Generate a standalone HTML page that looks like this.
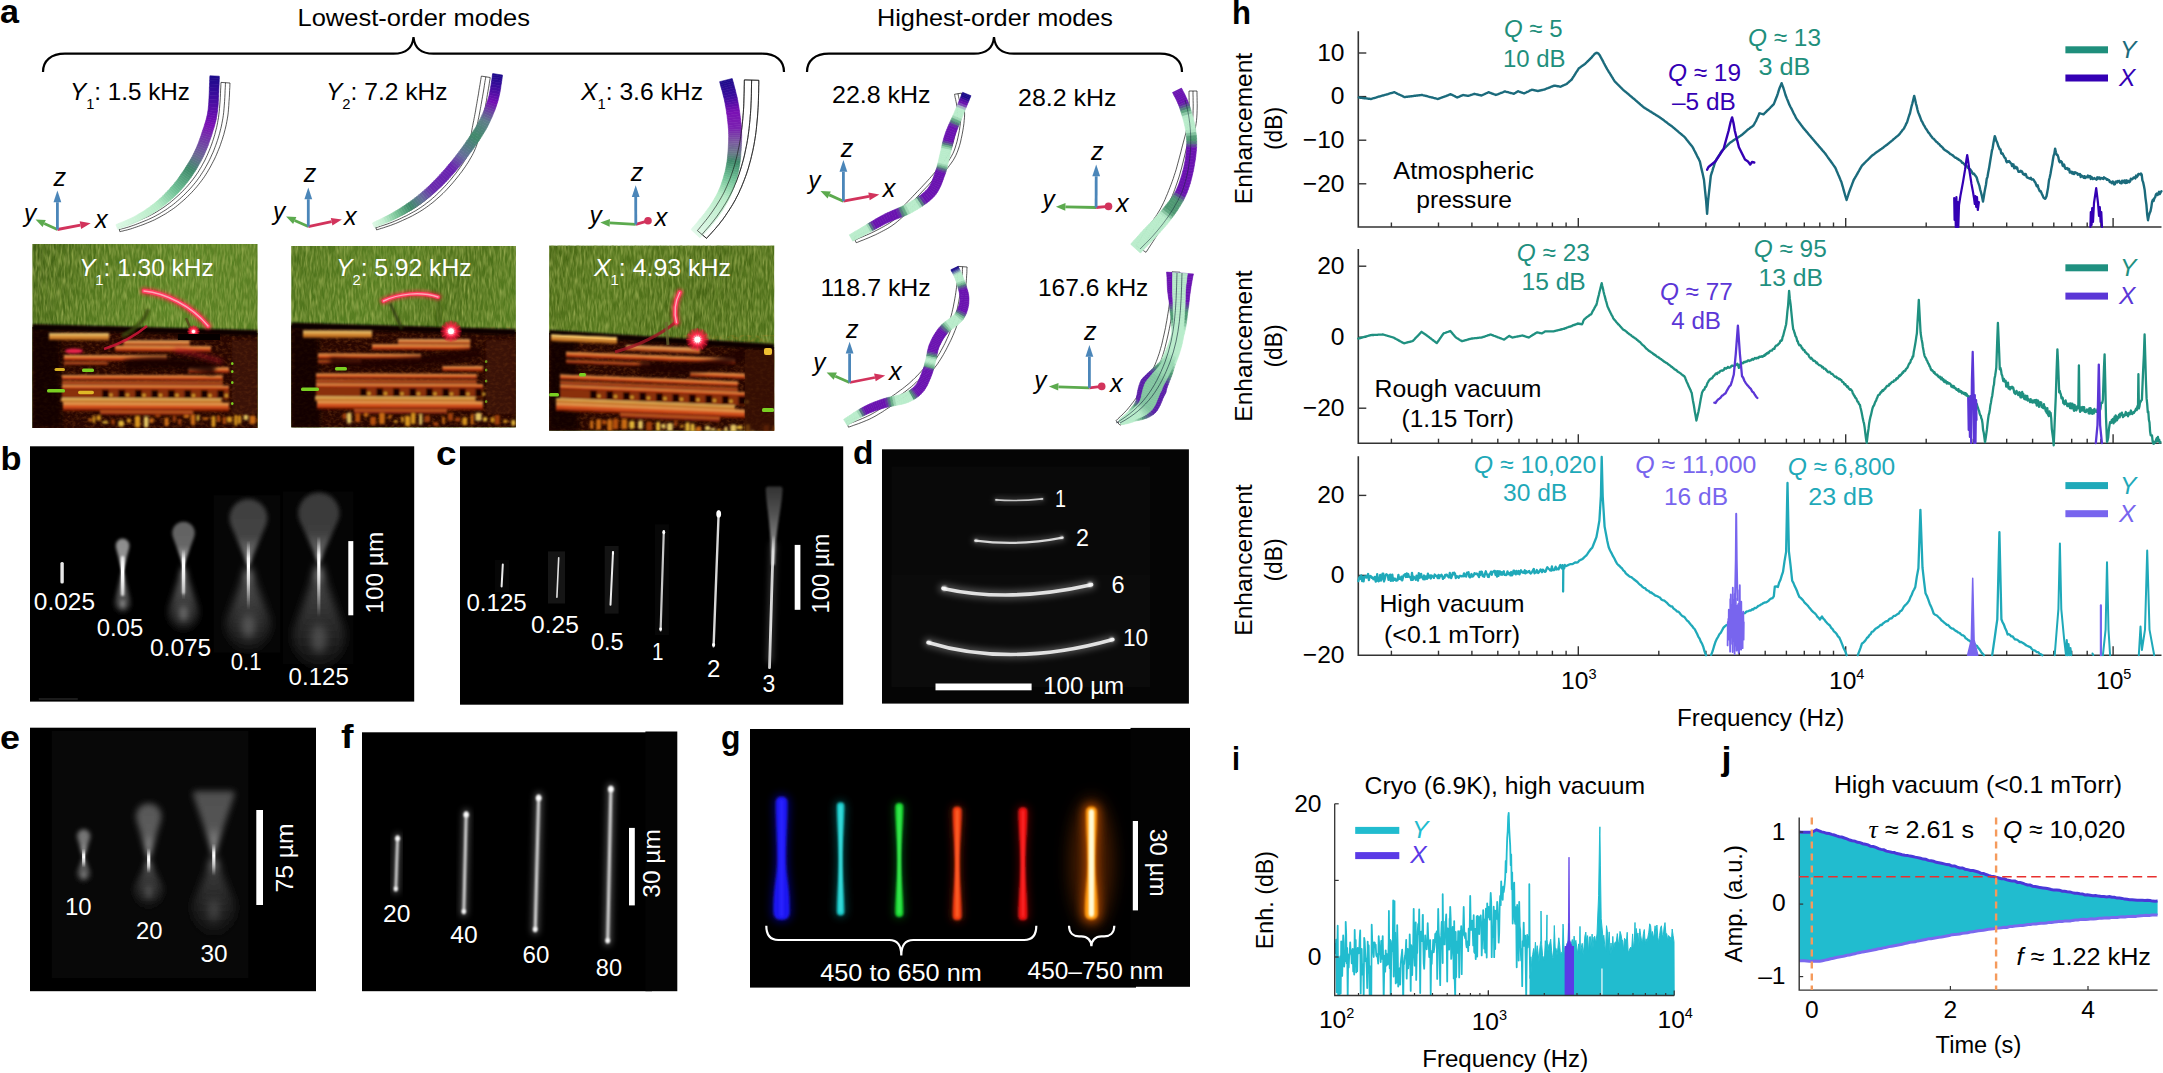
<!DOCTYPE html>
<html><head><meta charset="utf-8"><title>Figure</title>
<style>
html,body{margin:0;padding:0;background:#fff;}
body{width:2163px;height:1073px;overflow:hidden;}
svg{display:block;}
text{font-family:"Liberation Sans",sans-serif;}
</style></head><body>
<svg width="2163" height="1073" viewBox="0 0 2163 1073">
<defs>
<filter id="gnoise" x="0" y="0" width="100%" height="100%"><feTurbulence type="fractalNoise" baseFrequency="0.35 0.06" numOctaves="2" seed="3" result="n"/><feColorMatrix in="n" type="matrix" values="0 0 0 0 0.12  0 0 0 0 0.22  0 0 0 0 0.02  1.1 1.1 0 0 -0.75"/></filter>
<filter id="gnoise2" x="0" y="0" width="100%" height="100%"><feTurbulence type="fractalNoise" baseFrequency="0.5 0.09" numOctaves="2" seed="11" result="n"/><feColorMatrix in="n" type="matrix" values="0 0 0 0 0.62  0 0 0 0 0.68  0 0 0 0 0.2  0 1.6 1.0 0 -1.05"/></filter>
<filter id="cnoise" x="0" y="0" width="100%" height="100%"><feTurbulence type="fractalNoise" baseFrequency="0.25 0.35" numOctaves="2" seed="8" result="n"/><feColorMatrix in="n" type="matrix" values="0 0 0 0 0.75  0 0 0 0 0.22  0 0 0 0 0.02  1.6 0.6 0 0 -0.95"/></filter>
<filter id="b06" x="-300%" y="-100%" width="700%" height="300%"><feGaussianBlur stdDeviation="0.6"/></filter>
<filter id="b09" x="-5%" y="-5%" width="110%" height="110%"><feGaussianBlur stdDeviation="0.9"/></filter>
<filter id="b1" x="-300%" y="-100%" width="700%" height="300%"><feGaussianBlur stdDeviation="1"/></filter>
<filter id="b15" x="-300%" y="-100%" width="700%" height="300%"><feGaussianBlur stdDeviation="1.5"/></filter>
<filter id="b2" x="-300%" y="-100%" width="700%" height="300%"><feGaussianBlur stdDeviation="2"/></filter>
<filter id="b3" x="-300%" y="-100%" width="700%" height="300%"><feGaussianBlur stdDeviation="3"/></filter>
<filter id="b4" x="-300%" y="-100%" width="700%" height="300%"><feGaussianBlur stdDeviation="4"/></filter>
<filter id="b6" x="-300%" y="-100%" width="700%" height="300%"><feGaussianBlur stdDeviation="6"/></filter>
<filter id="b8" x="-300%" y="-100%" width="700%" height="300%"><feGaussianBlur stdDeviation="8"/></filter>
<filter id="b12" x="-300%" y="-100%" width="700%" height="300%"><feGaussianBlur stdDeviation="12"/></filter>
<radialGradient id="spot"><stop offset="0" stop-color="#fff"/><stop offset="0.25" stop-color="#ffd0d8"/><stop offset="0.45" stop-color="#ff3050"/><stop offset="0.75" stop-color="#e01030" stop-opacity="0.55"/><stop offset="1" stop-color="#c00020" stop-opacity="0"/></radialGradient>
<linearGradient id="barg" x1="0" y1="0" x2="0" y2="1"><stop offset="0" stop-color="#ffa24e"/><stop offset="0.45" stop-color="#ee6424"/><stop offset="1" stop-color="#a82c0c"/></linearGradient>
<linearGradient id="barg2" x1="0" y1="0" x2="0" y2="1"><stop offset="0" stop-color="#ffd070"/><stop offset="0.5" stop-color="#f8a040"/><stop offset="1" stop-color="#d05a18"/></linearGradient>
<clipPath id="pc1"><rect x="32.3" y="244" width="225.39999999999998" height="184"/></clipPath>
<linearGradient id="pg1" x1="0" y1="0" x2="1" y2="0.3"><stop offset="0" stop-color="#3d5a12"/><stop offset="0.3" stop-color="#4d721a"/><stop offset="0.65" stop-color="#5a8424"/><stop offset="1" stop-color="#577e22"/></linearGradient>
<clipPath id="pc2"><rect x="291.2" y="246" width="224.7" height="181.60000000000002"/></clipPath>
<linearGradient id="pg2" x1="0" y1="0" x2="1" y2="0.3"><stop offset="0" stop-color="#486c18"/><stop offset="0.4" stop-color="#557e20"/><stop offset="0.75" stop-color="#486a16"/><stop offset="1" stop-color="#527a1e"/></linearGradient>
<clipPath id="pc3"><rect x="549.1" y="245.5" width="225.19999999999993" height="185.3"/></clipPath>
<linearGradient id="pg3" x1="0" y1="0" x2="1" y2="0.3"><stop offset="0" stop-color="#446212"/><stop offset="0.3" stop-color="#4f7219"/><stop offset="0.7" stop-color="#466414"/><stop offset="1" stop-color="#4a6c17"/></linearGradient>
<linearGradient id="g1" x1="0" y1="538.7" x2="0" y2="572" gradientUnits="userSpaceOnUse"><stop offset="0" stop-color="#8c8c8c" stop-opacity="1"/><stop offset="0.55" stop-color="#939393" stop-opacity="1"/><stop offset="0.85" stop-color="#fcfcfc" stop-opacity="1"/><stop offset="1" stop-color="#ffffff" stop-opacity="1"/></linearGradient>
<linearGradient id="g2" x1="0" y1="572" x2="0" y2="611" gradientUnits="userSpaceOnUse"><stop offset="0" stop-color="#ffffff" stop-opacity="1"/><stop offset="0.2" stop-color="#8e8e8e" stop-opacity="0.9"/><stop offset="0.6" stop-color="#5f5f5f" stop-opacity="0.85"/><stop offset="1" stop-color="#343434" stop-opacity="0.7"/></linearGradient>
<linearGradient id="g3" x1="0" y1="559.346" x2="0" y2="593.45" gradientUnits="userSpaceOnUse"><stop offset="0" stop-color="#fff" stop-opacity="0"/><stop offset="0.2597290640394086" stop-color="#fff" stop-opacity="0.9"/><stop offset="0.37104152005629804" stop-color="#fff" stop-opacity="1"/><stop offset="0.621041520056298" stop-color="#fff" stop-opacity="0.7"/><stop offset="1" stop-color="#fff" stop-opacity="0"/></linearGradient>
<linearGradient id="g4" x1="0" y1="521.7" x2="0" y2="566" gradientUnits="userSpaceOnUse"><stop offset="0" stop-color="#626262" stop-opacity="1"/><stop offset="0.55" stop-color="#666666" stop-opacity="1"/><stop offset="0.85" stop-color="#b0b0b0" stop-opacity="1"/><stop offset="1" stop-color="#ffffff" stop-opacity="1"/></linearGradient>
<linearGradient id="g5" x1="0" y1="566" x2="0" y2="627" gradientUnits="userSpaceOnUse"><stop offset="0" stop-color="#ffffff" stop-opacity="1"/><stop offset="0.2" stop-color="#696969" stop-opacity="0.9"/><stop offset="0.6" stop-color="#464646" stop-opacity="0.85"/><stop offset="1" stop-color="#262626" stop-opacity="0.7"/></linearGradient>
<linearGradient id="g6" x1="0" y1="549.166" x2="0" y2="599.55" gradientUnits="userSpaceOnUse"><stop offset="0" stop-color="#fff" stop-opacity="0"/><stop offset="0.23387980311209886" stop-color="#fff" stop-opacity="0.9"/><stop offset="0.33411400444585554" stop-color="#fff" stop-opacity="1"/><stop offset="0.5841140044458555" stop-color="#fff" stop-opacity="0.7"/><stop offset="1" stop-color="#fff" stop-opacity="0"/></linearGradient>
<linearGradient id="g7" x1="0" y1="499.1" x2="0" y2="566" gradientUnits="userSpaceOnUse"><stop offset="0" stop-color="#404040" stop-opacity="1"/><stop offset="0.55" stop-color="#434343" stop-opacity="1"/><stop offset="0.85" stop-color="#737373" stop-opacity="1"/><stop offset="1" stop-color="#ffffff" stop-opacity="1"/></linearGradient>
<linearGradient id="g8" x1="0" y1="566" x2="0" y2="646" gradientUnits="userSpaceOnUse"><stop offset="0" stop-color="#ffffff" stop-opacity="1"/><stop offset="0.2" stop-color="#575757" stop-opacity="0.9"/><stop offset="0.6" stop-color="#3a3a3a" stop-opacity="0.85"/><stop offset="1" stop-color="#1f1f1f" stop-opacity="0.7"/></linearGradient>
<linearGradient id="g9" x1="0" y1="540.578" x2="0" y2="610.0" gradientUnits="userSpaceOnUse"><stop offset="0" stop-color="#fff" stop-opacity="0"/><stop offset="0.2563366079917028" stop-color="#fff" stop-opacity="0.9"/><stop offset="0.3661951542738612" stop-color="#fff" stop-opacity="1"/><stop offset="0.6161951542738612" stop-color="#fff" stop-opacity="0.7"/><stop offset="1" stop-color="#fff" stop-opacity="0"/></linearGradient>
<linearGradient id="g10" x1="0" y1="492.4" x2="0" y2="563" gradientUnits="userSpaceOnUse"><stop offset="0" stop-color="#3a3a3a" stop-opacity="1"/><stop offset="0.55" stop-color="#3c3c3c" stop-opacity="1"/><stop offset="0.85" stop-color="#686868" stop-opacity="1"/><stop offset="1" stop-color="#ffffff" stop-opacity="1"/></linearGradient>
<linearGradient id="g11" x1="0" y1="563" x2="0" y2="662" gradientUnits="userSpaceOnUse"><stop offset="0" stop-color="#ffffff" stop-opacity="1"/><stop offset="0.2" stop-color="#4b4b4b" stop-opacity="0.9"/><stop offset="0.6" stop-color="#323232" stop-opacity="0.85"/><stop offset="1" stop-color="#1b1b1b" stop-opacity="0.7"/></linearGradient>
<linearGradient id="g12" x1="0" y1="536.172" x2="0" y2="617.45" gradientUnits="userSpaceOnUse"><stop offset="0" stop-color="#fff" stop-opacity="0"/><stop offset="0.23105391372819215" stop-color="#fff" stop-opacity="0.9"/><stop offset="0.3300770196117031" stop-color="#fff" stop-opacity="1"/><stop offset="0.5800770196117031" stop-color="#fff" stop-opacity="0.7"/><stop offset="1" stop-color="#fff" stop-opacity="0"/></linearGradient>
<linearGradient id="g13" x1="0" y1="486.5" x2="0" y2="565" gradientUnits="userSpaceOnUse"><stop offset="0" stop-color="#666" stop-opacity="0.5"/><stop offset="0.35" stop-color="#888" stop-opacity="0.6"/><stop offset="0.75" stop-color="#bbb" stop-opacity="0.75"/><stop offset="1" stop-color="#e8e8e8" stop-opacity="0.9"/></linearGradient>
<linearGradient id="g14" x1="0" y1="535" x2="0" y2="668" gradientUnits="userSpaceOnUse"><stop offset="0" stop-color="#fff" stop-opacity="0.0"/><stop offset="0.12" stop-color="#fff" stop-opacity="0.85"/><stop offset="0.7" stop-color="#fff" stop-opacity="0.95"/><stop offset="1" stop-color="#fff" stop-opacity="0.8"/></linearGradient>
<filter id="b3w" x="-20%" y="-300%" width="140%" height="700%"><feGaussianBlur stdDeviation="3"/></filter>
<linearGradient id="g15" x1="0" y1="829.1999999999999" x2="0" y2="857" gradientUnits="userSpaceOnUse"><stop offset="0" stop-color="#737373" stop-opacity="1"/><stop offset="0.55" stop-color="#787878" stop-opacity="1"/><stop offset="0.85" stop-color="#cfcfcf" stop-opacity="1"/><stop offset="1" stop-color="#ffffff" stop-opacity="1"/></linearGradient>
<linearGradient id="g16" x1="0" y1="857" x2="0" y2="881" gradientUnits="userSpaceOnUse"><stop offset="0" stop-color="#ffffff" stop-opacity="1"/><stop offset="0.2" stop-color="#7f7f7f" stop-opacity="0.9"/><stop offset="0.6" stop-color="#555555" stop-opacity="0.85"/><stop offset="1" stop-color="#2e2e2e" stop-opacity="0.7"/></linearGradient>
<linearGradient id="g17" x1="0" y1="848.5488" x2="0" y2="867.56" gradientUnits="userSpaceOnUse"><stop offset="0" stop-color="#fff" stop-opacity="0"/><stop offset="0.31117656960107765" stop-color="#fff" stop-opacity="0.9"/><stop offset="0.4445379565729681" stop-color="#fff" stop-opacity="1"/><stop offset="0.6945379565729681" stop-color="#fff" stop-opacity="0.7"/><stop offset="1" stop-color="#fff" stop-opacity="0"/></linearGradient>
<linearGradient id="g18" x1="0" y1="803.3" x2="0" y2="859.8" gradientUnits="userSpaceOnUse"><stop offset="0" stop-color="#585858" stop-opacity="1"/><stop offset="0.55" stop-color="#5c5c5c" stop-opacity="1"/><stop offset="0.85" stop-color="#9e9e9e" stop-opacity="1"/><stop offset="1" stop-color="#ffffff" stop-opacity="1"/></linearGradient>
<linearGradient id="g19" x1="0" y1="859.8" x2="0" y2="904" gradientUnits="userSpaceOnUse"><stop offset="0" stop-color="#ffffff" stop-opacity="1"/><stop offset="0.2" stop-color="#4e4e4e" stop-opacity="0.9"/><stop offset="0.6" stop-color="#343434" stop-opacity="0.85"/><stop offset="1" stop-color="#1c1c1c" stop-opacity="0.7"/></linearGradient>
<linearGradient id="g20" x1="0" y1="847.9915" x2="0" y2="873.1705" gradientUnits="userSpaceOnUse"><stop offset="0" stop-color="#fff" stop-opacity="0"/><stop offset="0.3282874617737001" stop-color="#fff" stop-opacity="0.9"/><stop offset="0.468982088248143" stop-color="#fff" stop-opacity="1"/><stop offset="0.718982088248143" stop-color="#fff" stop-opacity="0.7"/><stop offset="1" stop-color="#fff" stop-opacity="0"/></linearGradient>
<linearGradient id="g21" x1="0" y1="791" x2="0" y2="855.8" gradientUnits="userSpaceOnUse"><stop offset="0" stop-color="#505050" stop-opacity="1"/><stop offset="0.55" stop-color="#545454" stop-opacity="1"/><stop offset="0.85" stop-color="#909090" stop-opacity="1"/><stop offset="1" stop-color="#ffffff" stop-opacity="1"/></linearGradient>
<linearGradient id="g22" x1="0" y1="855.8" x2="0" y2="929" gradientUnits="userSpaceOnUse"><stop offset="0" stop-color="#ffffff" stop-opacity="1"/><stop offset="0.2" stop-color="#424242" stop-opacity="0.9"/><stop offset="0.6" stop-color="#2c2c2c" stop-opacity="0.85"/><stop offset="1" stop-color="#181818" stop-opacity="0.7"/></linearGradient>
<linearGradient id="g23" x1="0" y1="843.4879999999999" x2="0" y2="875.93" gradientUnits="userSpaceOnUse"><stop offset="0" stop-color="#fff" stop-opacity="0"/><stop offset="0.2656556315886811" stop-color="#fff" stop-opacity="0.9"/><stop offset="0.3795080451266873" stop-color="#fff" stop-opacity="1"/><stop offset="0.6295080451266872" stop-color="#fff" stop-opacity="0.7"/><stop offset="1" stop-color="#fff" stop-opacity="0"/></linearGradient>
<clipPath id="ci"><rect x="1334.7" y="801.7" width="340.5" height="193.79999999999995"/></clipPath>
</defs>
<text x="0" y="23" font-size="34" fill="#000" text-anchor="start" font-weight="bold" font-style="normal" textLength="19" lengthAdjust="spacingAndGlyphs" >a</text>
<text x="297.5" y="26" font-size="24" fill="#000" text-anchor="start" font-weight="normal" font-style="normal" textLength="232.5" lengthAdjust="spacingAndGlyphs" >Lowest-order modes</text>
<text x="877" y="26" font-size="24" fill="#000" text-anchor="start" font-weight="normal" font-style="normal" textLength="236" lengthAdjust="spacingAndGlyphs" >Highest-order modes</text>
<path d="M43 72 C43 60.7 51 53.7 65 53.7 L393.5 53.7 C405.5 53.7 412.5 48.7 413.5 37 C414.5 48.7 421.5 53.7 433.5 53.7 L762 53.7 C776 53.7 784 60.7 784 72" fill="none" stroke="#000" stroke-width="2.2" stroke-linecap="butt"/>
<path d="M807 72 C807 60.7 815 53.7 829 53.7 L974 53.7 C986 53.7 993 48.7 994 37 C995 48.7 1002 53.7 1014 53.7 L1160 53.7 C1174 53.7 1182 60.7 1182 72" fill="none" stroke="#000" stroke-width="2.2" stroke-linecap="butt"/>
<text x="70" y="99.5" font-size="24" fill="#000" textLength="120" lengthAdjust="spacingAndGlyphs"><tspan font-style="italic">Y</tspan><tspan font-size="14.4" dy="9">1</tspan><tspan dy="-9">: 1.5 kHz</tspan></text>
<text x="326" y="100" font-size="24" fill="#000" textLength="121.5" lengthAdjust="spacingAndGlyphs"><tspan font-style="italic">Y</tspan><tspan font-size="14.4" dy="9">2</tspan><tspan dy="-9">: 7.2 kHz</tspan></text>
<text x="581" y="100" font-size="24" fill="#000" textLength="122" lengthAdjust="spacingAndGlyphs"><tspan font-style="italic">X</tspan><tspan font-size="14.4" dy="9">1</tspan><tspan dy="-9">: 3.6 kHz</tspan></text>
<path d="M221.0 82.4L220.9 84.4L220.8 87.1L220.6 90.1L220.5 93.6L220.3 97.2L220.1 101.0L219.8 104.8L219.5 108.4L219.2 111.8L218.8 114.8L218.5 117.5L218.0 120.2L217.6 122.7L217.1 125.1L216.6 127.5L216.0 129.8L215.4 132.2L214.8 134.5L214.1 136.8L213.4 139.2L212.6 141.5L211.8 143.9L210.9 146.3L210.0 148.6L209.1 150.9L208.1 153.2L207.1 155.5L206.0 157.8L205.0 160.0L203.9 162.1L202.7 164.2L201.6 166.3L200.4 168.3L199.2 170.3L198.0 172.3L196.7 174.2L195.4 176.1L194.0 178.0L192.6 179.9L191.1 181.8L189.5 183.7L187.9 185.6L186.2 187.5L184.4 189.4L182.6 191.3L180.8 193.1L178.9 194.9L177.0 196.6L175.1 198.3L173.3 199.9L171.4 201.5L169.6 203.0L167.7 204.4L165.8 205.8L163.9 207.2L161.9 208.5L160.0 209.7L158.0 211.0L156.0 212.2L154.0 213.4L151.9 214.5L149.8 215.6L147.6 216.7L145.3 217.7L143.1 218.7L140.9 219.6L138.7 220.5L136.6 221.4L134.6 222.2L132.7 223.0L131.0 223.6L129.3 224.2L127.6 224.7L126.0 225.2L124.5 225.7L123.0 226.1L121.7 226.5L120.6 226.8L119.5 227.1L118.7 227.3L119.9 231.7L120.7 231.5L121.7 231.2L122.9 231.0L124.2 230.6L125.7 230.3L127.3 229.9L129.0 229.4L130.8 228.9L132.6 228.3L134.5 227.6L136.4 227.0L138.4 226.3L140.6 225.5L142.9 224.7L145.2 223.8L147.5 222.8L149.9 221.9L152.3 220.8L154.6 219.8L156.8 218.6L159.0 217.5L161.1 216.3L163.2 215.1L165.4 213.9L167.4 212.6L169.5 211.2L171.6 209.8L173.7 208.4L175.7 206.9L177.7 205.3L179.7 203.6L181.7 201.9L183.8 200.1L185.8 198.3L187.7 196.4L189.7 194.5L191.6 192.5L193.4 190.6L195.2 188.6L196.9 186.6L198.5 184.6L200.1 182.6L201.6 180.6L203.1 178.6L204.5 176.6L205.8 174.5L207.2 172.4L208.4 170.3L209.7 168.1L210.9 165.9L212.1 163.6L213.3 161.3L214.5 159.0L215.6 156.6L216.7 154.2L217.7 151.7L218.7 149.3L219.7 146.8L220.6 144.3L221.4 141.8L222.3 139.4L223.0 136.9L223.8 134.5L224.4 132.0L225.1 129.5L225.7 127.0L226.3 124.4L226.8 121.7L227.3 118.9L227.8 116.0L228.2 112.8L228.5 109.2L228.8 105.4L229.0 101.6L229.3 97.7L229.5 94.0L229.6 90.6L229.8 87.5L229.9 84.9L230.0 83.0Z" fill="#fff" stroke="#111" stroke-width="0.7" stroke-linejoin="round"/>
<path d="M225.5 82.7L225.4 84.7L225.3 87.3L225.1 90.3L225.0 93.8L224.8 97.5L224.6 101.3L224.3 105.1L224.0 108.8L223.7 112.3L223.3 115.4L222.9 118.2L222.4 120.9L221.9 123.5L221.4 126.1L220.8 128.5L220.2 130.9L219.6 133.3L218.9 135.7L218.2 138.1L217.4 140.5L216.6 142.9L215.7 145.4L214.8 147.8L213.9 150.2L212.9 152.6L211.8 154.9L210.8 157.2L209.7 159.5L208.6 161.8L207.4 164.0L206.2 166.2L205.0 168.3L203.8 170.4L202.5 172.4L201.2 174.4L199.9 176.4L198.5 178.4L197.1 180.3L195.6 182.3L194.0 184.2L192.4 186.1L190.7 188.1L188.9 190.0L187.0 191.9L185.2 193.8L183.3 195.7L181.3 197.5L179.4 199.3L177.4 201.0L175.5 202.6L173.6 204.2L171.6 205.7L169.6 207.1L167.7 208.5L165.7 209.9L163.6 211.2L161.6 212.4L159.6 213.7L157.5 214.8L155.4 216.0L153.3 217.1L151.0 218.2L148.7 219.3L146.4 220.3L144.1 221.2L141.9 222.1L139.6 223.0L137.5 223.8L135.5 224.6L133.6 225.3L131.8 225.9L130.0 226.5L128.3 227.1L126.7 227.5L125.1 228.0L123.6 228.4L122.3 228.7L121.1 229.0L120.1 229.3L119.3 229.5" fill="none" stroke="#111" stroke-width="0.7"/>
<g><path d="M209.9 75.8L209.8 77.9L219.3 78.3L219.3 76.2Z" fill="#1d0a8b" stroke="#1d0a8b" stroke-width="0.6"/><path d="M209.8 77.9L209.7 80.7L219.2 81.0L219.3 78.3Z" fill="#210a8d" stroke="#210a8d" stroke-width="0.6"/><path d="M209.7 80.7L209.6 84.0L219.1 84.3L219.2 81.0Z" fill="#250b90" stroke="#250b90" stroke-width="0.6"/><path d="M209.6 84.0L209.4 87.7L218.9 88.0L219.1 84.3Z" fill="#2b0b93" stroke="#2b0b93" stroke-width="0.6"/><path d="M209.4 87.7L209.3 91.6L218.8 92.0L218.9 88.0Z" fill="#310b97" stroke="#310b97" stroke-width="0.6"/><path d="M209.3 91.6L209.1 95.6L218.6 96.1L218.8 92.0Z" fill="#380c9b" stroke="#380c9b" stroke-width="0.6"/><path d="M209.1 95.6L208.9 99.6L218.4 100.1L218.6 96.1Z" fill="#3f0c9e" stroke="#3f0c9e" stroke-width="0.6"/><path d="M208.9 99.6L208.7 103.4L218.2 104.0L218.4 100.1Z" fill="#480da1" stroke="#480da1" stroke-width="0.6"/><path d="M208.7 103.4L208.4 106.8L217.9 107.7L218.2 104.0Z" fill="#500da4" stroke="#500da4" stroke-width="0.6"/><path d="M208.4 106.8L208.1 109.7L217.5 110.9L217.9 107.7Z" fill="#570ea7" stroke="#570ea7" stroke-width="0.6"/><path d="M208.1 109.7L207.7 112.3L217.1 113.7L217.5 110.9Z" fill="#5d0ea9" stroke="#5d0ea9" stroke-width="0.6"/><path d="M207.7 112.3L207.3 114.6L216.7 116.3L217.1 113.7Z" fill="#620fab" stroke="#620fab" stroke-width="0.6"/><path d="M207.3 114.6L206.8 116.7L216.3 118.8L216.7 116.3Z" fill="#670fad" stroke="#670fad" stroke-width="0.6"/><path d="M206.8 116.7L206.3 118.8L215.8 121.1L216.3 118.8Z" fill="#6c0faf" stroke="#6c0faf" stroke-width="0.6"/><path d="M206.3 118.8L205.8 120.7L215.2 123.2L215.8 121.1Z" fill="#710fb1" stroke="#710fb1" stroke-width="0.6"/><path d="M205.8 120.7L205.2 122.6L214.7 125.3L215.2 123.2Z" fill="#7510b2" stroke="#7510b2" stroke-width="0.6"/><path d="M205.2 122.6L204.6 124.5L214.1 127.4L214.7 125.3Z" fill="#7a10b4" stroke="#7a10b4" stroke-width="0.6"/><path d="M204.6 124.5L204.0 126.4L213.4 129.4L214.1 127.4Z" fill="#7915b2" stroke="#7915b2" stroke-width="0.6"/><path d="M204.0 126.4L203.3 128.5L212.8 131.5L213.4 129.4Z" fill="#781bb1" stroke="#781bb1" stroke-width="0.6"/><path d="M203.3 128.5L202.6 130.6L212.2 133.6L212.8 131.5Z" fill="#7720af" stroke="#7720af" stroke-width="0.6"/><path d="M202.6 130.6L201.9 132.7L211.5 135.8L212.2 133.6Z" fill="#7626ad" stroke="#7626ad" stroke-width="0.6"/><path d="M201.9 132.7L201.2 134.9L210.7 138.1L211.5 135.8Z" fill="#752dab" stroke="#752dab" stroke-width="0.6"/><path d="M201.2 134.9L200.5 137.1L209.9 140.4L210.7 138.1Z" fill="#7333a9" stroke="#7333a9" stroke-width="0.6"/><path d="M200.5 137.1L199.7 139.2L209.1 142.6L209.9 140.4Z" fill="#7239a7" stroke="#7239a7" stroke-width="0.6"/><path d="M199.7 139.2L198.9 141.4L208.3 144.9L209.1 142.6Z" fill="#713fa5" stroke="#713fa5" stroke-width="0.6"/><path d="M198.9 141.4L198.1 143.5L207.4 147.2L208.3 144.9Z" fill="#7045a3" stroke="#7045a3" stroke-width="0.6"/><path d="M198.1 143.5L197.2 145.7L206.5 149.5L207.4 147.2Z" fill="#6f4ca1" stroke="#6f4ca1" stroke-width="0.6"/><path d="M197.2 145.7L196.4 147.7L205.5 151.7L206.5 149.5Z" fill="#6e529e" stroke="#6e529e" stroke-width="0.6"/><path d="M196.4 147.7L195.4 149.8L204.5 154.0L205.5 151.7Z" fill="#6d599b" stroke="#6d599b" stroke-width="0.6"/><path d="M195.4 149.8L194.5 151.8L203.5 156.2L204.5 154.0Z" fill="#6c5f97" stroke="#6c5f97" stroke-width="0.6"/><path d="M194.5 151.8L193.5 153.8L202.4 158.4L203.5 156.2Z" fill="#6b6594" stroke="#6b6594" stroke-width="0.6"/><path d="M193.5 153.8L192.5 155.9L201.3 160.5L202.4 158.4Z" fill="#686b90" stroke="#686b90" stroke-width="0.6"/><path d="M192.5 155.9L191.4 157.9L200.1 162.7L201.3 160.5Z" fill="#61708a" stroke="#61708a" stroke-width="0.6"/><path d="M191.4 157.9L190.3 159.8L198.9 164.8L200.1 162.7Z" fill="#5b7584" stroke="#5b7584" stroke-width="0.6"/><path d="M190.3 159.8L189.1 161.8L197.7 166.9L198.9 164.8Z" fill="#547a7e" stroke="#547a7e" stroke-width="0.6"/><path d="M189.1 161.8L187.9 163.8L196.5 169.0L197.7 166.9Z" fill="#4e7f78" stroke="#4e7f78" stroke-width="0.6"/><path d="M187.9 163.8L186.7 165.7L195.2 171.0L196.5 169.0Z" fill="#478472" stroke="#478472" stroke-width="0.6"/><path d="M186.7 165.7L185.5 167.6L193.9 173.0L195.2 171.0Z" fill="#41896c" stroke="#41896c" stroke-width="0.6"/><path d="M185.5 167.6L184.3 169.5L192.6 175.0L193.9 173.0Z" fill="#428e6d" stroke="#428e6d" stroke-width="0.6"/><path d="M184.3 169.5L183.1 171.3L191.3 176.9L192.6 175.0Z" fill="#479271" stroke="#479271" stroke-width="0.6"/><path d="M183.1 171.3L181.9 173.1L190.0 178.8L191.3 176.9Z" fill="#4b9775" stroke="#4b9775" stroke-width="0.6"/><path d="M181.9 173.1L180.7 174.8L188.7 180.6L190.0 178.8Z" fill="#4f9c78" stroke="#4f9c78" stroke-width="0.6"/><path d="M180.7 174.8L179.5 176.5L187.3 182.3L188.7 180.6Z" fill="#53a17c" stroke="#53a17c" stroke-width="0.6"/><path d="M179.5 176.5L178.3 178.2L185.9 184.1L187.3 182.3Z" fill="#57a580" stroke="#57a580" stroke-width="0.6"/><path d="M178.3 178.2L177.1 179.9L184.5 185.8L185.9 184.1Z" fill="#5baa83" stroke="#5baa83" stroke-width="0.6"/><path d="M177.1 179.9L175.9 181.5L183.1 187.4L184.5 185.8Z" fill="#5fae87" stroke="#5fae87" stroke-width="0.6"/><path d="M175.9 181.5L174.6 183.1L181.7 189.1L183.1 187.4Z" fill="#63b38b" stroke="#63b38b" stroke-width="0.6"/><path d="M174.6 183.1L173.3 184.7L180.2 190.7L181.7 189.1Z" fill="#67b78e" stroke="#67b78e" stroke-width="0.6"/><path d="M173.3 184.7L171.9 186.2L178.6 192.4L180.2 190.7Z" fill="#6cbc92" stroke="#6cbc92" stroke-width="0.6"/><path d="M171.9 186.2L170.5 187.8L177.1 194.0L178.6 192.4Z" fill="#70c196" stroke="#70c196" stroke-width="0.6"/><path d="M170.5 187.8L169.1 189.4L175.4 195.6L177.1 194.0Z" fill="#77c59a" stroke="#77c59a" stroke-width="0.6"/><path d="M169.1 189.4L167.6 191.0L173.8 197.2L175.4 195.6Z" fill="#7dc99f" stroke="#7dc99f" stroke-width="0.6"/><path d="M167.6 191.0L166.1 192.6L172.1 198.7L173.8 197.2Z" fill="#84cda4" stroke="#84cda4" stroke-width="0.6"/><path d="M166.1 192.6L164.6 194.1L170.4 200.3L172.1 198.7Z" fill="#8bd1a8" stroke="#8bd1a8" stroke-width="0.6"/><path d="M164.6 194.1L163.1 195.7L168.6 201.8L170.4 200.3Z" fill="#92d5ad" stroke="#92d5ad" stroke-width="0.6"/><path d="M163.1 195.7L161.5 197.2L166.8 203.3L168.6 201.8Z" fill="#98d9b2" stroke="#98d9b2" stroke-width="0.6"/><path d="M161.5 197.2L159.8 198.7L165.0 204.7L166.8 203.3Z" fill="#9fdeb7" stroke="#9fdeb7" stroke-width="0.6"/><path d="M159.8 198.7L158.2 200.1L163.1 206.2L165.0 204.7Z" fill="#a6e2bc" stroke="#a6e2bc" stroke-width="0.6"/><path d="M158.2 200.1L156.5 201.6L161.2 207.6L163.1 206.2Z" fill="#ade6c1" stroke="#ade6c1" stroke-width="0.6"/><path d="M156.5 201.6L154.7 203.0L159.3 209.0L161.2 207.6Z" fill="#b4eac5" stroke="#b4eac5" stroke-width="0.6"/><path d="M154.7 203.0L153.0 204.4L157.3 210.4L159.3 209.0Z" fill="#b7ecc7" stroke="#b7ecc7" stroke-width="0.6"/><path d="M153.0 204.4L151.1 205.8L155.2 211.7L157.3 210.4Z" fill="#b9ecc9" stroke="#b9ecc9" stroke-width="0.6"/><path d="M151.1 205.8L149.3 207.2L153.2 213.0L155.2 211.7Z" fill="#bbedca" stroke="#bbedca" stroke-width="0.6"/><path d="M149.3 207.2L147.3 208.5L151.1 214.3L153.2 213.0Z" fill="#bdeecc" stroke="#bdeecc" stroke-width="0.6"/><path d="M147.3 208.5L145.4 209.9L148.9 215.6L151.1 214.3Z" fill="#bfeecd" stroke="#bfeecd" stroke-width="0.6"/><path d="M145.4 209.9L143.4 211.2L146.8 216.8L148.9 215.6Z" fill="#c1efcf" stroke="#c1efcf" stroke-width="0.6"/><path d="M143.4 211.2L141.4 212.4L144.7 218.0L146.8 216.8Z" fill="#c3f0d1" stroke="#c3f0d1" stroke-width="0.6"/><path d="M141.4 212.4L139.4 213.6L142.5 219.1L144.7 218.0Z" fill="#c5f0d2" stroke="#c5f0d2" stroke-width="0.6"/><path d="M139.4 213.6L137.5 214.8L140.4 220.2L142.5 219.1Z" fill="#c7f1d4" stroke="#c7f1d4" stroke-width="0.6"/><path d="M137.5 214.8L135.5 215.9L138.3 221.3L140.4 220.2Z" fill="#c9f2d5" stroke="#c9f2d5" stroke-width="0.6"/><path d="M135.5 215.9L133.5 217.0L136.1 222.3L138.3 221.3Z" fill="#cbf2d7" stroke="#cbf2d7" stroke-width="0.6"/><path d="M133.5 217.0L131.4 218.0L133.7 223.3L136.1 222.3Z" fill="#cdf3d8" stroke="#cdf3d8" stroke-width="0.6"/><path d="M131.4 218.0L129.1 219.1L131.4 224.3L133.7 223.3Z" fill="#cff4da" stroke="#cff4da" stroke-width="0.6"/><path d="M129.1 219.1L126.8 220.1L129.0 225.3L131.4 224.3Z" fill="#d1f4db" stroke="#d1f4db" stroke-width="0.6"/><path d="M126.8 220.1L124.6 221.0L126.6 226.1L129.0 225.3Z" fill="#d3f5dd" stroke="#d3f5dd" stroke-width="0.6"/><path d="M124.6 221.0L122.4 221.9L124.4 227.0L126.6 226.1Z" fill="#d5f6df" stroke="#d5f6df" stroke-width="0.6"/><path d="M122.4 221.9L120.4 222.8L122.3 227.7L124.4 227.0Z" fill="#d7f6e0" stroke="#d7f6e0" stroke-width="0.6"/><path d="M120.4 222.8L118.6 223.5L120.5 228.4L122.3 227.7Z" fill="#d9f7e1" stroke="#d9f7e1" stroke-width="0.6"/><path d="M118.6 223.5L117.1 224.1L118.9 228.9L120.5 228.4Z" fill="#daf7e3" stroke="#daf7e3" stroke-width="0.6"/><path d="M117.1 224.1L115.9 224.7L117.7 229.3L118.9 228.9Z" fill="#dbf8e4" stroke="#dbf8e4" stroke-width="0.6"/></g>
<line x1="57.4" y1="229.5" x2="44.2" y2="223.5" stroke="#5caa4e" stroke-width="2.8"/>
<path d="M35.5 219.6L45.8 220.0L42.6 227.1Z" fill="#5caa4e"/>
<line x1="57.4" y1="229.5" x2="80.4" y2="225.2" stroke="#d2335c" stroke-width="2.8"/>
<path d="M90.7 223.2L81.1 229.0L79.7 221.3Z" fill="#d2335c"/>
<line x1="57.4" y1="229.5" x2="57.4" y2="202.2" stroke="#4b86b9" stroke-width="2.8"/>
<path d="M57.4 190.5L61.3 202.2L53.5 202.2Z" fill="#4b86b9"/>
<text x="53.5" y="186" font-size="25" fill="#000" text-anchor="start" font-weight="normal" font-style="italic" textLength="12.6" lengthAdjust="spacingAndGlyphs" >z</text>
<text x="94.9" y="227.7" font-size="25" fill="#000" text-anchor="start" font-weight="normal" font-style="italic" textLength="12.6" lengthAdjust="spacingAndGlyphs" >x</text>
<text x="24.1" y="222.2" font-size="25" fill="#000" text-anchor="start" font-weight="normal" font-style="italic" textLength="12.2" lengthAdjust="spacingAndGlyphs" >y</text>
<path d="M481.4 76.1L481.1 77.6L480.8 79.6L480.4 81.9L480.0 84.5L479.5 87.3L479.0 90.2L478.6 93.2L478.1 96.0L477.6 98.7L477.2 101.2L476.8 103.5L476.4 105.8L476.0 107.9L475.7 110.1L475.3 112.2L474.9 114.3L474.5 116.4L474.1 118.5L473.7 120.7L473.2 122.9L472.8 125.2L472.3 127.6L471.9 129.9L471.5 132.3L471.0 134.6L470.5 136.9L470.0 139.2L469.3 141.4L468.7 143.6L467.9 145.7L467.0 147.8L466.1 149.9L465.0 152.0L463.9 154.1L462.8 156.2L461.5 158.3L460.2 160.4L458.9 162.5L457.4 164.7L455.9 166.8L454.4 169.0L452.8 171.2L451.1 173.4L449.3 175.7L447.4 177.9L445.6 180.1L443.7 182.3L441.8 184.4L439.9 186.5L438.0 188.4L436.2 190.3L434.3 192.2L432.4 194.0L430.6 195.7L428.7 197.4L426.8 199.0L424.8 200.6L422.8 202.2L420.8 203.7L418.7 205.2L416.6 206.7L414.4 208.1L412.1 209.4L409.8 210.8L407.4 212.1L405.1 213.3L402.7 214.6L400.4 215.7L398.1 216.9L395.9 217.9L393.7 218.9L391.3 219.9L388.9 220.8L386.5 221.7L384.2 222.5L381.9 223.3L379.9 224.0L378.0 224.7L376.4 225.2L375.2 225.7L376.6 229.9L377.9 229.5L379.4 229.0L381.3 228.4L383.4 227.8L385.7 227.0L388.1 226.2L390.6 225.4L393.1 224.4L395.6 223.5L397.9 222.5L400.2 221.5L402.6 220.4L405.0 219.3L407.5 218.2L410.0 217.0L412.5 215.7L414.9 214.4L417.4 213.0L419.8 211.6L422.1 210.2L424.3 208.7L426.5 207.2L428.7 205.6L430.8 204.0L432.9 202.4L434.9 200.7L436.9 198.9L439.0 197.1L441.0 195.3L443.0 193.4L445.0 191.4L447.0 189.3L449.0 187.1L451.0 184.9L453.0 182.6L454.9 180.3L456.8 178.0L458.6 175.7L460.4 173.4L462.1 171.2L463.6 169.0L465.2 166.8L466.6 164.6L468.1 162.4L469.4 160.2L470.7 157.9L472.0 155.7L473.2 153.4L474.3 151.1L475.3 148.7L476.3 146.3L477.1 143.8L477.8 141.3L478.5 138.8L479.1 136.4L479.6 133.9L480.1 131.6L480.6 129.2L481.1 126.9L481.6 124.7L482.1 122.5L482.6 120.3L483.0 118.1L483.5 116.0L483.9 113.8L484.3 111.7L484.7 109.5L485.2 107.3L485.6 105.1L486.0 102.8L486.5 100.3L486.9 97.5L487.4 94.6L487.9 91.7L488.4 88.8L488.9 86.0L489.3 83.3L489.7 81.0L490.0 79.0L490.2 77.5Z" fill="#fff" stroke="#111" stroke-width="0.7" stroke-linejoin="round"/>
<path d="M485.8 76.8L485.6 78.3L485.2 80.3L484.8 82.6L484.4 85.2L484.0 88.0L483.5 91.0L483.0 93.9L482.5 96.8L482.0 99.5L481.6 102.0L481.2 104.3L480.8 106.6L480.4 108.7L480.0 110.9L479.6 113.0L479.2 115.1L478.8 117.2L478.3 119.4L477.9 121.6L477.4 123.8L476.9 126.1L476.5 128.4L476.0 130.8L475.5 133.1L475.0 135.5L474.5 137.9L473.9 140.2L473.2 142.6L472.5 144.9L471.6 147.2L470.6 149.4L469.6 151.7L468.5 153.9L467.3 156.0L466.1 158.2L464.8 160.3L463.4 162.5L462.0 164.7L460.5 166.8L459.0 169.0L457.4 171.2L455.7 173.5L453.9 175.7L452.1 178.0L450.2 180.3L448.3 182.5L446.4 184.7L444.4 186.8L442.4 188.9L440.5 190.9L438.6 192.8L436.6 194.7L434.7 196.5L432.7 198.2L430.8 199.9L428.8 201.5L426.7 203.1L424.7 204.7L422.6 206.2L420.4 207.7L418.2 209.1L415.9 210.6L413.5 211.9L411.1 213.2L408.7 214.5L406.3 215.8L403.9 216.9L401.5 218.1L399.2 219.2L396.9 220.2L394.6 221.2L392.2 222.2L389.8 223.1L387.3 224.0L384.9 224.8L382.7 225.5L380.6 226.2L378.7 226.8L377.1 227.4L375.9 227.8" fill="none" stroke="#111" stroke-width="0.7"/>
<g><path d="M492.7 73.5L492.4 75.0L502.3 76.5L502.5 75.1Z" fill="#1d0a8b" stroke="#1d0a8b" stroke-width="0.6"/><path d="M492.4 75.0L492.2 76.9L502.1 78.3L502.3 76.5Z" fill="#210a8e" stroke="#210a8e" stroke-width="0.6"/><path d="M492.2 76.9L491.9 79.1L501.8 80.5L502.1 78.3Z" fill="#260b91" stroke="#260b91" stroke-width="0.6"/><path d="M491.9 79.1L491.5 81.6L501.4 83.0L501.8 80.5Z" fill="#2c0b94" stroke="#2c0b94" stroke-width="0.6"/><path d="M491.5 81.6L491.1 84.2L501.0 85.7L501.4 83.0Z" fill="#330c98" stroke="#330c98" stroke-width="0.6"/><path d="M491.1 84.2L490.7 87.0L500.6 88.6L501.0 85.7Z" fill="#3a0c9c" stroke="#3a0c9c" stroke-width="0.6"/><path d="M490.7 87.0L490.2 89.7L500.1 91.5L500.6 88.6Z" fill="#440da0" stroke="#440da0" stroke-width="0.6"/><path d="M490.2 89.7L489.7 92.4L499.5 94.4L500.1 91.5Z" fill="#4e0da4" stroke="#4e0da4" stroke-width="0.6"/><path d="M489.7 92.4L489.2 94.9L498.9 97.2L499.5 94.4Z" fill="#580ea8" stroke="#580ea8" stroke-width="0.6"/><path d="M489.2 94.9L488.6 97.3L498.2 99.9L498.9 97.2Z" fill="#610fac" stroke="#610fac" stroke-width="0.6"/><path d="M488.6 97.3L487.9 99.5L497.5 102.4L498.2 99.9Z" fill="#6a0fb0" stroke="#6a0fb0" stroke-width="0.6"/><path d="M487.9 99.5L487.2 101.8L496.7 104.9L497.5 102.4Z" fill="#7310b4" stroke="#7310b4" stroke-width="0.6"/><path d="M487.2 101.8L486.4 104.1L495.9 107.4L496.7 104.9Z" fill="#721caf" stroke="#721caf" stroke-width="0.6"/><path d="M486.4 104.1L485.6 106.4L495.0 109.9L495.9 107.4Z" fill="#6f2aaa" stroke="#6f2aaa" stroke-width="0.6"/><path d="M485.6 106.4L484.7 108.7L494.0 112.3L495.0 109.9Z" fill="#6c38a5" stroke="#6c38a5" stroke-width="0.6"/><path d="M484.7 108.7L483.8 110.9L493.0 114.8L494.0 112.3Z" fill="#6a46a0" stroke="#6a46a0" stroke-width="0.6"/><path d="M483.8 110.9L482.9 113.2L492.0 117.2L493.0 114.8Z" fill="#67539a" stroke="#67539a" stroke-width="0.6"/><path d="M482.9 113.2L481.8 115.4L490.9 119.6L492.0 117.2Z" fill="#656195" stroke="#656195" stroke-width="0.6"/><path d="M481.8 115.4L480.8 117.7L489.8 122.0L490.9 119.6Z" fill="#626f90" stroke="#626f90" stroke-width="0.6"/><path d="M480.8 117.7L479.7 119.9L488.7 124.3L489.8 122.0Z" fill="#5f7d8b" stroke="#5f7d8b" stroke-width="0.6"/><path d="M479.7 119.9L478.6 122.0L487.5 126.7L488.7 124.3Z" fill="#5b8086" stroke="#5b8086" stroke-width="0.6"/><path d="M478.6 122.0L477.5 124.1L486.2 129.0L487.5 126.7Z" fill="#578282" stroke="#578282" stroke-width="0.6"/><path d="M477.5 124.1L476.3 126.2L484.9 131.3L486.2 129.0Z" fill="#52837d" stroke="#52837d" stroke-width="0.6"/><path d="M476.3 126.2L475.0 128.3L483.5 133.5L484.9 131.3Z" fill="#4e8579" stroke="#4e8579" stroke-width="0.6"/><path d="M475.0 128.3L473.7 130.4L482.1 135.8L483.5 133.5Z" fill="#4a8675" stroke="#4a8675" stroke-width="0.6"/><path d="M473.7 130.4L472.3 132.5L480.7 138.0L482.1 135.8Z" fill="#458870" stroke="#458870" stroke-width="0.6"/><path d="M472.3 132.5L471.0 134.6L479.3 140.2L480.7 138.0Z" fill="#41896c" stroke="#41896c" stroke-width="0.6"/><path d="M471.0 134.6L469.5 136.8L477.8 142.4L479.3 140.2Z" fill="#42886d" stroke="#42886d" stroke-width="0.6"/><path d="M469.5 136.8L468.1 138.9L476.3 144.6L477.8 142.4Z" fill="#468573" stroke="#468573" stroke-width="0.6"/><path d="M468.1 138.9L466.6 141.0L474.8 146.8L476.3 144.6Z" fill="#4b8279" stroke="#4b8279" stroke-width="0.6"/><path d="M466.6 141.0L465.1 143.2L473.2 149.0L474.8 146.8Z" fill="#4f7f7e" stroke="#4f7f7e" stroke-width="0.6"/><path d="M465.1 143.2L463.6 145.4L471.6 151.2L473.2 149.0Z" fill="#547c84" stroke="#547c84" stroke-width="0.6"/><path d="M463.6 145.4L462.0 147.6L469.9 153.4L471.6 151.2Z" fill="#59798a" stroke="#59798a" stroke-width="0.6"/><path d="M462.0 147.6L460.4 149.8L468.3 155.6L469.9 153.4Z" fill="#5e7690" stroke="#5e7690" stroke-width="0.6"/><path d="M460.4 149.8L458.8 151.9L466.5 157.9L468.3 155.6Z" fill="#627295" stroke="#627295" stroke-width="0.6"/><path d="M458.8 151.9L457.1 154.1L464.8 160.1L466.5 157.9Z" fill="#666d9b" stroke="#666d9b" stroke-width="0.6"/><path d="M457.1 154.1L455.5 156.3L463.0 162.3L464.8 160.1Z" fill="#67609f" stroke="#67609f" stroke-width="0.6"/><path d="M455.5 156.3L453.8 158.4L461.2 164.5L463.0 162.3Z" fill="#6852a2" stroke="#6852a2" stroke-width="0.6"/><path d="M453.8 158.4L452.1 160.6L459.4 166.6L461.2 164.5Z" fill="#6845a6" stroke="#6845a6" stroke-width="0.6"/><path d="M452.1 160.6L450.4 162.6L457.6 168.8L459.4 166.6Z" fill="#6938aa" stroke="#6938aa" stroke-width="0.6"/><path d="M450.4 162.6L448.6 164.7L455.8 170.9L457.6 168.8Z" fill="#6a2bad" stroke="#6a2bad" stroke-width="0.6"/><path d="M448.6 164.7L446.9 166.8L454.0 173.0L455.8 170.9Z" fill="#6a22b0" stroke="#6a22b0" stroke-width="0.6"/><path d="M446.9 166.8L445.1 168.9L452.1 175.0L454.0 173.0Z" fill="#6a23b0" stroke="#6a23b0" stroke-width="0.6"/><path d="M445.1 168.9L443.3 170.9L450.3 177.1L452.1 175.0Z" fill="#6a24b0" stroke="#6a24b0" stroke-width="0.6"/><path d="M443.3 170.9L441.5 172.9L448.4 179.2L450.3 177.1Z" fill="#6a25af" stroke="#6a25af" stroke-width="0.6"/><path d="M441.5 172.9L439.7 174.9L446.5 181.2L448.4 179.2Z" fill="#6a25af" stroke="#6a25af" stroke-width="0.6"/><path d="M439.7 174.9L437.9 176.9L444.5 183.2L446.5 181.2Z" fill="#6a26af" stroke="#6a26af" stroke-width="0.6"/><path d="M437.9 176.9L436.1 178.8L442.6 185.2L444.5 183.2Z" fill="#6a27af" stroke="#6a27af" stroke-width="0.6"/><path d="M436.1 178.8L434.2 180.7L440.6 187.2L442.6 185.2Z" fill="#6a28af" stroke="#6a28af" stroke-width="0.6"/><path d="M434.2 180.7L432.4 182.6L438.6 189.0L440.6 187.2Z" fill="#6a28ae" stroke="#6a28ae" stroke-width="0.6"/><path d="M432.4 182.6L430.5 184.4L436.6 190.9L438.6 189.0Z" fill="#6a29ae" stroke="#6a29ae" stroke-width="0.6"/><path d="M430.5 184.4L428.7 186.2L434.6 192.7L436.6 190.9Z" fill="#6a2aae" stroke="#6a2aae" stroke-width="0.6"/><path d="M428.7 186.2L426.8 187.9L432.5 194.4L434.6 192.7Z" fill="#6934ab" stroke="#6934ab" stroke-width="0.6"/><path d="M426.8 187.9L424.9 189.7L430.5 196.2L432.5 194.4Z" fill="#6941a7" stroke="#6941a7" stroke-width="0.6"/><path d="M424.9 189.7L422.9 191.4L428.4 197.9L430.5 196.2Z" fill="#684ea4" stroke="#684ea4" stroke-width="0.6"/><path d="M422.9 191.4L421.0 193.0L426.3 199.5L428.4 197.9Z" fill="#675ba0" stroke="#675ba0" stroke-width="0.6"/><path d="M421.0 193.0L419.0 194.7L424.2 201.2L426.3 199.5Z" fill="#66689c" stroke="#66689c" stroke-width="0.6"/><path d="M419.0 194.7L417.1 196.3L422.0 202.8L424.2 201.2Z" fill="#647297" stroke="#647297" stroke-width="0.6"/><path d="M417.1 196.3L415.1 197.8L419.9 204.3L422.0 202.8Z" fill="#5d768e" stroke="#5d768e" stroke-width="0.6"/><path d="M415.1 197.8L413.1 199.4L417.7 205.8L419.9 204.3Z" fill="#557b86" stroke="#557b86" stroke-width="0.6"/><path d="M413.1 199.4L411.0 200.9L415.5 207.3L417.7 205.8Z" fill="#4e807d" stroke="#4e807d" stroke-width="0.6"/><path d="M411.0 200.9L409.0 202.4L413.3 208.8L415.5 207.3Z" fill="#478474" stroke="#478474" stroke-width="0.6"/><path d="M409.0 202.4L406.9 203.8L411.0 210.2L413.3 208.8Z" fill="#40896b" stroke="#40896b" stroke-width="0.6"/><path d="M406.9 203.8L404.8 205.3L408.7 211.5L411.0 210.2Z" fill="#479270" stroke="#479270" stroke-width="0.6"/><path d="M404.8 205.3L402.6 206.7L406.4 212.9L408.7 211.5Z" fill="#519c78" stroke="#519c78" stroke-width="0.6"/><path d="M402.6 206.7L400.5 208.0L404.1 214.2L406.4 212.9Z" fill="#5ba680" stroke="#5ba680" stroke-width="0.6"/><path d="M400.5 208.0L398.3 209.4L401.8 215.4L404.1 214.2Z" fill="#64af87" stroke="#64af87" stroke-width="0.6"/><path d="M398.3 209.4L396.2 210.7L399.6 216.6L401.8 215.4Z" fill="#6eb98f" stroke="#6eb98f" stroke-width="0.6"/><path d="M396.2 210.7L394.1 211.9L397.3 217.8L399.6 216.6Z" fill="#77c296" stroke="#77c296" stroke-width="0.6"/><path d="M394.1 211.9L392.1 213.1L395.1 218.9L397.3 217.8Z" fill="#82ca9e" stroke="#82ca9e" stroke-width="0.6"/><path d="M392.1 213.1L390.0 214.3L392.9 220.0L395.1 218.9Z" fill="#8ed1a8" stroke="#8ed1a8" stroke-width="0.6"/><path d="M390.0 214.3L387.8 215.5L390.5 221.1L392.9 220.0Z" fill="#9bd8b2" stroke="#9bd8b2" stroke-width="0.6"/><path d="M387.8 215.5L385.5 216.6L388.1 222.1L390.5 221.1Z" fill="#a8e0bc" stroke="#a8e0bc" stroke-width="0.6"/><path d="M385.5 216.6L383.2 217.8L385.7 223.1L388.1 222.1Z" fill="#b5e7c6" stroke="#b5e7c6" stroke-width="0.6"/><path d="M383.2 217.8L381.0 218.9L383.3 224.1L385.7 223.1Z" fill="#c2eed0" stroke="#c2eed0" stroke-width="0.6"/><path d="M381.0 218.9L378.8 219.9L381.1 225.0L383.3 224.1Z" fill="#c9f1d5" stroke="#c9f1d5" stroke-width="0.6"/><path d="M378.8 219.9L376.8 220.8L379.0 225.8L381.1 225.0Z" fill="#cef3d9" stroke="#cef3d9" stroke-width="0.6"/><path d="M376.8 220.8L375.1 221.7L377.2 226.5L379.0 225.8Z" fill="#d3f5dd" stroke="#d3f5dd" stroke-width="0.6"/><path d="M375.1 221.7L373.6 222.4L375.6 227.1L377.2 226.5Z" fill="#d7f6e0" stroke="#d7f6e0" stroke-width="0.6"/><path d="M373.6 222.4L372.4 223.0L374.4 227.6L375.6 227.1Z" fill="#dbf7e3" stroke="#dbf7e3" stroke-width="0.6"/></g>
<line x1="308.3" y1="226.6" x2="294.7" y2="220.4" stroke="#5caa4e" stroke-width="2.8"/>
<path d="M286.1 216.5L296.4 216.9L293.1 224.0Z" fill="#5caa4e"/>
<line x1="308.3" y1="226.6" x2="331.6" y2="221.7" stroke="#d2335c" stroke-width="2.8"/>
<path d="M341.9 219.5L332.4 225.5L330.8 217.9Z" fill="#d2335c"/>
<line x1="308.3" y1="226.6" x2="308.3" y2="199.2" stroke="#4b86b9" stroke-width="2.8"/>
<path d="M308.3 187.5L312.2 199.2L304.4 199.2Z" fill="#4b86b9"/>
<text x="303.7" y="182" font-size="25" fill="#000" text-anchor="start" font-weight="normal" font-style="italic" textLength="12.6" lengthAdjust="spacingAndGlyphs" >z</text>
<text x="344.1" y="224.7" font-size="25" fill="#000" text-anchor="start" font-weight="normal" font-style="italic" textLength="12.6" lengthAdjust="spacingAndGlyphs" >x</text>
<text x="273" y="220.1" font-size="25" fill="#000" text-anchor="start" font-weight="normal" font-style="italic" textLength="12.2" lengthAdjust="spacingAndGlyphs" >y</text>
<path d="M744.4 79.9L744.3 81.7L744.3 84.1L744.2 86.8L744.2 89.9L744.1 93.2L744.0 96.6L743.9 100.1L743.8 103.5L743.7 106.8L743.5 109.8L743.3 112.8L743.0 115.8L742.8 118.8L742.5 121.8L742.2 124.8L741.9 127.7L741.5 130.7L741.1 133.6L740.7 136.4L740.3 139.3L739.8 142.1L739.3 145.0L738.7 147.8L738.1 150.6L737.5 153.4L736.9 156.2L736.2 158.9L735.5 161.6L734.8 164.3L734.0 166.9L733.2 169.5L732.4 172.0L731.5 174.5L730.6 177.0L729.7 179.5L728.7 181.9L727.7 184.2L726.7 186.6L725.6 188.9L724.6 191.2L723.5 193.4L722.3 195.6L721.1 197.8L719.9 199.9L718.6 202.0L717.3 204.1L716.0 206.2L714.6 208.2L713.3 210.2L711.9 212.2L710.5 214.2L709.0 216.2L707.4 218.4L705.7 220.5L704.0 222.6L702.4 224.6L700.8 226.4L699.5 228.1L698.3 229.5L697.4 230.6L706.6 238.4L707.5 237.3L708.7 236.0L710.2 234.4L711.8 232.6L713.5 230.7L715.4 228.6L717.2 226.4L719.1 224.2L720.8 221.9L722.5 219.8L724.0 217.7L725.5 215.6L726.9 213.4L728.4 211.3L729.8 209.0L731.3 206.7L732.7 204.4L734.0 202.1L735.4 199.7L736.6 197.2L737.9 194.8L739.1 192.3L740.2 189.7L741.4 187.2L742.4 184.6L743.5 181.9L744.5 179.3L745.5 176.6L746.5 173.9L747.4 171.1L748.3 168.3L749.1 165.4L749.9 162.5L750.7 159.6L751.4 156.7L752.1 153.7L752.8 150.7L753.4 147.7L754.0 144.7L754.5 141.7L755.0 138.7L755.5 135.6L755.9 132.5L756.3 129.4L756.6 126.3L756.9 123.1L757.2 120.0L757.5 116.9L757.7 113.9L757.9 110.8L758.1 107.5L758.3 104.1L758.4 100.5L758.5 97.0L758.6 93.5L758.7 90.1L758.7 87.1L758.8 84.3L758.8 82.0L758.8 80.3Z" fill="#fff" stroke="#111" stroke-width="0.7" stroke-linejoin="round"/>
<path d="M751.6 80.1L751.6 81.9L751.5 84.2L751.5 86.9L751.4 90.0L751.4 93.3L751.3 96.8L751.2 100.3L751.0 103.8L750.9 107.1L750.7 110.3L750.5 113.3L750.2 116.4L750.0 119.4L749.7 122.5L749.4 125.5L749.1 128.5L748.7 131.6L748.3 134.6L747.9 137.5L747.4 140.5L746.9 143.4L746.3 146.4L745.7 149.3L745.1 152.2L744.5 155.1L743.8 157.9L743.1 160.7L742.3 163.5L741.5 166.3L740.7 169.0L739.8 171.7L739.0 174.3L738.0 176.9L737.1 179.5L736.1 182.0L735.0 184.5L734.0 187.0L732.9 189.4L731.8 191.8L730.6 194.2L729.4 196.5L728.2 198.8L726.9 201.1L725.6 203.3L724.2 205.5L722.8 207.7L721.5 209.8L720.0 211.9L718.6 214.0L717.2 216.0L715.7 218.1L714.0 220.2L712.3 222.4L710.5 224.5L708.8 226.6L707.1 228.6L705.5 230.4L704.1 232.0L702.9 233.4L702.0 234.5" fill="none" stroke="#111" stroke-width="0.7"/>
<g><path d="M719.6 81.7L720.0 83.1L732.5 79.7L732.2 78.5Z" fill="#1c0a8b" stroke="#1c0a8b" stroke-width="0.6"/><path d="M720.0 83.1L720.4 84.7L733.0 81.3L732.5 79.7Z" fill="#1f0a8c" stroke="#1f0a8c" stroke-width="0.6"/><path d="M720.4 84.7L720.9 86.7L733.5 83.2L733.0 81.3Z" fill="#230a8e" stroke="#230a8e" stroke-width="0.6"/><path d="M720.9 86.7L721.5 88.8L734.1 85.4L733.5 83.2Z" fill="#270b91" stroke="#270b91" stroke-width="0.6"/><path d="M721.5 88.8L722.2 91.1L734.7 87.8L734.1 85.4Z" fill="#2b0b93" stroke="#2b0b93" stroke-width="0.6"/><path d="M722.2 91.1L722.8 93.6L735.4 90.3L734.7 87.8Z" fill="#300b96" stroke="#300b96" stroke-width="0.6"/><path d="M722.8 93.6L723.4 96.1L736.0 92.9L735.4 90.3Z" fill="#340c99" stroke="#340c99" stroke-width="0.6"/><path d="M723.4 96.1L724.0 98.5L736.7 95.6L736.0 92.9Z" fill="#390c9c" stroke="#390c9c" stroke-width="0.6"/><path d="M724.0 98.5L724.6 100.9L737.3 98.2L736.7 95.6Z" fill="#430d9f" stroke="#430d9f" stroke-width="0.6"/><path d="M724.6 100.9L725.0 103.2L737.8 100.8L737.3 98.2Z" fill="#4d0da3" stroke="#4d0da3" stroke-width="0.6"/><path d="M725.0 103.2L725.4 105.5L738.2 103.3L737.8 100.8Z" fill="#560ea7" stroke="#560ea7" stroke-width="0.6"/><path d="M725.4 105.5L725.9 108.0L738.7 105.8L738.2 103.3Z" fill="#600eaa" stroke="#600eaa" stroke-width="0.6"/><path d="M725.9 108.0L726.3 110.5L739.1 108.4L738.7 105.8Z" fill="#6a0fae" stroke="#6a0fae" stroke-width="0.6"/><path d="M726.3 110.5L726.6 113.0L739.5 111.1L739.1 108.4Z" fill="#7410b2" stroke="#7410b2" stroke-width="0.6"/><path d="M726.6 113.0L727.0 115.5L739.9 113.8L739.5 111.1Z" fill="#7a11b4" stroke="#7a11b4" stroke-width="0.6"/><path d="M727.0 115.5L727.3 118.1L740.2 116.5L739.9 113.8Z" fill="#7a14b3" stroke="#7a14b3" stroke-width="0.6"/><path d="M727.3 118.1L727.6 120.6L740.6 119.1L740.2 116.5Z" fill="#7a17b2" stroke="#7a17b2" stroke-width="0.6"/><path d="M727.6 120.6L727.9 123.0L740.8 121.7L740.6 119.1Z" fill="#7a1ab2" stroke="#7a1ab2" stroke-width="0.6"/><path d="M727.9 123.0L728.1 125.4L741.1 124.2L740.8 121.7Z" fill="#7a1cb1" stroke="#7a1cb1" stroke-width="0.6"/><path d="M728.1 125.4L728.3 127.6L741.3 126.6L741.1 124.2Z" fill="#7a1fb1" stroke="#7a1fb1" stroke-width="0.6"/><path d="M728.3 127.6L728.5 129.7L741.4 128.9L741.3 126.6Z" fill="#7a21b0" stroke="#7a21b0" stroke-width="0.6"/><path d="M728.5 129.7L728.6 131.7L741.6 131.1L741.4 128.9Z" fill="#7a28ae" stroke="#7a28ae" stroke-width="0.6"/><path d="M728.6 131.7L728.6 133.6L741.6 133.3L741.6 131.1Z" fill="#7a31ac" stroke="#7a31ac" stroke-width="0.6"/><path d="M728.6 133.6L728.7 135.5L741.7 135.4L741.6 133.3Z" fill="#7a3aa9" stroke="#7a3aa9" stroke-width="0.6"/><path d="M728.7 135.5L728.7 137.3L741.7 137.4L741.7 135.4Z" fill="#7a42a7" stroke="#7a42a7" stroke-width="0.6"/><path d="M728.7 137.3L728.6 139.1L741.6 139.4L741.7 137.4Z" fill="#7a4aa5" stroke="#7a4aa5" stroke-width="0.6"/><path d="M728.6 139.1L728.6 141.0L741.6 141.4L741.6 139.4Z" fill="#7a52a2" stroke="#7a52a2" stroke-width="0.6"/><path d="M728.6 141.0L728.5 142.9L741.5 143.4L741.6 141.4Z" fill="#7a5aa0" stroke="#7a5aa0" stroke-width="0.6"/><path d="M728.5 142.9L728.4 144.8L741.4 145.5L741.5 143.4Z" fill="#77609c" stroke="#77609c" stroke-width="0.6"/><path d="M728.4 144.8L728.3 146.8L741.3 147.6L741.4 145.5Z" fill="#746598" stroke="#746598" stroke-width="0.6"/><path d="M728.3 146.8L728.2 148.9L741.2 149.7L741.3 147.6Z" fill="#716b94" stroke="#716b94" stroke-width="0.6"/><path d="M728.2 148.9L728.0 151.0L741.0 151.9L741.2 149.7Z" fill="#6f7190" stroke="#6f7190" stroke-width="0.6"/><path d="M728.0 151.0L727.9 153.1L740.8 154.1L741.0 151.9Z" fill="#6c778c" stroke="#6c778c" stroke-width="0.6"/><path d="M727.9 153.1L727.7 155.2L740.7 156.4L740.8 154.1Z" fill="#657c86" stroke="#657c86" stroke-width="0.6"/><path d="M727.7 155.2L727.5 157.3L740.4 158.7L740.7 156.4Z" fill="#59807d" stroke="#59807d" stroke-width="0.6"/><path d="M727.5 157.3L727.3 159.4L740.2 161.0L740.4 158.7Z" fill="#4e8575" stroke="#4e8575" stroke-width="0.6"/><path d="M727.3 159.4L727.0 161.5L739.9 163.3L740.2 161.0Z" fill="#42896c" stroke="#42896c" stroke-width="0.6"/><path d="M727.0 161.5L726.7 163.6L739.5 165.6L739.9 163.3Z" fill="#448f6e" stroke="#448f6e" stroke-width="0.6"/><path d="M726.7 163.6L726.3 165.6L739.1 168.0L739.5 165.6Z" fill="#4a9774" stroke="#4a9774" stroke-width="0.6"/><path d="M726.3 165.6L725.9 167.7L738.7 170.3L739.1 168.0Z" fill="#519e7a" stroke="#519e7a" stroke-width="0.6"/><path d="M725.9 167.7L725.5 169.7L738.2 172.7L738.7 170.3Z" fill="#57a580" stroke="#57a580" stroke-width="0.6"/><path d="M725.5 169.7L725.0 171.9L737.6 175.0L738.2 172.7Z" fill="#5ead86" stroke="#5ead86" stroke-width="0.6"/><path d="M725.0 171.9L724.4 174.0L737.0 177.3L737.6 175.0Z" fill="#64b48c" stroke="#64b48c" stroke-width="0.6"/><path d="M724.4 174.0L723.8 176.1L736.3 179.7L737.0 177.3Z" fill="#6bbc92" stroke="#6bbc92" stroke-width="0.6"/><path d="M723.8 176.1L723.2 178.3L735.6 182.1L736.3 179.7Z" fill="#73c298" stroke="#73c298" stroke-width="0.6"/><path d="M723.2 178.3L722.5 180.4L734.9 184.4L735.6 182.1Z" fill="#7bc79e" stroke="#7bc79e" stroke-width="0.6"/><path d="M722.5 180.4L721.8 182.5L734.1 186.7L734.9 184.4Z" fill="#84cda4" stroke="#84cda4" stroke-width="0.6"/><path d="M721.8 182.5L721.1 184.5L733.3 189.0L734.1 186.7Z" fill="#8cd2a9" stroke="#8cd2a9" stroke-width="0.6"/><path d="M721.1 184.5L720.4 186.5L732.5 191.2L733.3 189.0Z" fill="#95d7af" stroke="#95d7af" stroke-width="0.6"/><path d="M720.4 186.5L719.6 188.4L731.6 193.4L732.5 191.2Z" fill="#9ddcb5" stroke="#9ddcb5" stroke-width="0.6"/><path d="M719.6 188.4L718.8 190.2L730.7 195.6L731.6 193.4Z" fill="#a5e0bb" stroke="#a5e0bb" stroke-width="0.6"/><path d="M718.8 190.2L718.0 192.0L729.7 197.7L730.7 195.6Z" fill="#ade5c0" stroke="#ade5c0" stroke-width="0.6"/><path d="M718.0 192.0L717.1 193.8L728.7 199.7L729.7 197.7Z" fill="#b5eac6" stroke="#b5eac6" stroke-width="0.6"/><path d="M717.1 193.8L716.2 195.6L727.6 201.7L728.7 199.7Z" fill="#b9ecc9" stroke="#b9ecc9" stroke-width="0.6"/><path d="M716.2 195.6L715.2 197.3L726.5 203.7L727.6 201.7Z" fill="#bbedca" stroke="#bbedca" stroke-width="0.6"/><path d="M715.2 197.3L714.2 199.1L725.4 205.6L726.5 203.7Z" fill="#bdedcc" stroke="#bdedcc" stroke-width="0.6"/><path d="M714.2 199.1L713.2 200.8L724.3 207.5L725.4 205.6Z" fill="#bfeecd" stroke="#bfeecd" stroke-width="0.6"/><path d="M713.2 200.8L712.2 202.5L723.2 209.3L724.3 207.5Z" fill="#c0eecf" stroke="#c0eecf" stroke-width="0.6"/><path d="M712.2 202.5L711.1 204.1L722.1 211.1L723.2 209.3Z" fill="#c2efd0" stroke="#c2efd0" stroke-width="0.6"/><path d="M711.1 204.1L710.1 205.7L720.9 212.9L722.1 211.1Z" fill="#c4f0d1" stroke="#c4f0d1" stroke-width="0.6"/><path d="M710.1 205.7L709.0 207.3L719.7 214.7L720.9 212.9Z" fill="#c6f0d3" stroke="#c6f0d3" stroke-width="0.6"/><path d="M709.0 207.3L707.9 208.8L718.5 216.4L719.7 214.7Z" fill="#c7f1d4" stroke="#c7f1d4" stroke-width="0.6"/><path d="M707.9 208.8L706.8 210.3L717.2 218.2L718.5 216.4Z" fill="#c9f1d6" stroke="#c9f1d6" stroke-width="0.6"/><path d="M706.8 210.3L705.6 211.9L715.9 219.8L717.2 218.2Z" fill="#cbf2d7" stroke="#cbf2d7" stroke-width="0.6"/><path d="M705.6 211.9L704.5 213.4L714.6 221.5L715.9 219.8Z" fill="#cdf2d8" stroke="#cdf2d8" stroke-width="0.6"/><path d="M704.5 213.4L703.3 214.8L713.4 223.0L714.6 221.5Z" fill="#cef3da" stroke="#cef3da" stroke-width="0.6"/><path d="M703.3 214.8L702.1 216.3L712.1 224.5L713.4 223.0Z" fill="#d0f3db" stroke="#d0f3db" stroke-width="0.6"/><path d="M702.1 216.3L701.0 217.7L711.0 226.0L712.1 224.5Z" fill="#d1f4dc" stroke="#d1f4dc" stroke-width="0.6"/><path d="M701.0 217.7L699.8 219.0L709.8 227.3L711.0 226.0Z" fill="#d3f4de" stroke="#d3f4de" stroke-width="0.6"/><path d="M699.8 219.0L698.8 220.2L708.8 228.6L709.8 227.3Z" fill="#d4f5df" stroke="#d4f5df" stroke-width="0.6"/><path d="M698.8 220.2L697.9 221.4L707.7 229.8L708.8 228.6Z" fill="#d6f5e0" stroke="#d6f5e0" stroke-width="0.6"/><path d="M697.9 221.4L697.0 222.6L706.6 231.0L707.7 229.8Z" fill="#d7f5e1" stroke="#d7f5e1" stroke-width="0.6"/><path d="M697.0 222.6L696.0 223.7L705.5 232.1L706.6 231.0Z" fill="#d9f6e2" stroke="#d9f6e2" stroke-width="0.6"/><path d="M696.0 223.7L695.1 224.7L704.5 233.2L705.5 232.1Z" fill="#daf6e3" stroke="#daf6e3" stroke-width="0.6"/><path d="M695.1 224.7L694.3 225.7L703.5 234.2L704.5 233.2Z" fill="#dbf7e4" stroke="#dbf7e4" stroke-width="0.6"/><path d="M694.3 225.7L693.5 226.7L702.5 235.2L703.5 234.2Z" fill="#dcf7e5" stroke="#dcf7e5" stroke-width="0.6"/><path d="M693.5 226.7L692.7 227.6L701.7 236.0L702.5 235.2Z" fill="#ddf7e6" stroke="#ddf7e6" stroke-width="0.6"/><path d="M692.7 227.6L692.0 228.3L700.9 236.7L701.7 236.0Z" fill="#def7e7" stroke="#def7e7" stroke-width="0.6"/><path d="M692.0 228.3L691.5 229.1L700.3 237.3L700.9 236.7Z" fill="#dff8e7" stroke="#dff8e7" stroke-width="0.6"/><path d="M691.5 229.1L691.0 229.6L699.8 237.8L700.3 237.3Z" fill="#e0f8e8" stroke="#e0f8e8" stroke-width="0.6"/></g>
<path d="M744.4 79.9L744.3 81.7L744.3 84.1L744.2 86.8L744.2 89.9L744.1 93.2L744.0 96.6L743.9 100.1L743.8 103.5L743.7 106.8L743.5 109.8L743.3 112.8L743.0 115.8L742.8 118.8L742.5 121.8L742.2 124.8L741.9 127.7L741.5 130.7L741.1 133.6L740.7 136.4L740.3 139.3L739.8 142.1L739.3 145.0L738.7 147.8L738.1 150.6L737.5 153.4L736.9 156.2L736.2 158.9L735.5 161.6L734.8 164.3L734.0 166.9L733.2 169.5L732.4 172.0L731.5 174.5L730.6 177.0L729.7 179.5L728.7 181.9L727.7 184.2L726.7 186.6L725.6 188.9L724.6 191.2L723.5 193.4L722.3 195.6L721.1 197.8L719.9 199.9L718.6 202.0L717.3 204.1L716.0 206.2L714.6 208.2L713.3 210.2L711.9 212.2L710.5 214.2L709.0 216.2L707.4 218.4L705.7 220.5L704.0 222.6L702.4 224.6L700.8 226.4L699.5 228.1L698.3 229.5L697.4 230.6L706.6 238.4L707.5 237.3L708.7 236.0L710.2 234.4L711.8 232.6L713.5 230.7L715.4 228.6L717.2 226.4L719.1 224.2L720.8 221.9L722.5 219.8L724.0 217.7L725.5 215.6L726.9 213.4L728.4 211.3L729.8 209.0L731.3 206.7L732.7 204.4L734.0 202.1L735.4 199.7L736.6 197.2L737.9 194.8L739.1 192.3L740.2 189.7L741.4 187.2L742.4 184.6L743.5 181.9L744.5 179.3L745.5 176.6L746.5 173.9L747.4 171.1L748.3 168.3L749.1 165.4L749.9 162.5L750.7 159.6L751.4 156.7L752.1 153.7L752.8 150.7L753.4 147.7L754.0 144.7L754.5 141.7L755.0 138.7L755.5 135.6L755.9 132.5L756.3 129.4L756.6 126.3L756.9 123.1L757.2 120.0L757.5 116.9L757.7 113.9L757.9 110.8L758.1 107.5L758.3 104.1L758.4 100.5L758.5 97.0L758.6 93.5L758.7 90.1L758.7 87.1L758.8 84.3L758.8 82.0L758.8 80.3Z" fill="none" stroke="#111" stroke-width="0.6" stroke-linejoin="round"/>
<path d="M751.6 80.1L751.6 81.9L751.5 84.2L751.5 86.9L751.4 90.0L751.4 93.3L751.3 96.8L751.2 100.3L751.0 103.8L750.9 107.1L750.7 110.3L750.5 113.3L750.2 116.4L750.0 119.4L749.7 122.5L749.4 125.5L749.1 128.5L748.7 131.6L748.3 134.6L747.9 137.5L747.4 140.5L746.9 143.4L746.3 146.4L745.7 149.3L745.1 152.2L744.5 155.1L743.8 157.9L743.1 160.7L742.3 163.5L741.5 166.3L740.7 169.0L739.8 171.7L739.0 174.3L738.0 176.9L737.1 179.5L736.1 182.0L735.0 184.5L734.0 187.0L732.9 189.4L731.8 191.8L730.6 194.2L729.4 196.5L728.2 198.8L726.9 201.1L725.6 203.3L724.2 205.5L722.8 207.7L721.5 209.8L720.0 211.9L718.6 214.0L717.2 216.0L715.7 218.1L714.0 220.2L712.3 222.4L710.5 224.5L708.8 226.6L707.1 228.6L705.5 230.4L704.1 232.0L702.9 233.4L702.0 234.5" fill="none" stroke="#111" stroke-width="0.6"/>
<line x1="635.8" y1="224.4" x2="609.8" y2="222.9" stroke="#5caa4e" stroke-width="2.8"/>
<path d="M600.3 222.4L610.0 219.0L609.6 226.8Z" fill="#5caa4e"/>
<line x1="635.8" y1="224.4" x2="648" y2="220.8" stroke="#d2335c" stroke-width="2.8"/>
<circle cx="648" cy="220.8" r="3.8" fill="#d2335c"/>
<line x1="635.8" y1="224.4" x2="635.7" y2="196.9" stroke="#4b86b9" stroke-width="2.8"/>
<path d="M635.7 185.2L639.6 196.9L631.8 196.9Z" fill="#4b86b9"/>
<text x="630.7" y="181" font-size="25" fill="#000" text-anchor="start" font-weight="normal" font-style="italic" textLength="12.6" lengthAdjust="spacingAndGlyphs" >z</text>
<text x="654.8" y="225.7" font-size="25" fill="#000" text-anchor="start" font-weight="normal" font-style="italic" textLength="12.6" lengthAdjust="spacingAndGlyphs" >x</text>
<text x="589.6" y="224" font-size="25" fill="#000" text-anchor="start" font-weight="normal" font-style="italic" textLength="12.2" lengthAdjust="spacingAndGlyphs" >y</text>
<text x="832" y="102.6" font-size="24" fill="#000" text-anchor="start" font-weight="normal" font-style="normal" textLength="98.6" lengthAdjust="spacingAndGlyphs" >22.8 kHz</text>
<text x="1018" y="105.5" font-size="24" fill="#000" text-anchor="start" font-weight="normal" font-style="normal" textLength="98.5" lengthAdjust="spacingAndGlyphs" >28.2 kHz</text>
<text x="820.5" y="296" font-size="24" fill="#000" text-anchor="start" font-weight="normal" font-style="normal" textLength="110.3" lengthAdjust="spacingAndGlyphs" >118.7 kHz</text>
<text x="1037.9" y="295.5" font-size="24" fill="#000" text-anchor="start" font-weight="normal" font-style="normal" textLength="110.5" lengthAdjust="spacingAndGlyphs" >167.6 kHz</text>
<path d="M954.5 94.3L954.8 95.7L955.1 97.4L955.6 99.4L956.0 101.5L956.5 103.9L956.9 106.3L957.3 108.9L957.5 111.5L957.6 114.1L957.5 116.8L957.3 119.7L956.9 122.9L956.5 126.3L955.9 129.8L955.3 133.4L954.5 136.9L953.7 140.4L952.8 143.8L951.8 146.9L950.8 149.7L949.6 152.2L948.4 154.6L947.0 156.8L945.6 159.0L944.1 161.1L942.4 163.2L940.7 165.2L938.9 167.4L937.1 169.5L935.3 171.8L933.5 174.0L931.6 176.2L929.6 178.5L927.6 180.7L925.6 182.9L923.5 185.1L921.4 187.4L919.3 189.6L917.1 191.8L915.0 194.1L912.8 196.4L910.5 198.8L908.2 201.2L905.9 203.6L903.6 206.0L901.4 208.3L899.1 210.5L896.9 212.6L894.8 214.6L892.8 216.3L890.8 217.8L889.0 219.2L887.2 220.4L885.4 221.5L883.7 222.6L881.9 223.6L880.1 224.5L878.3 225.5L876.4 226.5L874.4 227.5L872.4 228.6L870.1 229.7L867.8 230.8L865.4 231.9L863.0 233.0L860.7 234.1L858.6 235.0L856.7 235.9L855.1 236.6L853.8 237.3L856.2 242.7L857.5 242.3L859.1 241.6L861.0 240.8L863.2 240.0L865.6 239.0L868.1 238.0L870.6 236.9L873.0 235.8L875.4 234.8L877.6 233.7L879.6 232.7L881.5 231.7L883.4 230.7L885.3 229.7L887.2 228.7L889.1 227.5L891.0 226.3L893.0 224.9L895.1 223.4L897.2 221.7L899.4 219.8L901.7 217.8L904.0 215.6L906.3 213.3L908.7 210.9L911.0 208.4L913.3 206.0L915.6 203.6L917.9 201.2L920.0 198.9L922.2 196.7L924.3 194.4L926.5 192.2L928.6 189.9L930.7 187.7L932.8 185.4L934.9 183.1L936.9 180.8L938.8 178.5L940.7 176.2L942.5 174.0L944.3 171.9L946.1 169.7L947.9 167.6L949.6 165.3L951.3 163.0L953.0 160.6L954.5 158.0L955.9 155.3L957.2 152.3L958.4 149.1L959.5 145.7L960.5 142.1L961.3 138.4L962.1 134.7L962.8 130.9L963.4 127.3L963.9 123.7L964.2 120.4L964.5 117.2L964.6 114.1L964.5 111.1L964.2 108.1L963.8 105.3L963.4 102.6L962.9 100.1L962.4 97.9L962.0 96.0L961.7 94.4L961.5 93.1Z" fill="#fff" stroke="#111" stroke-width="0.7" stroke-linejoin="round"/>
<path d="M958.0 93.7L958.2 95.0L958.6 96.7L959.0 98.6L959.5 100.8L959.9 103.2L960.4 105.8L960.7 108.5L961.0 111.3L961.1 114.1L961.0 117.0L960.7 120.0L960.4 123.3L959.9 126.8L959.4 130.4L958.7 134.0L957.9 137.7L957.1 141.3L956.1 144.7L955.1 148.0L954.0 151.0L952.8 153.7L951.4 156.3L950.0 158.7L948.5 161.0L946.8 163.2L945.2 165.4L943.4 167.5L941.6 169.6L939.8 171.8L938.0 174.0L936.1 176.3L934.2 178.5L932.2 180.8L930.2 183.0L928.2 185.3L926.1 187.5L923.9 189.8L921.8 192.0L919.7 194.3L917.5 196.5L915.3 198.8L913.1 201.2L910.8 203.6L908.5 206.0L906.2 208.4L903.8 210.8L901.6 213.1L899.3 215.2L897.1 217.2L895.0 219.0L893.0 220.6L891.0 222.1L889.1 223.4L887.2 224.5L885.4 225.6L883.6 226.6L881.7 227.6L879.9 228.6L878.0 229.6L876.0 230.6L873.9 231.7L871.6 232.8L869.2 233.9L866.7 235.0L864.3 236.0L862.0 237.0L859.8 237.9L857.9 238.8L856.3 239.5L855.0 240.0" fill="none" stroke="#111" stroke-width="0.7"/>
<g><path d="M962.6 92.3L962.2 93.4L970.5 96.8L971.0 95.7Z" fill="#1b0a8a" stroke="#1b0a8a" stroke-width="0.6"/><path d="M962.2 93.4L961.6 94.8L969.9 98.2L970.5 96.8Z" fill="#1b0a8a" stroke="#1b0a8a" stroke-width="0.6"/><path d="M961.6 94.8L960.9 96.5L969.2 99.9L969.9 98.2Z" fill="#1b0a8a" stroke="#1b0a8a" stroke-width="0.6"/><path d="M960.9 96.5L960.2 98.3L968.5 101.8L969.2 99.9Z" fill="#320c95" stroke="#320c95" stroke-width="0.6"/><path d="M960.2 98.3L959.3 100.4L967.6 103.8L968.5 101.8Z" fill="#5510a6" stroke="#5510a6" stroke-width="0.6"/><path d="M959.3 100.4L958.4 102.5L966.8 105.9L967.6 103.8Z" fill="#6a12b0" stroke="#6a12b0" stroke-width="0.6"/><path d="M958.4 102.5L957.5 104.7L965.9 108.1L966.8 105.9Z" fill="#7e48b7" stroke="#7e48b7" stroke-width="0.6"/><path d="M957.5 104.7L956.6 106.9L964.9 110.4L965.9 108.1Z" fill="#a6b6c4" stroke="#a6b6c4" stroke-width="0.6"/><path d="M956.6 106.9L955.7 109.2L964.0 112.6L964.9 110.4Z" fill="#b9eccb" stroke="#b9eccb" stroke-width="0.6"/><path d="M955.7 109.2L954.8 111.3L963.2 114.7L964.0 112.6Z" fill="#b9eccb" stroke="#b9eccb" stroke-width="0.6"/><path d="M954.8 111.3L953.9 113.4L962.3 116.9L963.2 114.7Z" fill="#b9eccb" stroke="#b9eccb" stroke-width="0.6"/><path d="M953.9 113.4L952.9 115.6L961.4 119.2L962.3 116.9Z" fill="#b9eccb" stroke="#b9eccb" stroke-width="0.6"/><path d="M952.9 115.6L951.9 117.8L960.4 121.5L961.4 119.2Z" fill="#a0d8b6" stroke="#a0d8b6" stroke-width="0.6"/><path d="M951.9 117.8L950.8 120.2L959.5 123.9L960.4 121.5Z" fill="#67ab87" stroke="#67ab87" stroke-width="0.6"/><path d="M950.8 120.2L949.8 122.5L958.5 126.3L959.5 123.9Z" fill="#557981" stroke="#557981" stroke-width="0.6"/><path d="M949.8 122.5L948.7 124.9L957.6 128.6L958.5 126.3Z" fill="#6431a2" stroke="#6431a2" stroke-width="0.6"/><path d="M948.7 124.9L947.7 127.3L956.7 130.9L957.6 128.6Z" fill="#6a12b0" stroke="#6a12b0" stroke-width="0.6"/><path d="M947.7 127.3L946.7 129.7L955.9 133.2L956.7 130.9Z" fill="#6a12b0" stroke="#6a12b0" stroke-width="0.6"/><path d="M946.7 129.7L945.8 132.0L955.1 135.3L955.9 133.2Z" fill="#6a12b0" stroke="#6a12b0" stroke-width="0.6"/><path d="M945.8 132.0L945.0 134.2L954.4 137.4L955.1 135.3Z" fill="#6a12b0" stroke="#6a12b0" stroke-width="0.6"/><path d="M945.0 134.2L944.3 136.4L953.8 139.3L954.4 137.4Z" fill="#6a12b0" stroke="#6a12b0" stroke-width="0.6"/><path d="M944.3 136.4L943.7 138.5L953.3 141.2L953.8 139.3Z" fill="#6a12b0" stroke="#6a12b0" stroke-width="0.6"/><path d="M943.7 138.5L943.1 140.6L952.8 143.0L953.3 141.2Z" fill="#6a12b0" stroke="#6a12b0" stroke-width="0.6"/><path d="M943.1 140.6L942.6 142.5L952.4 144.8L952.8 143.0Z" fill="#62399e" stroke="#62399e" stroke-width="0.6"/><path d="M942.6 142.5L942.2 144.5L952.0 146.6L952.4 144.8Z" fill="#577085" stroke="#577085" stroke-width="0.6"/><path d="M942.2 144.5L941.8 146.3L951.6 148.4L952.0 146.6Z" fill="#6fb18d" stroke="#6fb18d" stroke-width="0.6"/><path d="M941.8 146.3L941.4 148.2L951.2 150.3L951.6 148.4Z" fill="#99d3b0" stroke="#99d3b0" stroke-width="0.6"/><path d="M941.4 148.2L941.0 150.0L950.8 152.2L951.2 150.3Z" fill="#b9eccb" stroke="#b9eccb" stroke-width="0.6"/><path d="M941.0 150.0L940.6 151.8L950.3 154.1L950.8 152.2Z" fill="#b9eccb" stroke="#b9eccb" stroke-width="0.6"/><path d="M940.6 151.8L940.1 153.6L949.9 156.0L950.3 154.1Z" fill="#b9eccb" stroke="#b9eccb" stroke-width="0.6"/><path d="M940.1 153.6L939.7 155.5L949.4 157.9L949.9 156.0Z" fill="#b9eccb" stroke="#b9eccb" stroke-width="0.6"/><path d="M939.7 155.5L939.2 157.5L949.0 159.7L949.4 157.9Z" fill="#b9eccb" stroke="#b9eccb" stroke-width="0.6"/><path d="M939.2 157.5L938.8 159.4L948.5 161.6L949.0 159.7Z" fill="#b9eccb" stroke="#b9eccb" stroke-width="0.6"/><path d="M938.8 159.4L938.4 161.2L948.1 163.5L948.5 161.6Z" fill="#b9eccb" stroke="#b9eccb" stroke-width="0.6"/><path d="M938.4 161.2L937.9 163.1L947.6 165.4L948.1 163.5Z" fill="#b9eccb" stroke="#b9eccb" stroke-width="0.6"/><path d="M937.9 163.1L937.5 164.9L947.2 167.4L947.6 165.4Z" fill="#9ad3b1" stroke="#9ad3b1" stroke-width="0.6"/><path d="M937.5 164.9L937.0 166.7L946.6 169.4L947.2 167.4Z" fill="#6eb18d" stroke="#6eb18d" stroke-width="0.6"/><path d="M937.0 166.7L936.5 168.5L946.1 171.4L946.6 169.4Z" fill="#577185" stroke="#577185" stroke-width="0.6"/><path d="M936.5 168.5L935.9 170.2L945.4 173.4L946.1 171.4Z" fill="#62399e" stroke="#62399e" stroke-width="0.6"/><path d="M935.9 170.2L935.3 172.0L944.7 175.4L945.4 173.4Z" fill="#6a12b0" stroke="#6a12b0" stroke-width="0.6"/><path d="M935.3 172.0L934.6 173.9L944.0 177.3L944.7 175.4Z" fill="#6a12b0" stroke="#6a12b0" stroke-width="0.6"/><path d="M934.6 173.9L933.9 175.9L943.3 179.2L944.0 177.3Z" fill="#6a12b0" stroke="#6a12b0" stroke-width="0.6"/><path d="M933.9 175.9L933.2 177.8L942.6 181.2L943.3 179.2Z" fill="#6a12b0" stroke="#6a12b0" stroke-width="0.6"/><path d="M933.2 177.8L932.5 179.7L941.8 183.3L942.6 181.2Z" fill="#6a12b0" stroke="#6a12b0" stroke-width="0.6"/><path d="M932.5 179.7L931.8 181.5L941.0 185.4L941.8 183.3Z" fill="#6a12b0" stroke="#6a12b0" stroke-width="0.6"/><path d="M931.8 181.5L931.0 183.2L940.0 187.5L941.0 185.4Z" fill="#6a12b0" stroke="#6a12b0" stroke-width="0.6"/><path d="M931.0 183.2L930.2 184.9L938.9 189.7L940.0 187.5Z" fill="#6a12b0" stroke="#6a12b0" stroke-width="0.6"/><path d="M930.2 184.9L929.2 186.5L937.7 191.8L938.9 189.7Z" fill="#6a12b0" stroke="#6a12b0" stroke-width="0.6"/><path d="M929.2 186.5L928.2 188.0L936.2 193.9L937.7 191.8Z" fill="#6a12b0" stroke="#6a12b0" stroke-width="0.6"/><path d="M928.2 188.0L927.0 189.4L934.6 196.0L936.2 193.9Z" fill="#6a12b0" stroke="#6a12b0" stroke-width="0.6"/><path d="M927.0 189.4L925.7 190.8L932.7 197.9L934.6 196.0Z" fill="#6a12b0" stroke="#6a12b0" stroke-width="0.6"/><path d="M925.7 190.8L924.1 192.3L930.8 199.8L932.7 197.9Z" fill="#6a12b0" stroke="#6a12b0" stroke-width="0.6"/><path d="M924.1 192.3L922.4 193.7L928.7 201.5L930.8 199.8Z" fill="#6a12b0" stroke="#6a12b0" stroke-width="0.6"/><path d="M922.4 193.7L920.5 195.2L926.5 203.2L928.7 201.5Z" fill="#6a12b0" stroke="#6a12b0" stroke-width="0.6"/><path d="M920.5 195.2L918.5 196.6L924.2 204.8L926.5 203.2Z" fill="#6430a2" stroke="#6430a2" stroke-width="0.6"/><path d="M918.5 196.6L916.4 198.1L921.9 206.4L924.2 204.8Z" fill="#557b80" stroke="#557b80" stroke-width="0.6"/><path d="M916.4 198.1L914.3 199.4L919.6 207.9L921.9 206.4Z" fill="#a2dab8" stroke="#a2dab8" stroke-width="0.6"/><path d="M914.3 199.4L912.0 200.8L917.2 209.4L919.6 207.9Z" fill="#b9eccb" stroke="#b9eccb" stroke-width="0.6"/><path d="M912.0 200.8L909.8 202.2L914.8 210.8L917.2 209.4Z" fill="#b9eccb" stroke="#b9eccb" stroke-width="0.6"/><path d="M909.8 202.2L907.6 203.4L912.4 212.2L914.8 210.8Z" fill="#b9eccb" stroke="#b9eccb" stroke-width="0.6"/><path d="M907.6 203.4L905.4 204.7L909.9 213.5L912.4 212.2Z" fill="#b9eccb" stroke="#b9eccb" stroke-width="0.6"/><path d="M905.4 204.7L903.1 205.9L907.3 214.7L909.9 213.5Z" fill="#a3dab8" stroke="#a3dab8" stroke-width="0.6"/><path d="M903.1 205.9L900.7 207.0L904.6 215.9L907.3 214.7Z" fill="#65a985" stroke="#65a985" stroke-width="0.6"/><path d="M900.7 207.0L898.2 208.1L902.0 217.0L904.6 215.9Z" fill="#557d7f" stroke="#557d7f" stroke-width="0.6"/><path d="M898.2 208.1L895.7 209.2L899.3 218.0L902.0 217.0Z" fill="#652da4" stroke="#652da4" stroke-width="0.6"/><path d="M895.7 209.2L893.1 210.3L896.7 219.0L899.3 218.0Z" fill="#6a12b0" stroke="#6a12b0" stroke-width="0.6"/><path d="M893.1 210.3L890.5 211.4L894.1 220.0L896.7 219.0Z" fill="#6a12b0" stroke="#6a12b0" stroke-width="0.6"/><path d="M890.5 211.4L888.0 212.6L891.6 221.0L894.1 220.0Z" fill="#6a12b0" stroke="#6a12b0" stroke-width="0.6"/><path d="M888.0 212.6L885.4 213.7L889.2 222.0L891.6 221.0Z" fill="#6a12b0" stroke="#6a12b0" stroke-width="0.6"/><path d="M885.4 213.7L883.0 215.0L887.0 223.0L889.2 222.0Z" fill="#6a12b0" stroke="#6a12b0" stroke-width="0.6"/><path d="M883.0 215.0L880.7 216.2L884.8 224.1L887.0 223.0Z" fill="#6a12b0" stroke="#6a12b0" stroke-width="0.6"/><path d="M880.7 216.2L878.4 217.5L882.6 225.2L884.8 224.1Z" fill="#6a12b0" stroke="#6a12b0" stroke-width="0.6"/><path d="M878.4 217.5L876.1 218.8L880.4 226.4L882.6 225.2Z" fill="#6a12b0" stroke="#6a12b0" stroke-width="0.6"/><path d="M876.1 218.8L874.0 220.1L878.2 227.5L880.4 226.4Z" fill="#6a12b0" stroke="#6a12b0" stroke-width="0.6"/><path d="M874.0 220.1L871.8 221.4L876.1 228.7L878.2 227.5Z" fill="#6a12b0" stroke="#6a12b0" stroke-width="0.6"/><path d="M871.8 221.4L869.8 222.6L874.0 229.9L876.1 228.7Z" fill="#6333a1" stroke="#6333a1" stroke-width="0.6"/><path d="M869.8 222.6L867.8 223.8L872.0 231.0L874.0 229.9Z" fill="#567683" stroke="#567683" stroke-width="0.6"/><path d="M867.8 223.8L865.9 225.0L870.1 232.1L872.0 231.0Z" fill="#9dd6b4" stroke="#9dd6b4" stroke-width="0.6"/><path d="M865.9 225.0L864.1 226.1L868.2 233.1L870.1 232.1Z" fill="#b9eccb" stroke="#b9eccb" stroke-width="0.6"/><path d="M864.1 226.1L862.4 227.1L866.4 234.1L868.2 233.1Z" fill="#b9eccb" stroke="#b9eccb" stroke-width="0.6"/><path d="M862.4 227.1L860.8 228.1L864.6 235.0L866.4 234.1Z" fill="#b9eccb" stroke="#b9eccb" stroke-width="0.6"/><path d="M860.8 228.1L859.2 229.1L862.9 235.9L864.6 235.0Z" fill="#b9eccb" stroke="#b9eccb" stroke-width="0.6"/><path d="M859.2 229.1L857.6 230.0L861.3 236.7L862.9 235.9Z" fill="#b9eccb" stroke="#b9eccb" stroke-width="0.6"/><path d="M857.6 230.0L856.0 230.9L859.7 237.5L861.3 236.7Z" fill="#b9eccb" stroke="#b9eccb" stroke-width="0.6"/><path d="M856.0 230.9L854.6 231.7L858.2 238.3L859.7 237.5Z" fill="#b9eccb" stroke="#b9eccb" stroke-width="0.6"/><path d="M854.6 231.7L853.3 232.5L856.8 239.0L858.2 238.3Z" fill="#b9eccb" stroke="#b9eccb" stroke-width="0.6"/><path d="M853.3 232.5L852.1 233.3L855.6 239.7L856.8 239.0Z" fill="#b9eccb" stroke="#b9eccb" stroke-width="0.6"/><path d="M852.1 233.3L851.0 233.9L854.4 240.2L855.6 239.7Z" fill="#b9eccb" stroke="#b9eccb" stroke-width="0.6"/><path d="M851.0 233.9L850.1 234.5L853.5 240.7L854.4 240.2Z" fill="#b9eccb" stroke="#b9eccb" stroke-width="0.6"/><path d="M850.1 234.5L849.3 234.9L852.7 241.1L853.5 240.7Z" fill="#b9eccb" stroke="#b9eccb" stroke-width="0.6"/></g>
<line x1="843.4" y1="201.2" x2="829.2" y2="194.9" stroke="#5caa4e" stroke-width="2.8"/>
<path d="M820.5 191.1L830.8 191.4L827.6 198.5Z" fill="#5caa4e"/>
<line x1="843.4" y1="201.2" x2="869.0" y2="196.4" stroke="#d2335c" stroke-width="2.8"/>
<path d="M879.3 194.4L869.7 200.2L868.3 192.5Z" fill="#d2335c"/>
<line x1="843.4" y1="201.2" x2="843.4" y2="171.8" stroke="#4b86b9" stroke-width="2.8"/>
<path d="M843.4 160.1L847.3 171.8L839.5 171.8Z" fill="#4b86b9"/>
<text x="840.8" y="156.9" font-size="25" fill="#000" text-anchor="start" font-weight="normal" font-style="italic" textLength="12.6" lengthAdjust="spacingAndGlyphs" >z</text>
<text x="882.8" y="196.6" font-size="25" fill="#000" text-anchor="start" font-weight="normal" font-style="italic" textLength="12.6" lengthAdjust="spacingAndGlyphs" >x</text>
<text x="808.2" y="189.1" font-size="25" fill="#000" text-anchor="start" font-weight="normal" font-style="italic" textLength="12.2" lengthAdjust="spacingAndGlyphs" >y</text>
<path d="M1189.0 91.0L1189.0 92.7L1189.0 95.0L1189.1 97.6L1189.1 100.5L1189.2 103.6L1189.2 106.9L1189.1 110.2L1189.0 113.5L1188.8 116.6L1188.5 119.5L1188.1 122.4L1187.6 125.2L1187.0 128.1L1186.3 131.0L1185.6 134.0L1184.8 136.9L1184.0 139.9L1183.2 142.9L1182.4 145.9L1181.6 148.9L1180.9 151.9L1180.1 154.9L1179.3 157.9L1178.5 160.9L1177.7 163.8L1176.9 166.8L1176.1 169.7L1175.2 172.6L1174.2 175.5L1173.3 178.4L1172.2 181.4L1171.1 184.4L1169.9 187.5L1168.7 190.5L1167.5 193.6L1166.2 196.6L1165.0 199.5L1163.7 202.3L1162.4 205.0L1161.1 207.5L1159.8 209.9L1158.4 212.2L1157.1 214.4L1155.6 216.5L1154.2 218.6L1152.7 220.7L1151.2 222.7L1149.8 224.7L1148.3 226.7L1147.0 228.7L1145.7 230.7L1144.4 232.7L1143.1 234.7L1141.8 236.7L1140.6 238.6L1139.4 240.4L1138.4 242.0L1137.4 243.5L1136.6 244.7L1136.0 245.7L1146.0 252.3L1146.7 251.3L1147.5 250.0L1148.4 248.6L1149.5 246.9L1150.7 245.1L1151.9 243.2L1153.2 241.3L1154.5 239.2L1155.8 237.2L1157.0 235.3L1158.2 233.3L1159.5 231.4L1160.9 229.3L1162.3 227.2L1163.7 225.0L1165.2 222.7L1166.6 220.3L1168.1 217.8L1169.5 215.2L1170.9 212.5L1172.2 209.7L1173.5 206.7L1174.8 203.7L1176.0 200.6L1177.3 197.4L1178.4 194.2L1179.6 191.0L1180.7 187.8L1181.7 184.7L1182.7 181.6L1183.7 178.5L1184.6 175.4L1185.4 172.3L1186.2 169.2L1186.9 166.2L1187.7 163.1L1188.4 160.1L1189.0 157.1L1189.7 154.1L1190.4 151.1L1191.1 148.1L1191.8 145.1L1192.5 142.0L1193.2 139.0L1193.9 135.9L1194.5 132.8L1195.1 129.7L1195.6 126.7L1196.1 123.6L1196.5 120.5L1196.8 117.2L1197.0 113.9L1197.1 110.4L1197.2 107.0L1197.2 103.6L1197.1 100.4L1197.1 97.5L1197.0 94.9L1197.0 92.7L1197.0 91.0Z" fill="#fff" stroke="#111" stroke-width="0.7" stroke-linejoin="round"/>
<path d="M1193.0 91.0L1193.0 92.7L1193.0 94.9L1193.1 97.5L1193.1 100.5L1193.2 103.6L1193.2 106.9L1193.1 110.3L1193.0 113.7L1192.8 116.9L1192.5 120.0L1192.1 123.0L1191.6 125.9L1191.0 128.9L1190.4 131.9L1189.7 134.9L1189.0 138.0L1188.2 141.0L1187.5 144.0L1186.7 147.0L1186.0 150.0L1185.3 153.0L1184.6 156.0L1183.8 159.0L1183.1 162.0L1182.3 165.0L1181.6 168.0L1180.7 171.0L1179.9 174.0L1179.0 177.0L1178.0 180.0L1177.0 183.0L1175.9 186.1L1174.8 189.3L1173.6 192.4L1172.4 195.5L1171.1 198.6L1169.9 201.6L1168.6 204.5L1167.3 207.3L1166.0 210.0L1164.7 212.5L1163.3 215.0L1161.9 217.3L1160.4 219.6L1158.9 221.8L1157.5 223.9L1156.0 226.0L1154.6 228.0L1153.3 230.0L1152.0 232.0L1150.7 234.0L1149.4 236.0L1148.1 238.0L1146.9 240.0L1145.6 241.9L1144.5 243.7L1143.4 245.3L1142.4 246.8L1141.6 248.0L1141.0 249.0" fill="none" stroke="#111" stroke-width="0.7"/>
<g><path d="M1172.5 92.5L1173.0 93.5L1181.9 89.0L1181.5 88.1Z" fill="#6a12b0" stroke="#6a12b0" stroke-width="0.6"/><path d="M1173.0 93.5L1173.7 94.8L1182.5 90.1L1181.9 89.0Z" fill="#6a12b0" stroke="#6a12b0" stroke-width="0.6"/><path d="M1173.7 94.8L1174.4 96.1L1183.2 91.5L1182.5 90.1Z" fill="#6a12b0" stroke="#6a12b0" stroke-width="0.6"/><path d="M1174.4 96.1L1175.2 97.7L1184.1 93.1L1183.2 91.5Z" fill="#6a12b0" stroke="#6a12b0" stroke-width="0.6"/><path d="M1175.2 97.7L1176.0 99.3L1185.0 94.8L1184.1 93.1Z" fill="#6a12b0" stroke="#6a12b0" stroke-width="0.6"/><path d="M1176.0 99.3L1176.9 101.1L1185.9 96.8L1185.0 94.8Z" fill="#6a12b0" stroke="#6a12b0" stroke-width="0.6"/><path d="M1176.9 101.1L1177.7 102.9L1186.9 98.9L1185.9 96.8Z" fill="#6a12b0" stroke="#6a12b0" stroke-width="0.6"/><path d="M1177.7 102.9L1178.6 104.9L1187.8 101.1L1186.9 98.9Z" fill="#6a12b0" stroke="#6a12b0" stroke-width="0.6"/><path d="M1178.6 104.9L1179.3 106.9L1188.7 103.4L1187.8 101.1Z" fill="#6624a8" stroke="#6624a8" stroke-width="0.6"/><path d="M1179.3 106.9L1180.0 109.0L1189.6 105.8L1188.7 103.4Z" fill="#5d5194" stroke="#5d5194" stroke-width="0.6"/><path d="M1180.0 109.0L1180.8 111.3L1190.3 108.3L1189.6 105.8Z" fill="#547e7f" stroke="#547e7f" stroke-width="0.6"/><path d="M1180.8 111.3L1181.5 113.8L1191.1 110.9L1190.3 108.3Z" fill="#61a682" stroke="#61a682" stroke-width="0.6"/><path d="M1181.5 113.8L1182.3 116.5L1191.9 113.7L1191.1 110.9Z" fill="#8ac7a4" stroke="#8ac7a4" stroke-width="0.6"/><path d="M1182.3 116.5L1183.1 119.3L1192.8 116.6L1191.9 113.7Z" fill="#b5e9c8" stroke="#b5e9c8" stroke-width="0.6"/><path d="M1183.1 119.3L1183.9 122.1L1193.6 119.7L1192.8 116.6Z" fill="#b9eccb" stroke="#b9eccb" stroke-width="0.6"/><path d="M1183.9 122.1L1184.6 125.0L1194.3 122.8L1193.6 119.7Z" fill="#b9eccb" stroke="#b9eccb" stroke-width="0.6"/><path d="M1184.6 125.0L1185.2 127.9L1195.0 125.9L1194.3 122.8Z" fill="#b9eccb" stroke="#b9eccb" stroke-width="0.6"/><path d="M1185.2 127.9L1185.7 130.8L1195.6 129.1L1195.0 125.9Z" fill="#b9eccb" stroke="#b9eccb" stroke-width="0.6"/><path d="M1185.7 130.8L1186.1 133.5L1196.0 132.3L1195.6 129.1Z" fill="#aee3c2" stroke="#aee3c2" stroke-width="0.6"/><path d="M1186.1 133.5L1186.4 136.2L1196.4 135.4L1196.0 132.3Z" fill="#82c19e" stroke="#82c19e" stroke-width="0.6"/><path d="M1186.4 136.2L1186.6 138.9L1196.6 138.4L1196.4 135.4Z" fill="#589f7a" stroke="#589f7a" stroke-width="0.6"/><path d="M1186.6 138.9L1186.7 141.5L1196.7 141.4L1196.6 138.4Z" fill="#4f9873" stroke="#4f9873" stroke-width="0.6"/><path d="M1186.7 141.5L1186.7 144.2L1196.7 144.4L1196.7 141.4Z" fill="#557c80" stroke="#557c80" stroke-width="0.6"/><path d="M1186.7 144.2L1186.6 146.9L1196.6 147.4L1196.7 144.4Z" fill="#5f4698" stroke="#5f4698" stroke-width="0.6"/><path d="M1186.6 146.9L1186.4 149.6L1196.4 150.4L1196.6 147.4Z" fill="#6a12b0" stroke="#6a12b0" stroke-width="0.6"/><path d="M1186.4 149.6L1186.2 152.3L1196.1 153.3L1196.4 150.4Z" fill="#6a12b0" stroke="#6a12b0" stroke-width="0.6"/><path d="M1186.2 152.3L1185.9 155.1L1195.8 156.3L1196.1 153.3Z" fill="#6a12b0" stroke="#6a12b0" stroke-width="0.6"/><path d="M1185.9 155.1L1185.5 157.8L1195.4 159.2L1195.8 156.3Z" fill="#6a12b0" stroke="#6a12b0" stroke-width="0.6"/><path d="M1185.5 157.8L1185.1 160.5L1194.9 162.2L1195.4 159.2Z" fill="#6a12b0" stroke="#6a12b0" stroke-width="0.6"/><path d="M1185.1 160.5L1184.6 163.3L1194.4 165.1L1194.9 162.2Z" fill="#6a12b0" stroke="#6a12b0" stroke-width="0.6"/><path d="M1184.6 163.3L1184.0 166.1L1193.9 168.1L1194.4 165.1Z" fill="#6a12b0" stroke="#6a12b0" stroke-width="0.6"/><path d="M1184.0 166.1L1183.4 168.9L1193.3 171.1L1193.9 168.1Z" fill="#6a12b0" stroke="#6a12b0" stroke-width="0.6"/><path d="M1183.4 168.9L1182.6 171.7L1192.6 174.1L1193.3 171.1Z" fill="#6a12b0" stroke="#6a12b0" stroke-width="0.6"/><path d="M1182.6 171.7L1181.9 174.5L1191.9 177.2L1192.6 174.1Z" fill="#6a12b0" stroke="#6a12b0" stroke-width="0.6"/><path d="M1181.9 174.5L1181.0 177.3L1191.1 180.3L1191.9 177.2Z" fill="#6a12b0" stroke="#6a12b0" stroke-width="0.6"/><path d="M1181.0 177.3L1180.1 180.1L1190.3 183.3L1191.1 180.3Z" fill="#6a12b0" stroke="#6a12b0" stroke-width="0.6"/><path d="M1180.1 180.1L1179.2 182.8L1189.3 186.3L1190.3 183.3Z" fill="#6a12b0" stroke="#6a12b0" stroke-width="0.6"/><path d="M1179.2 182.8L1178.2 185.4L1188.3 189.3L1189.3 186.3Z" fill="#6a12b0" stroke="#6a12b0" stroke-width="0.6"/><path d="M1178.2 185.4L1177.1 188.0L1187.2 192.2L1188.3 189.3Z" fill="#6a12b0" stroke="#6a12b0" stroke-width="0.6"/><path d="M1177.1 188.0L1176.0 190.4L1186.0 195.0L1187.2 192.2Z" fill="#6a12b0" stroke="#6a12b0" stroke-width="0.6"/><path d="M1176.0 190.4L1174.8 192.6L1184.7 197.8L1186.0 195.0Z" fill="#681cab" stroke="#681cab" stroke-width="0.6"/><path d="M1174.8 192.6L1173.5 194.8L1183.4 200.5L1184.7 197.8Z" fill="#5d5193" stroke="#5d5193" stroke-width="0.6"/><path d="M1173.5 194.8L1172.1 197.0L1181.9 203.1L1183.4 200.5Z" fill="#53857c" stroke="#53857c" stroke-width="0.6"/><path d="M1172.1 197.0L1170.6 199.1L1180.4 205.6L1181.9 203.1Z" fill="#4f9873" stroke="#4f9873" stroke-width="0.6"/><path d="M1170.6 199.1L1169.0 201.2L1178.8 208.1L1180.4 205.6Z" fill="#4f9873" stroke="#4f9873" stroke-width="0.6"/><path d="M1169.0 201.2L1167.4 203.3L1177.3 210.5L1178.8 208.1Z" fill="#4f9873" stroke="#4f9873" stroke-width="0.6"/><path d="M1167.4 203.3L1165.8 205.3L1175.7 212.8L1177.3 210.5Z" fill="#4f9873" stroke="#4f9873" stroke-width="0.6"/><path d="M1165.8 205.3L1164.1 207.3L1174.1 215.0L1175.7 212.8Z" fill="#4f9873" stroke="#4f9873" stroke-width="0.6"/><path d="M1164.1 207.3L1162.4 209.4L1172.5 217.2L1174.1 215.0Z" fill="#5fa580" stroke="#5fa580" stroke-width="0.6"/><path d="M1162.4 209.4L1160.7 211.4L1170.9 219.4L1172.5 217.2Z" fill="#87c4a1" stroke="#87c4a1" stroke-width="0.6"/><path d="M1160.7 211.4L1159.1 213.3L1169.2 221.6L1170.9 219.4Z" fill="#aee3c2" stroke="#aee3c2" stroke-width="0.6"/><path d="M1159.1 213.3L1157.4 215.2L1167.5 223.8L1169.2 221.6Z" fill="#b9eccb" stroke="#b9eccb" stroke-width="0.6"/><path d="M1157.4 215.2L1155.7 217.1L1165.7 225.9L1167.5 223.8Z" fill="#b9eccb" stroke="#b9eccb" stroke-width="0.6"/><path d="M1155.7 217.1L1154.0 219.0L1163.9 228.0L1165.7 225.9Z" fill="#b9eccb" stroke="#b9eccb" stroke-width="0.6"/><path d="M1154.0 219.0L1152.2 220.8L1162.1 230.0L1163.9 228.0Z" fill="#b9eccb" stroke="#b9eccb" stroke-width="0.6"/><path d="M1152.2 220.8L1150.4 222.7L1160.3 232.0L1162.1 230.0Z" fill="#b9eccb" stroke="#b9eccb" stroke-width="0.6"/><path d="M1150.4 222.7L1148.6 224.5L1158.6 233.9L1160.3 232.0Z" fill="#b9eccb" stroke="#b9eccb" stroke-width="0.6"/><path d="M1148.6 224.5L1146.9 226.2L1156.9 235.7L1158.6 233.9Z" fill="#b9eccb" stroke="#b9eccb" stroke-width="0.6"/><path d="M1146.9 226.2L1145.2 228.0L1155.3 237.5L1156.9 235.7Z" fill="#b9eccb" stroke="#b9eccb" stroke-width="0.6"/><path d="M1145.2 228.0L1143.5 229.7L1153.9 239.1L1155.3 237.5Z" fill="#b9eccb" stroke="#b9eccb" stroke-width="0.6"/><path d="M1143.5 229.7L1142.0 231.4L1152.3 240.8L1153.9 239.1Z" fill="#b9eccb" stroke="#b9eccb" stroke-width="0.6"/><path d="M1142.0 231.4L1140.5 233.1L1150.7 242.5L1152.3 240.8Z" fill="#b9eccb" stroke="#b9eccb" stroke-width="0.6"/><path d="M1140.5 233.1L1139.0 234.8L1149.1 244.1L1150.7 242.5Z" fill="#b9eccb" stroke="#b9eccb" stroke-width="0.6"/><path d="M1139.0 234.8L1137.5 236.5L1147.5 245.7L1149.1 244.1Z" fill="#b9eccb" stroke="#b9eccb" stroke-width="0.6"/><path d="M1137.5 236.5L1136.1 238.1L1146.0 247.3L1147.5 245.7Z" fill="#b9eccb" stroke="#b9eccb" stroke-width="0.6"/><path d="M1136.1 238.1L1134.8 239.6L1144.5 248.8L1146.0 247.3Z" fill="#b9eccb" stroke="#b9eccb" stroke-width="0.6"/><path d="M1134.8 239.6L1133.5 241.0L1143.2 250.1L1144.5 248.8Z" fill="#b9eccb" stroke="#b9eccb" stroke-width="0.6"/><path d="M1133.5 241.0L1132.4 242.2L1142.1 251.3L1143.2 250.1Z" fill="#b9eccb" stroke="#b9eccb" stroke-width="0.6"/><path d="M1132.4 242.2L1131.5 243.3L1141.1 252.2L1142.1 251.3Z" fill="#b9eccb" stroke="#b9eccb" stroke-width="0.6"/><path d="M1131.5 243.3L1130.7 244.2L1140.3 253.0L1141.1 252.2Z" fill="#b9eccb" stroke="#b9eccb" stroke-width="0.6"/></g>
<path d="M1185 100 C1194 130 1192 165 1182 192 C1172 215 1155 235 1140 249" fill="none" stroke="#123" stroke-width="0.6" opacity="0.8"/>
<line x1="1096.1" y1="207.5" x2="1065.4" y2="206.9" stroke="#5caa4e" stroke-width="2.8"/>
<path d="M1055.9 206.7L1065.5 203.0L1065.3 210.8Z" fill="#5caa4e"/>
<line x1="1096.1" y1="207.5" x2="1108.5" y2="206.4" stroke="#d2335c" stroke-width="2.8"/>
<circle cx="1108.5" cy="206.4" r="3.8" fill="#d2335c"/>
<line x1="1096.1" y1="207.5" x2="1096.2" y2="176.3" stroke="#4b86b9" stroke-width="2.8"/>
<path d="M1096.2 164.6L1100.1 176.3L1092.3 176.3Z" fill="#4b86b9"/>
<text x="1090.9" y="160" font-size="25" fill="#000" text-anchor="start" font-weight="normal" font-style="italic" textLength="12.6" lengthAdjust="spacingAndGlyphs" >z</text>
<text x="1115.9" y="211.6" font-size="25" fill="#000" text-anchor="start" font-weight="normal" font-style="italic" textLength="12.6" lengthAdjust="spacingAndGlyphs" >x</text>
<text x="1042.5" y="208.2" font-size="25" fill="#000" text-anchor="start" font-weight="normal" font-style="italic" textLength="12.2" lengthAdjust="spacingAndGlyphs" >y</text>
<path d="M958.1 266.4L958.0 267.7L958.0 269.3L957.9 271.1L957.8 273.1L957.7 275.3L957.5 277.7L957.3 280.1L957.1 282.5L956.9 285.0L956.5 287.4L956.2 289.9L955.8 292.6L955.4 295.4L954.9 298.2L954.4 301.1L953.8 304.0L953.3 306.9L952.6 309.8L952.0 312.5L951.3 315.2L950.6 317.7L949.8 320.2L949.0 322.7L948.2 325.1L947.3 327.5L946.4 329.9L945.5 332.3L944.5 334.6L943.5 336.9L942.4 339.3L941.3 341.6L940.1 343.9L938.9 346.1L937.7 348.4L936.5 350.6L935.2 352.8L933.9 354.9L932.5 357.1L931.0 359.2L929.5 361.3L927.9 363.4L926.2 365.5L924.5 367.6L922.7 369.7L920.8 371.8L918.9 373.9L917.0 375.9L915.0 377.8L913.0 379.8L911.0 381.6L909.0 383.5L906.9 385.2L904.7 387.0L902.5 388.7L900.2 390.4L897.9 392.1L895.6 393.8L893.3 395.4L891.1 397.0L888.9 398.5L886.7 400.0L884.6 401.5L882.6 403.0L880.5 404.4L878.5 405.7L876.5 407.1L874.5 408.3L872.5 409.6L870.5 410.8L868.4 411.9L866.2 413.0L863.8 414.2L861.3 415.3L858.7 416.4L856.2 417.5L853.7 418.5L851.4 419.5L849.4 420.3L847.6 421.0L846.3 421.6L848.5 427.2L849.9 426.7L851.6 426.1L853.7 425.3L856.0 424.5L858.6 423.6L861.2 422.6L863.9 421.5L866.6 420.4L869.2 419.3L871.6 418.1L873.9 416.9L876.1 415.7L878.2 414.4L880.4 413.1L882.5 411.8L884.6 410.4L886.7 409.0L888.8 407.6L891.0 406.2L893.1 404.7L895.4 403.2L897.7 401.6L900.0 400.0L902.4 398.4L904.8 396.7L907.1 395.0L909.5 393.2L911.9 391.4L914.2 389.5L916.4 387.6L918.5 385.6L920.6 383.6L922.7 381.5L924.7 379.4L926.7 377.2L928.7 375.0L930.6 372.8L932.4 370.6L934.2 368.3L935.9 366.1L937.6 363.8L939.1 361.5L940.6 359.2L942.0 356.9L943.4 354.6L944.7 352.2L946.0 349.9L947.2 347.5L948.4 345.1L949.6 342.7L950.8 340.3L951.9 337.9L953.0 335.4L954.0 333.0L955.0 330.5L956.0 328.0L956.9 325.4L957.8 322.8L958.7 320.1L959.5 317.4L960.3 314.7L961.0 311.7L961.7 308.8L962.4 305.8L963.0 302.8L963.6 299.8L964.1 296.8L964.6 294.0L965.0 291.2L965.5 288.6L965.8 286.0L966.1 283.4L966.3 280.8L966.5 278.3L966.6 275.8L966.8 273.6L966.9 271.5L966.9 269.7L967.0 268.2L967.1 267.0Z" fill="#fff" stroke="#111" stroke-width="0.7" stroke-linejoin="round"/>
<path d="M962.6 266.7L962.5 267.9L962.4 269.5L962.4 271.3L962.3 273.4L962.2 275.6L962.0 278.0L961.8 280.4L961.6 283.0L961.3 285.5L961.0 288.0L960.6 290.6L960.2 293.3L959.7 296.1L959.2 299.0L958.7 301.9L958.1 304.9L957.5 307.9L956.8 310.8L956.1 313.6L955.4 316.3L954.6 318.9L953.8 321.5L953.0 324.0L952.1 326.5L951.2 329.0L950.2 331.4L949.2 333.9L948.2 336.2L947.1 338.6L946.0 341.0L944.9 343.4L943.7 345.7L942.5 348.0L941.2 350.3L940.0 352.6L938.6 354.8L937.2 357.1L935.8 359.3L934.3 361.5L932.7 363.7L931.0 365.9L929.3 368.1L927.5 370.2L925.7 372.4L923.8 374.5L921.8 376.6L919.9 378.7L917.8 380.7L915.8 382.7L913.7 384.6L911.6 386.5L909.4 388.3L907.1 390.1L904.8 391.9L902.5 393.6L900.1 395.2L897.8 396.9L895.5 398.5L893.2 400.1L891.0 401.6L888.8 403.1L886.7 404.6L884.6 406.0L882.6 407.4L880.5 408.8L878.4 410.1L876.4 411.4L874.3 412.6L872.2 413.8L870.0 415.0L867.7 416.1L865.2 417.3L862.6 418.4L860.0 419.5L857.4 420.5L854.9 421.5L852.6 422.4L850.5 423.2L848.8 423.9L847.4 424.4" fill="none" stroke="#111" stroke-width="0.7"/>
<g><path d="M950.9 269.7L951.2 270.5L958.4 266.9L958.1 266.3Z" fill="#1b0a8a" stroke="#1b0a8a" stroke-width="0.6"/><path d="M951.2 270.5L951.7 271.4L958.8 267.8L958.4 266.9Z" fill="#1b0a8a" stroke="#1b0a8a" stroke-width="0.6"/><path d="M951.7 271.4L952.2 272.4L959.3 268.8L958.8 267.8Z" fill="#322c94" stroke="#322c94" stroke-width="0.6"/><path d="M952.2 272.4L952.8 273.5L959.9 269.9L959.3 268.8Z" fill="#5760a3" stroke="#5760a3" stroke-width="0.6"/><path d="M952.8 273.5L953.4 274.7L960.6 271.2L959.9 269.9Z" fill="#7f99b3" stroke="#7f99b3" stroke-width="0.6"/><path d="M953.4 274.7L954.0 276.0L961.2 272.6L960.6 271.2Z" fill="#aad7c5" stroke="#aad7c5" stroke-width="0.6"/><path d="M954.0 276.0L954.6 277.3L961.9 274.1L961.2 272.6Z" fill="#b9eccb" stroke="#b9eccb" stroke-width="0.6"/><path d="M954.6 277.3L955.2 278.7L962.6 275.7L961.9 274.1Z" fill="#b9eccb" stroke="#b9eccb" stroke-width="0.6"/><path d="M955.2 278.7L955.7 280.1L963.2 277.4L962.6 275.7Z" fill="#b9eccb" stroke="#b9eccb" stroke-width="0.6"/><path d="M955.7 280.1L956.2 281.6L963.8 279.0L963.2 277.4Z" fill="#b9eccb" stroke="#b9eccb" stroke-width="0.6"/><path d="M956.2 281.6L956.7 283.2L964.4 280.7L963.8 279.0Z" fill="#b9eccb" stroke="#b9eccb" stroke-width="0.6"/><path d="M956.7 283.2L957.2 285.0L965.0 282.4L964.4 280.7Z" fill="#97d1af" stroke="#97d1af" stroke-width="0.6"/><path d="M957.2 285.0L957.8 286.8L965.7 284.3L965.0 282.4Z" fill="#70b28e" stroke="#70b28e" stroke-width="0.6"/><path d="M957.8 286.8L958.3 288.7L966.4 286.3L965.7 284.3Z" fill="#576f86" stroke="#576f86" stroke-width="0.6"/><path d="M958.3 288.7L958.8 290.6L967.0 288.4L966.4 286.3Z" fill="#623a9e" stroke="#623a9e" stroke-width="0.6"/><path d="M958.8 290.6L959.3 292.5L967.6 290.5L967.0 288.4Z" fill="#6a12b0" stroke="#6a12b0" stroke-width="0.6"/><path d="M959.3 292.5L959.6 294.4L968.2 292.7L967.6 290.5Z" fill="#6a12b0" stroke="#6a12b0" stroke-width="0.6"/><path d="M959.6 294.4L959.9 296.1L968.6 294.9L968.2 292.7Z" fill="#6a12b0" stroke="#6a12b0" stroke-width="0.6"/><path d="M959.9 296.1L960.0 297.8L968.9 297.1L968.6 294.9Z" fill="#6a12b0" stroke="#6a12b0" stroke-width="0.6"/><path d="M960.0 297.8L960.0 299.3L969.0 299.3L968.9 297.1Z" fill="#6a12b0" stroke="#6a12b0" stroke-width="0.6"/><path d="M960.0 299.3L959.9 300.8L968.9 301.4L969.0 299.3Z" fill="#6a12b0" stroke="#6a12b0" stroke-width="0.6"/><path d="M959.9 300.8L959.7 302.3L968.8 303.5L968.9 301.4Z" fill="#6a12b0" stroke="#6a12b0" stroke-width="0.6"/><path d="M959.7 302.3L959.4 303.8L968.5 305.5L968.8 303.5Z" fill="#6a12b0" stroke="#6a12b0" stroke-width="0.6"/><path d="M959.4 303.8L959.0 305.3L968.1 307.5L968.5 305.5Z" fill="#6a12b0" stroke="#6a12b0" stroke-width="0.6"/><path d="M959.0 305.3L958.5 306.8L967.6 309.6L968.1 307.5Z" fill="#6a12b0" stroke="#6a12b0" stroke-width="0.6"/><path d="M958.5 306.8L958.0 308.2L967.0 311.5L967.6 309.6Z" fill="#6a12b0" stroke="#6a12b0" stroke-width="0.6"/><path d="M958.0 308.2L957.4 309.6L966.3 313.5L967.0 311.5Z" fill="#6a12b0" stroke="#6a12b0" stroke-width="0.6"/><path d="M957.4 309.6L956.7 310.9L965.4 315.4L966.3 313.5Z" fill="#613e9c" stroke="#613e9c" stroke-width="0.6"/><path d="M956.7 310.9L955.9 312.2L964.4 317.3L965.4 315.4Z" fill="#586c87" stroke="#586c87" stroke-width="0.6"/><path d="M955.9 312.2L955.1 313.4L963.3 319.2L964.4 317.3Z" fill="#72b390" stroke="#72b390" stroke-width="0.6"/><path d="M955.1 313.4L954.3 314.5L961.8 321.1L963.3 319.2Z" fill="#97d1af" stroke="#97d1af" stroke-width="0.6"/><path d="M954.3 314.5L953.3 315.5L960.1 322.8L961.8 321.1Z" fill="#b9eccb" stroke="#b9eccb" stroke-width="0.6"/><path d="M953.3 315.5L952.0 316.7L958.4 324.3L960.1 322.8Z" fill="#b9eccb" stroke="#b9eccb" stroke-width="0.6"/><path d="M952.0 316.7L950.5 317.8L956.6 325.8L958.4 324.3Z" fill="#b9eccb" stroke="#b9eccb" stroke-width="0.6"/><path d="M950.5 317.8L948.9 319.0L954.8 327.1L956.6 325.8Z" fill="#b9eccb" stroke="#b9eccb" stroke-width="0.6"/><path d="M948.9 319.0L947.2 320.3L953.1 328.3L954.8 327.1Z" fill="#b9eccb" stroke="#b9eccb" stroke-width="0.6"/><path d="M947.2 320.3L945.4 321.6L951.5 329.5L953.1 328.3Z" fill="#b9eccb" stroke="#b9eccb" stroke-width="0.6"/><path d="M945.4 321.6L943.6 323.1L950.0 330.7L951.5 329.5Z" fill="#99d3b0" stroke="#99d3b0" stroke-width="0.6"/><path d="M943.6 323.1L941.9 324.6L948.8 331.8L950.0 330.7Z" fill="#70b28e" stroke="#70b28e" stroke-width="0.6"/><path d="M941.9 324.6L940.3 326.3L947.7 332.9L948.8 331.8Z" fill="#586e86" stroke="#586e86" stroke-width="0.6"/><path d="M940.3 326.3L938.9 327.9L946.7 334.2L947.7 332.9Z" fill="#613d9c" stroke="#613d9c" stroke-width="0.6"/><path d="M938.9 327.9L937.7 329.5L945.7 335.5L946.7 334.2Z" fill="#6a12b0" stroke="#6a12b0" stroke-width="0.6"/><path d="M937.7 329.5L936.5 331.2L944.7 336.9L945.7 335.5Z" fill="#6a12b0" stroke="#6a12b0" stroke-width="0.6"/><path d="M936.5 331.2L935.4 332.8L943.7 338.3L944.7 336.9Z" fill="#6a12b0" stroke="#6a12b0" stroke-width="0.6"/><path d="M935.4 332.8L934.3 334.5L942.9 339.7L943.7 338.3Z" fill="#6a12b0" stroke="#6a12b0" stroke-width="0.6"/><path d="M934.3 334.5L933.3 336.2L942.0 341.1L942.9 339.7Z" fill="#6a12b0" stroke="#6a12b0" stroke-width="0.6"/><path d="M933.3 336.2L932.4 337.8L941.2 342.5L942.0 341.1Z" fill="#6a12b0" stroke="#6a12b0" stroke-width="0.6"/><path d="M932.4 337.8L931.6 339.5L940.5 344.0L941.2 342.5Z" fill="#6a12b0" stroke="#6a12b0" stroke-width="0.6"/><path d="M931.6 339.5L930.8 341.2L939.8 345.4L940.5 344.0Z" fill="#6a12b0" stroke="#6a12b0" stroke-width="0.6"/><path d="M930.8 341.2L930.0 342.9L939.2 346.7L939.8 345.4Z" fill="#6a12b0" stroke="#6a12b0" stroke-width="0.6"/><path d="M930.0 342.9L929.3 344.6L938.7 348.0L939.2 346.7Z" fill="#6a12b0" stroke="#6a12b0" stroke-width="0.6"/><path d="M929.3 344.6L928.7 346.4L938.3 349.3L938.7 348.0Z" fill="#6a12b0" stroke="#6a12b0" stroke-width="0.6"/><path d="M928.7 346.4L928.2 348.2L937.9 350.7L938.3 349.3Z" fill="#6a12b0" stroke="#6a12b0" stroke-width="0.6"/><path d="M928.2 348.2L927.8 349.9L937.6 352.1L937.9 350.7Z" fill="#6a12b0" stroke="#6a12b0" stroke-width="0.6"/><path d="M927.8 349.9L927.4 351.5L937.3 353.5L937.6 352.1Z" fill="#6919ad" stroke="#6919ad" stroke-width="0.6"/><path d="M927.4 351.5L927.1 353.1L937.0 355.0L937.3 353.5Z" fill="#61419b" stroke="#61419b" stroke-width="0.6"/><path d="M927.1 353.1L926.9 354.6L936.7 356.5L937.0 355.0Z" fill="#596988" stroke="#596988" stroke-width="0.6"/><path d="M926.9 354.6L926.6 356.1L936.4 358.1L936.7 356.5Z" fill="#519077" stroke="#519077" stroke-width="0.6"/><path d="M926.6 356.1L926.3 357.4L936.0 359.7L936.4 358.1Z" fill="#93ceac" stroke="#93ceac" stroke-width="0.6"/><path d="M926.3 357.4L926.0 358.8L935.6 361.2L936.0 359.7Z" fill="#b1e6c5" stroke="#b1e6c5" stroke-width="0.6"/><path d="M926.0 358.8L925.6 360.2L935.3 362.6L935.6 361.2Z" fill="#b9eccb" stroke="#b9eccb" stroke-width="0.6"/><path d="M925.6 360.2L925.2 361.5L935.0 363.9L935.3 362.6Z" fill="#b9eccb" stroke="#b9eccb" stroke-width="0.6"/><path d="M925.2 361.5L924.9 362.8L934.6 365.2L935.0 363.9Z" fill="#ace2c1" stroke="#ace2c1" stroke-width="0.6"/><path d="M924.9 362.8L924.6 364.1L934.3 366.5L934.6 365.2Z" fill="#91cdaa" stroke="#91cdaa" stroke-width="0.6"/><path d="M924.6 364.1L924.3 365.3L934.0 367.9L934.3 366.5Z" fill="#77b794" stroke="#77b794" stroke-width="0.6"/><path d="M924.3 365.3L924.0 366.5L933.6 369.2L934.0 367.9Z" fill="#5ca27e" stroke="#5ca27e" stroke-width="0.6"/><path d="M924.0 366.5L923.6 367.7L933.2 370.6L933.6 369.2Z" fill="#604499" stroke="#604499" stroke-width="0.6"/><path d="M923.6 367.7L923.3 368.9L932.7 372.0L933.2 370.6Z" fill="#6721a9" stroke="#6721a9" stroke-width="0.6"/><path d="M923.3 368.9L922.8 370.1L932.2 373.5L932.7 372.0Z" fill="#6a12b0" stroke="#6a12b0" stroke-width="0.6"/><path d="M922.8 370.1L922.3 371.4L931.7 375.0L932.2 373.5Z" fill="#6a12b0" stroke="#6a12b0" stroke-width="0.6"/><path d="M922.3 371.4L921.8 372.8L931.1 376.5L931.7 375.0Z" fill="#6a12b0" stroke="#6a12b0" stroke-width="0.6"/><path d="M921.8 372.8L921.2 374.4L930.5 378.0L931.1 376.5Z" fill="#6a12b0" stroke="#6a12b0" stroke-width="0.6"/><path d="M921.2 374.4L920.5 375.9L929.8 379.7L930.5 378.0Z" fill="#6a12b0" stroke="#6a12b0" stroke-width="0.6"/><path d="M920.5 375.9L919.9 377.5L929.1 381.4L929.8 379.7Z" fill="#6a12b0" stroke="#6a12b0" stroke-width="0.6"/><path d="M919.9 377.5L919.3 379.0L928.3 383.1L929.1 381.4Z" fill="#6a12b0" stroke="#6a12b0" stroke-width="0.6"/><path d="M919.3 379.0L918.6 380.4L927.5 384.9L928.3 383.1Z" fill="#6a12b0" stroke="#6a12b0" stroke-width="0.6"/><path d="M918.6 380.4L917.8 381.8L926.6 386.6L927.5 384.9Z" fill="#6a12b0" stroke="#6a12b0" stroke-width="0.6"/><path d="M917.8 381.8L917.1 383.0L925.6 388.3L926.6 386.6Z" fill="#6a12b0" stroke="#6a12b0" stroke-width="0.6"/><path d="M917.1 383.0L916.4 384.2L924.5 390.0L925.6 388.3Z" fill="#6a12b0" stroke="#6a12b0" stroke-width="0.6"/><path d="M916.4 384.2L915.6 385.2L923.2 391.6L924.5 390.0Z" fill="#6a12b0" stroke="#6a12b0" stroke-width="0.6"/><path d="M915.6 385.2L914.7 386.2L922.0 393.0L923.2 391.6Z" fill="#6a12b0" stroke="#6a12b0" stroke-width="0.6"/><path d="M914.7 386.2L913.8 387.1L920.7 394.3L922.0 393.0Z" fill="#6a12b0" stroke="#6a12b0" stroke-width="0.6"/><path d="M913.8 387.1L912.8 388.0L919.4 395.5L920.7 394.3Z" fill="#6a12b0" stroke="#6a12b0" stroke-width="0.6"/><path d="M912.8 388.0L911.8 388.8L918.0 396.7L919.4 395.5Z" fill="#6919ad" stroke="#6919ad" stroke-width="0.6"/><path d="M911.8 388.8L910.8 389.6L916.5 397.8L918.0 396.7Z" fill="#61419b" stroke="#61419b" stroke-width="0.6"/><path d="M910.8 389.6L909.6 390.4L915.0 398.8L916.5 397.8Z" fill="#586a88" stroke="#586a88" stroke-width="0.6"/><path d="M909.6 390.4L908.4 391.1L913.3 399.8L915.0 398.8Z" fill="#509375" stroke="#509375" stroke-width="0.6"/><path d="M908.4 391.1L907.1 391.8L911.6 400.7L913.3 399.8Z" fill="#b7eac9" stroke="#b7eac9" stroke-width="0.6"/><path d="M907.1 391.8L905.6 392.5L909.8 401.6L911.6 400.7Z" fill="#b9eccb" stroke="#b9eccb" stroke-width="0.6"/><path d="M905.6 392.5L904.1 393.2L907.9 402.4L909.8 401.6Z" fill="#b9eccb" stroke="#b9eccb" stroke-width="0.6"/><path d="M904.1 393.2L902.5 393.8L905.7 403.2L907.9 402.4Z" fill="#b9eccb" stroke="#b9eccb" stroke-width="0.6"/><path d="M902.5 393.8L900.7 394.4L903.3 403.9L905.7 403.2Z" fill="#b9eccb" stroke="#b9eccb" stroke-width="0.6"/><path d="M900.7 394.4L898.6 395.0L900.9 404.4L903.3 403.9Z" fill="#b9eccb" stroke="#b9eccb" stroke-width="0.6"/><path d="M898.6 395.0L896.4 395.6L898.5 404.9L900.9 404.4Z" fill="#b9eccb" stroke="#b9eccb" stroke-width="0.6"/><path d="M896.4 395.6L894.1 396.1L896.0 405.4L898.5 404.9Z" fill="#b9eccb" stroke="#b9eccb" stroke-width="0.6"/><path d="M894.1 396.1L891.7 396.7L893.6 405.9L896.0 405.4Z" fill="#9dd6b4" stroke="#9dd6b4" stroke-width="0.6"/><path d="M891.7 396.7L889.2 397.2L891.2 406.3L893.6 405.9Z" fill="#6bae8a" stroke="#6bae8a" stroke-width="0.6"/><path d="M889.2 397.2L886.8 397.8L888.9 406.8L891.2 406.3Z" fill="#567483" stroke="#567483" stroke-width="0.6"/><path d="M886.8 397.8L884.4 398.5L886.7 407.3L888.9 406.8Z" fill="#63379f" stroke="#63379f" stroke-width="0.6"/><path d="M884.4 398.5L882.1 399.2L884.7 407.8L886.7 407.3Z" fill="#6a12b0" stroke="#6a12b0" stroke-width="0.6"/><path d="M882.1 399.2L880.0 399.9L882.7 408.4L884.7 407.8Z" fill="#6a12b0" stroke="#6a12b0" stroke-width="0.6"/><path d="M880.0 399.9L878.0 400.7L880.8 409.0L882.7 408.4Z" fill="#6a12b0" stroke="#6a12b0" stroke-width="0.6"/><path d="M878.0 400.7L876.0 401.4L878.9 409.6L880.8 409.0Z" fill="#6a12b0" stroke="#6a12b0" stroke-width="0.6"/><path d="M876.0 401.4L874.0 402.1L877.0 410.2L878.9 409.6Z" fill="#6a12b0" stroke="#6a12b0" stroke-width="0.6"/><path d="M874.0 402.1L872.1 402.9L875.2 410.8L877.0 410.2Z" fill="#6a12b0" stroke="#6a12b0" stroke-width="0.6"/><path d="M872.1 402.9L870.2 403.7L873.4 411.5L875.2 410.8Z" fill="#6a12b0" stroke="#6a12b0" stroke-width="0.6"/><path d="M870.2 403.7L868.3 404.6L871.6 412.2L873.4 411.5Z" fill="#6a12b0" stroke="#6a12b0" stroke-width="0.6"/><path d="M868.3 404.6L866.4 405.5L869.8 412.9L871.6 412.2Z" fill="#6a12b0" stroke="#6a12b0" stroke-width="0.6"/><path d="M866.4 405.5L864.5 406.4L868.0 413.7L869.8 412.9Z" fill="#6a12b0" stroke="#6a12b0" stroke-width="0.6"/><path d="M864.5 406.4L862.6 407.4L866.2 414.6L868.0 413.7Z" fill="#6a12b0" stroke="#6a12b0" stroke-width="0.6"/><path d="M862.6 407.4L860.5 408.6L864.3 415.5L866.2 414.6Z" fill="#62389f" stroke="#62389f" stroke-width="0.6"/><path d="M860.5 408.6L858.4 409.9L862.3 416.6L864.3 415.5Z" fill="#567483" stroke="#567483" stroke-width="0.6"/><path d="M858.4 409.9L856.1 411.2L860.1 417.8L862.3 416.6Z" fill="#9ed6b4" stroke="#9ed6b4" stroke-width="0.6"/><path d="M856.1 411.2L853.9 412.6L857.9 419.1L860.1 417.8Z" fill="#b9eccb" stroke="#b9eccb" stroke-width="0.6"/><path d="M853.9 412.6L851.8 414.0L855.8 420.4L857.9 419.1Z" fill="#b9eccb" stroke="#b9eccb" stroke-width="0.6"/><path d="M851.8 414.0L849.7 415.4L853.7 421.7L855.8 420.4Z" fill="#b9eccb" stroke="#b9eccb" stroke-width="0.6"/><path d="M849.7 415.4L847.8 416.7L851.8 422.8L853.7 421.7Z" fill="#b9eccb" stroke="#b9eccb" stroke-width="0.6"/><path d="M847.8 416.7L846.1 417.8L850.0 423.9L851.8 422.8Z" fill="#b9eccb" stroke="#b9eccb" stroke-width="0.6"/><path d="M846.1 417.8L844.7 418.8L848.5 424.8L850.0 423.9Z" fill="#b9eccb" stroke="#b9eccb" stroke-width="0.6"/><path d="M844.7 418.8L843.6 419.5L847.4 425.5L848.5 424.8Z" fill="#b9eccb" stroke="#b9eccb" stroke-width="0.6"/></g>
<line x1="849.6" y1="382.5" x2="835.3" y2="376.2" stroke="#5caa4e" stroke-width="2.8"/>
<path d="M826.6 372.4L836.9 372.6L833.7 379.8Z" fill="#5caa4e"/>
<line x1="849.6" y1="382.5" x2="874.9" y2="377.5" stroke="#d2335c" stroke-width="2.8"/>
<path d="M885.2 375.4L875.7 381.3L874.1 373.6Z" fill="#d2335c"/>
<line x1="849.6" y1="382.5" x2="849.6" y2="353.5" stroke="#4b86b9" stroke-width="2.8"/>
<path d="M849.6 341.8L853.5 353.5L845.7 353.5Z" fill="#4b86b9"/>
<text x="845.9" y="337.7" font-size="25" fill="#000" text-anchor="start" font-weight="normal" font-style="italic" textLength="12.6" lengthAdjust="spacingAndGlyphs" >z</text>
<text x="888.9" y="379.9" font-size="25" fill="#000" text-anchor="start" font-weight="normal" font-style="italic" textLength="12.6" lengthAdjust="spacingAndGlyphs" >x</text>
<text x="813.2" y="370.9" font-size="25" fill="#000" text-anchor="start" font-weight="normal" font-style="italic" textLength="12.2" lengthAdjust="spacingAndGlyphs" >y</text>
<path d="M1172.0 271.8L1171.9 273.4L1171.8 275.5L1171.7 277.9L1171.5 280.6L1171.4 283.6L1171.2 286.7L1171.0 289.9L1170.7 293.1L1170.4 296.4L1170.0 299.5L1169.6 302.7L1169.1 306.1L1168.6 309.6L1168.0 313.2L1167.4 316.8L1166.8 320.5L1166.1 324.1L1165.5 327.6L1164.8 330.9L1164.1 334.1L1163.4 337.2L1162.7 340.2L1162.1 343.0L1161.4 345.8L1160.6 348.4L1159.9 351.1L1159.1 353.7L1158.2 356.3L1157.3 358.9L1156.3 361.5L1155.2 364.2L1154.0 366.9L1152.6 369.6L1151.3 372.4L1149.8 375.1L1148.4 377.8L1146.9 380.5L1145.4 383.1L1144.0 385.6L1142.6 387.9L1141.2 390.2L1139.8 392.4L1138.5 394.5L1137.1 396.6L1135.7 398.6L1134.4 400.5L1133.0 402.3L1131.6 404.1L1130.3 405.8L1129.0 407.4L1127.7 409.0L1126.3 410.6L1124.8 412.1L1123.3 413.7L1121.8 415.1L1120.4 416.5L1119.0 417.8L1117.8 418.9L1116.8 419.9L1116.0 420.8L1120.0 425.2L1120.9 424.6L1122.0 423.8L1123.3 422.8L1124.8 421.7L1126.4 420.4L1128.1 419.0L1129.9 417.5L1131.7 415.9L1133.4 414.3L1135.0 412.6L1136.5 410.8L1138.0 409.0L1139.4 407.1L1140.8 405.2L1142.3 403.2L1143.7 401.1L1145.1 398.9L1146.6 396.7L1148.0 394.4L1149.4 392.1L1150.9 389.6L1152.4 387.1L1153.9 384.4L1155.4 381.7L1156.9 378.9L1158.4 376.0L1159.8 373.2L1161.2 370.3L1162.5 367.4L1163.7 364.5L1164.8 361.7L1165.8 358.9L1166.7 356.1L1167.6 353.3L1168.4 350.6L1169.1 347.8L1169.8 344.9L1170.5 342.0L1171.2 339.0L1171.9 335.9L1172.6 332.6L1173.3 329.1L1174.0 325.5L1174.7 321.9L1175.3 318.2L1175.9 314.5L1176.5 310.8L1177.0 307.2L1177.5 303.8L1178.0 300.5L1178.3 297.2L1178.7 293.9L1178.9 290.5L1179.2 287.2L1179.4 284.0L1179.5 281.1L1179.7 278.3L1179.8 275.9L1179.9 273.9L1180.0 272.2Z" fill="#fff" stroke="#111" stroke-width="0.7" stroke-linejoin="round"/>
<path d="M1176.0 272.0L1175.9 273.6L1175.8 275.7L1175.7 278.1L1175.5 280.8L1175.4 283.8L1175.2 287.0L1175.0 290.2L1174.7 293.5L1174.4 296.8L1174.0 300.0L1173.6 303.2L1173.1 306.7L1172.6 310.2L1172.0 313.8L1171.4 317.5L1170.7 321.2L1170.1 324.8L1169.4 328.3L1168.7 331.8L1168.0 335.0L1167.3 338.1L1166.6 341.1L1165.9 343.9L1165.2 346.8L1164.5 349.5L1163.7 352.2L1162.9 354.9L1162.0 357.6L1161.1 360.3L1160.0 363.0L1158.8 365.8L1157.6 368.6L1156.2 371.4L1154.8 374.2L1153.4 377.0L1151.9 379.8L1150.4 382.4L1148.9 385.1L1147.4 387.6L1146.0 390.0L1144.6 392.3L1143.2 394.6L1141.8 396.7L1140.4 398.8L1139.0 400.9L1137.6 402.8L1136.2 404.7L1134.8 406.6L1133.4 408.3L1132.0 410.0L1130.5 411.6L1129.0 413.3L1127.4 414.8L1125.7 416.3L1124.1 417.8L1122.6 419.1L1121.2 420.3L1119.9 421.3L1118.8 422.3L1118.0 423.0" fill="none" stroke="#111" stroke-width="0.7"/>
<g><path d="M1166.5 272.1L1166.7 273.1L1193.2 274.9L1193.5 273.9Z" fill="#6a12b0" stroke="#6a12b0" stroke-width="0.6"/><path d="M1166.7 273.1L1166.8 274.4L1192.9 276.2L1193.2 274.9Z" fill="#6a12b0" stroke="#6a12b0" stroke-width="0.6"/><path d="M1166.8 274.4L1166.9 276.0L1192.6 277.7L1192.9 276.2Z" fill="#6a12b0" stroke="#6a12b0" stroke-width="0.6"/><path d="M1166.9 276.0L1167.0 277.7L1192.3 279.4L1192.6 277.7Z" fill="#6a12b0" stroke="#6a12b0" stroke-width="0.6"/><path d="M1167.0 277.7L1167.0 279.6L1192.0 281.3L1192.3 279.4Z" fill="#6a12b0" stroke="#6a12b0" stroke-width="0.6"/><path d="M1167.0 279.6L1167.1 281.6L1191.7 283.1L1192.0 281.3Z" fill="#6a12b0" stroke="#6a12b0" stroke-width="0.6"/><path d="M1167.1 281.6L1167.2 283.7L1191.3 285.1L1191.7 283.1Z" fill="#6a12b0" stroke="#6a12b0" stroke-width="0.6"/><path d="M1167.2 283.7L1167.3 285.7L1191.0 286.9L1191.3 285.1Z" fill="#6a12b0" stroke="#6a12b0" stroke-width="0.6"/><path d="M1167.3 285.7L1167.4 287.7L1190.8 288.7L1191.0 286.9Z" fill="#6a12b0" stroke="#6a12b0" stroke-width="0.6"/><path d="M1167.4 287.7L1167.5 289.7L1190.5 290.3L1190.8 288.7Z" fill="#6a12b0" stroke="#6a12b0" stroke-width="0.6"/><path d="M1167.5 289.7L1167.7 291.5L1190.3 291.8L1190.5 290.3Z" fill="#6a12b0" stroke="#6a12b0" stroke-width="0.6"/><path d="M1167.7 291.5L1167.9 293.2L1190.1 293.2L1190.3 291.8Z" fill="#6a12b0" stroke="#6a12b0" stroke-width="0.6"/><path d="M1167.9 293.2L1168.1 294.8L1189.9 294.6L1190.1 293.2Z" fill="#6a12b0" stroke="#6a12b0" stroke-width="0.6"/><path d="M1168.1 294.8L1168.3 296.4L1189.7 296.0L1189.9 294.6Z" fill="#6a12b0" stroke="#6a12b0" stroke-width="0.6"/><path d="M1168.3 296.4L1168.5 297.9L1189.5 297.5L1189.7 296.0Z" fill="#6a12b0" stroke="#6a12b0" stroke-width="0.6"/><path d="M1168.5 297.9L1168.8 299.5L1189.4 299.2L1189.5 297.5Z" fill="#6a12b0" stroke="#6a12b0" stroke-width="0.6"/><path d="M1168.8 299.5L1169.0 301.0L1189.2 300.9L1189.4 299.2Z" fill="#6a12b0" stroke="#6a12b0" stroke-width="0.6"/><path d="M1169.0 301.0L1169.2 302.7L1189.0 302.8L1189.2 300.9Z" fill="#6a12b0" stroke="#6a12b0" stroke-width="0.6"/><path d="M1169.2 302.7L1169.4 304.6L1188.8 304.9L1189.0 302.8Z" fill="#6628a6" stroke="#6628a6" stroke-width="0.6"/><path d="M1169.4 304.6L1169.5 306.7L1188.5 307.1L1188.8 304.9Z" fill="#60439a" stroke="#60439a" stroke-width="0.6"/><path d="M1169.5 306.7L1169.8 309.2L1188.1 309.4L1188.5 307.1Z" fill="#5a618c" stroke="#5a618c" stroke-width="0.6"/><path d="M1169.8 309.2L1170.1 311.8L1187.8 311.9L1188.1 309.4Z" fill="#54817e" stroke="#54817e" stroke-width="0.6"/><path d="M1170.1 311.8L1170.5 314.6L1187.4 314.6L1187.8 311.9Z" fill="#4f9873" stroke="#4f9873" stroke-width="0.6"/><path d="M1170.5 314.6L1170.8 317.4L1187.1 317.5L1187.4 314.6Z" fill="#4f9873" stroke="#4f9873" stroke-width="0.6"/><path d="M1170.8 317.4L1171.1 320.2L1186.7 320.5L1187.1 317.5Z" fill="#4f9873" stroke="#4f9873" stroke-width="0.6"/><path d="M1171.1 320.2L1171.4 323.1L1186.3 323.7L1186.7 320.5Z" fill="#6bae8a" stroke="#6bae8a" stroke-width="0.6"/><path d="M1171.4 323.1L1171.5 326.0L1185.8 326.9L1186.3 323.7Z" fill="#8ac7a4" stroke="#8ac7a4" stroke-width="0.6"/><path d="M1171.5 326.0L1171.7 328.8L1185.2 330.1L1185.8 326.9Z" fill="#a9e0be" stroke="#a9e0be" stroke-width="0.6"/><path d="M1171.7 328.8L1171.7 331.5L1184.5 333.3L1185.2 330.1Z" fill="#b9eccb" stroke="#b9eccb" stroke-width="0.6"/><path d="M1171.7 331.5L1171.6 334.1L1183.6 336.5L1184.5 333.3Z" fill="#b9eccb" stroke="#b9eccb" stroke-width="0.6"/><path d="M1171.6 334.1L1170.9 336.7L1183.1 339.6L1183.6 336.5Z" fill="#b9eccb" stroke="#b9eccb" stroke-width="0.6"/><path d="M1170.9 336.7L1170.0 339.4L1182.4 342.8L1183.1 339.6Z" fill="#b9eccb" stroke="#b9eccb" stroke-width="0.6"/><path d="M1170.0 339.4L1169.1 342.1L1181.7 345.9L1182.4 342.8Z" fill="#b9eccb" stroke="#b9eccb" stroke-width="0.6"/><path d="M1169.1 342.1L1168.1 344.8L1180.8 349.0L1181.7 345.9Z" fill="#b9eccb" stroke="#b9eccb" stroke-width="0.6"/><path d="M1168.1 344.8L1167.0 347.6L1179.9 352.1L1180.8 349.0Z" fill="#b9eccb" stroke="#b9eccb" stroke-width="0.6"/><path d="M1167.0 347.6L1165.9 350.3L1178.9 355.2L1179.9 352.1Z" fill="#b9eccb" stroke="#b9eccb" stroke-width="0.6"/><path d="M1165.9 350.3L1164.7 352.9L1177.8 358.3L1178.9 355.2Z" fill="#b9eccb" stroke="#b9eccb" stroke-width="0.6"/><path d="M1164.7 352.9L1163.4 355.5L1176.7 361.2L1177.8 358.3Z" fill="#b9eccb" stroke="#b9eccb" stroke-width="0.6"/><path d="M1163.4 355.5L1162.2 358.1L1175.6 364.1L1176.7 361.2Z" fill="#b9eccb" stroke="#b9eccb" stroke-width="0.6"/><path d="M1162.2 358.1L1160.9 360.4L1174.5 367.0L1175.6 364.1Z" fill="#a3dbb9" stroke="#a3dbb9" stroke-width="0.6"/><path d="M1160.9 360.4L1159.2 362.4L1173.6 370.1L1174.5 367.0Z" fill="#86c3a1" stroke="#86c3a1" stroke-width="0.6"/><path d="M1159.2 362.4L1157.5 364.2L1172.6 373.2L1173.6 370.1Z" fill="#69ac88" stroke="#69ac88" stroke-width="0.6"/><path d="M1157.5 364.2L1155.6 366.0L1171.5 376.2L1172.6 373.2Z" fill="#4f9873" stroke="#4f9873" stroke-width="0.6"/><path d="M1155.6 366.0L1153.6 367.8L1170.4 379.0L1171.5 376.2Z" fill="#51877a" stroke="#51877a" stroke-width="0.6"/><path d="M1153.6 367.8L1151.6 369.6L1169.3 381.8L1170.4 379.0Z" fill="#546689" stroke="#546689" stroke-width="0.6"/><path d="M1151.6 369.6L1149.5 371.5L1168.3 384.4L1169.3 381.8Z" fill="#564697" stroke="#564697" stroke-width="0.6"/><path d="M1149.5 371.5L1147.4 373.4L1167.4 386.8L1168.3 384.4Z" fill="#5926a5" stroke="#5926a5" stroke-width="0.6"/><path d="M1147.4 373.4L1145.3 375.4L1166.7 389.1L1167.4 386.8Z" fill="#5a1fa8" stroke="#5a1fa8" stroke-width="0.6"/><path d="M1145.3 375.4L1143.2 377.6L1166.2 391.2L1166.7 389.1Z" fill="#5a1fa8" stroke="#5a1fa8" stroke-width="0.6"/><path d="M1143.2 377.6L1141.1 380.1L1165.9 392.9L1166.2 391.2Z" fill="#5a1fa8" stroke="#5a1fa8" stroke-width="0.6"/><path d="M1141.1 380.1L1139.9 383.0L1165.1 394.1L1165.9 392.9Z" fill="#5a1fa8" stroke="#5a1fa8" stroke-width="0.6"/><path d="M1139.9 383.0L1138.9 385.9L1164.4 395.4L1165.1 394.1Z" fill="#5a1fa8" stroke="#5a1fa8" stroke-width="0.6"/><path d="M1138.9 385.9L1138.2 388.5L1163.7 396.9L1164.4 395.4Z" fill="#5a1fa8" stroke="#5a1fa8" stroke-width="0.6"/><path d="M1138.2 388.5L1137.7 390.9L1162.9 398.6L1163.7 396.9Z" fill="#5a1fa8" stroke="#5a1fa8" stroke-width="0.6"/><path d="M1137.7 390.9L1137.3 392.9L1162.2 400.5L1162.9 398.6Z" fill="#5a1fa8" stroke="#5a1fa8" stroke-width="0.6"/><path d="M1137.3 392.9L1137.0 394.7L1161.3 402.6L1162.2 400.5Z" fill="#5a1fa8" stroke="#5a1fa8" stroke-width="0.6"/><path d="M1137.0 394.7L1136.7 396.1L1160.3 404.9L1161.3 402.6Z" fill="#5a1fa8" stroke="#5a1fa8" stroke-width="0.6"/><path d="M1136.7 396.1L1136.5 397.1L1159.1 407.3L1160.3 404.9Z" fill="#5a1fa8" stroke="#5a1fa8" stroke-width="0.6"/><path d="M1136.5 397.1L1136.4 397.8L1157.6 409.9L1159.1 407.3Z" fill="#5a1fa8" stroke="#5a1fa8" stroke-width="0.6"/><path d="M1136.4 397.8L1136.3 398.4L1155.7 412.4L1157.6 409.9Z" fill="#5a1fa8" stroke="#5a1fa8" stroke-width="0.6"/><path d="M1136.3 398.4L1136.3 399.2L1153.4 414.4L1155.7 412.4Z" fill="#5a24a6" stroke="#5a24a6" stroke-width="0.6"/><path d="M1136.3 399.2L1136.2 400.3L1151.0 416.0L1153.4 414.4Z" fill="#58399d" stroke="#58399d" stroke-width="0.6"/><path d="M1136.2 400.3L1135.7 401.4L1148.7 417.2L1151.0 416.0Z" fill="#564e93" stroke="#564e93" stroke-width="0.6"/><path d="M1135.7 401.4L1135.1 402.7L1146.5 418.2L1148.7 417.2Z" fill="#54648a" stroke="#54648a" stroke-width="0.6"/><path d="M1135.1 402.7L1134.3 404.0L1144.3 418.9L1146.5 418.2Z" fill="#527980" stroke="#527980" stroke-width="0.6"/><path d="M1134.3 404.0L1133.3 405.3L1142.3 419.6L1144.3 418.9Z" fill="#508f77" stroke="#508f77" stroke-width="0.6"/><path d="M1133.3 405.3L1132.2 406.7L1140.3 420.0L1142.3 419.6Z" fill="#6bae8a" stroke="#6bae8a" stroke-width="0.6"/><path d="M1132.2 406.7L1131.0 408.1L1138.5 420.4L1140.3 420.0Z" fill="#7dbd99" stroke="#7dbd99" stroke-width="0.6"/><path d="M1131.0 408.1L1129.9 409.5L1136.8 420.7L1138.5 420.4Z" fill="#8fcaa8" stroke="#8fcaa8" stroke-width="0.6"/><path d="M1129.9 409.5L1128.8 410.9L1135.2 421.1L1136.8 420.7Z" fill="#9fd8b6" stroke="#9fd8b6" stroke-width="0.6"/><path d="M1128.8 410.9L1127.7 412.0L1133.6 421.7L1135.2 421.1Z" fill="#b0e5c3" stroke="#b0e5c3" stroke-width="0.6"/><path d="M1127.7 412.0L1126.6 413.1L1131.9 422.3L1133.6 421.7Z" fill="#b9eccb" stroke="#b9eccb" stroke-width="0.6"/><path d="M1126.6 413.1L1125.5 414.1L1130.3 422.8L1131.9 422.3Z" fill="#b9eccb" stroke="#b9eccb" stroke-width="0.6"/><path d="M1125.5 414.1L1124.3 415.1L1128.6 423.3L1130.3 422.8Z" fill="#b9eccb" stroke="#b9eccb" stroke-width="0.6"/><path d="M1124.3 415.1L1123.2 416.1L1127.1 423.7L1128.6 423.3Z" fill="#b9eccb" stroke="#b9eccb" stroke-width="0.6"/><path d="M1123.2 416.1L1122.1 417.1L1125.6 424.0L1127.1 423.7Z" fill="#b9eccb" stroke="#b9eccb" stroke-width="0.6"/><path d="M1122.1 417.1L1121.1 418.0L1124.2 424.3L1125.6 424.0Z" fill="#b9eccb" stroke="#b9eccb" stroke-width="0.6"/><path d="M1121.1 418.0L1120.2 418.8L1123.0 424.5L1124.2 424.3Z" fill="#b9eccb" stroke="#b9eccb" stroke-width="0.6"/><path d="M1120.2 418.8L1119.4 419.6L1122.0 424.7L1123.0 424.5Z" fill="#b9eccb" stroke="#b9eccb" stroke-width="0.6"/><path d="M1119.4 419.6L1118.8 420.3L1121.2 424.7L1122.0 424.7Z" fill="#b9eccb" stroke="#b9eccb" stroke-width="0.6"/></g>
<g><path d="M1172.5 272.5L1172.6 273.5L1187.3 274.5L1187.5 273.5Z" fill="#b9eccb" stroke="#b9eccb" stroke-width="0.6"/><path d="M1172.6 273.5L1172.6 274.8L1187.1 275.8L1187.3 274.5Z" fill="#b9eccb" stroke="#b9eccb" stroke-width="0.6"/><path d="M1172.6 274.8L1172.6 276.4L1186.9 277.3L1187.1 275.8Z" fill="#b9eccb" stroke="#b9eccb" stroke-width="0.6"/><path d="M1172.6 276.4L1172.5 278.1L1186.7 279.1L1186.9 277.3Z" fill="#b9eccb" stroke="#b9eccb" stroke-width="0.6"/><path d="M1172.5 278.1L1172.5 280.0L1186.5 280.9L1186.7 279.1Z" fill="#b9eccb" stroke="#b9eccb" stroke-width="0.6"/><path d="M1172.5 280.0L1172.5 282.0L1186.3 282.8L1186.5 280.9Z" fill="#b9eccb" stroke="#b9eccb" stroke-width="0.6"/><path d="M1172.5 282.0L1172.5 284.0L1186.0 284.8L1186.3 282.8Z" fill="#b9eccb" stroke="#b9eccb" stroke-width="0.6"/><path d="M1172.5 284.0L1172.5 286.0L1185.8 286.7L1186.0 284.8Z" fill="#b9eccb" stroke="#b9eccb" stroke-width="0.6"/><path d="M1172.5 286.0L1172.5 288.0L1185.7 288.5L1185.8 286.7Z" fill="#b9eccb" stroke="#b9eccb" stroke-width="0.6"/><path d="M1172.5 288.0L1172.5 289.8L1185.5 290.2L1185.7 288.5Z" fill="#b9eccb" stroke="#b9eccb" stroke-width="0.6"/><path d="M1172.5 289.8L1172.5 291.6L1185.4 291.7L1185.5 290.2Z" fill="#b9eccb" stroke="#b9eccb" stroke-width="0.6"/><path d="M1172.5 291.6L1172.6 293.2L1185.4 293.2L1185.4 291.7Z" fill="#b9eccb" stroke="#b9eccb" stroke-width="0.6"/><path d="M1172.6 293.2L1172.6 294.8L1185.3 294.6L1185.4 293.2Z" fill="#b9eccb" stroke="#b9eccb" stroke-width="0.6"/><path d="M1172.6 294.8L1172.7 296.3L1185.3 296.1L1185.3 294.6Z" fill="#b9eccb" stroke="#b9eccb" stroke-width="0.6"/><path d="M1172.7 296.3L1172.8 297.9L1185.3 297.6L1185.3 296.1Z" fill="#b9eccb" stroke="#b9eccb" stroke-width="0.6"/><path d="M1172.8 297.9L1172.9 299.4L1185.3 299.2L1185.3 297.6Z" fill="#b9eccb" stroke="#b9eccb" stroke-width="0.6"/><path d="M1172.9 299.4L1172.9 301.0L1185.2 301.0L1185.3 299.2Z" fill="#b9eccb" stroke="#b9eccb" stroke-width="0.6"/><path d="M1172.9 301.0L1173.0 302.8L1185.2 302.8L1185.2 301.0Z" fill="#b9eccb" stroke="#b9eccb" stroke-width="0.6"/><path d="M1173.0 302.8L1173.0 304.6L1185.1 304.9L1185.2 302.8Z" fill="#b9eccb" stroke="#b9eccb" stroke-width="0.6"/><path d="M1173.0 304.6L1173.0 306.8L1185.0 307.0L1185.1 304.9Z" fill="#b9eccb" stroke="#b9eccb" stroke-width="0.6"/><path d="M1173.0 306.8L1173.1 309.2L1184.8 309.3L1185.0 307.0Z" fill="#b9eccb" stroke="#b9eccb" stroke-width="0.6"/><path d="M1173.1 309.2L1173.2 311.8L1184.6 311.8L1184.8 309.3Z" fill="#b9eccb" stroke="#b9eccb" stroke-width="0.6"/><path d="M1173.2 311.8L1173.4 314.6L1184.5 314.6L1184.6 311.8Z" fill="#b9eccb" stroke="#b9eccb" stroke-width="0.6"/><path d="M1173.4 314.6L1173.5 317.4L1184.3 317.5L1184.5 314.6Z" fill="#b9eccb" stroke="#b9eccb" stroke-width="0.6"/><path d="M1173.5 317.4L1173.7 320.3L1184.2 320.5L1184.3 317.5Z" fill="#b9eccb" stroke="#b9eccb" stroke-width="0.6"/><path d="M1173.7 320.3L1173.7 323.2L1183.9 323.6L1184.2 320.5Z" fill="#b9eccb" stroke="#b9eccb" stroke-width="0.6"/><path d="M1173.7 323.2L1173.7 326.1L1183.6 326.7L1183.9 323.6Z" fill="#b9eccb" stroke="#b9eccb" stroke-width="0.6"/><path d="M1173.7 326.1L1173.7 329.0L1183.2 329.9L1183.6 326.7Z" fill="#b9eccb" stroke="#b9eccb" stroke-width="0.6"/><path d="M1173.7 329.0L1173.5 331.7L1182.7 333.1L1183.2 329.9Z" fill="#b9eccb" stroke="#b9eccb" stroke-width="0.6"/><path d="M1173.5 331.7L1173.2 334.4L1182.0 336.2L1182.7 333.1Z" fill="#b9eccb" stroke="#b9eccb" stroke-width="0.6"/><path d="M1173.2 334.4L1172.5 337.1L1181.4 339.2L1182.0 336.2Z" fill="#b9eccb" stroke="#b9eccb" stroke-width="0.6"/><path d="M1172.5 337.1L1171.7 339.8L1180.8 342.3L1181.4 339.2Z" fill="#b9eccb" stroke="#b9eccb" stroke-width="0.6"/><path d="M1171.7 339.8L1170.8 342.6L1180.0 345.4L1180.8 342.3Z" fill="#b9eccb" stroke="#b9eccb" stroke-width="0.6"/><path d="M1170.8 342.6L1169.8 345.4L1179.1 348.5L1180.0 345.4Z" fill="#b9eccb" stroke="#b9eccb" stroke-width="0.6"/><path d="M1169.8 345.4L1168.7 348.2L1178.2 351.5L1179.1 348.5Z" fill="#b9eccb" stroke="#b9eccb" stroke-width="0.6"/><path d="M1168.7 348.2L1167.6 350.9L1177.1 354.6L1178.2 351.5Z" fill="#b9eccb" stroke="#b9eccb" stroke-width="0.6"/><path d="M1167.6 350.9L1166.4 353.6L1176.1 357.5L1177.1 354.6Z" fill="#b6eac9" stroke="#b6eac9" stroke-width="0.6"/><path d="M1166.4 353.6L1165.2 356.3L1175.0 360.5L1176.1 357.5Z" fill="#abe3c1" stroke="#abe3c1" stroke-width="0.6"/><path d="M1165.2 356.3L1164.0 358.9L1173.8 363.3L1175.0 360.5Z" fill="#a1ddb8" stroke="#a1ddb8" stroke-width="0.6"/><path d="M1164.0 358.9L1162.7 361.3L1172.7 366.1L1173.8 363.3Z" fill="#9bd9b4" stroke="#9bd9b4" stroke-width="0.6"/><path d="M1162.7 361.3L1161.3 363.5L1171.6 369.0L1172.7 366.1Z" fill="#9bd9b4" stroke="#9bd9b4" stroke-width="0.6"/><path d="M1161.3 363.5L1159.7 365.5L1170.4 371.8L1171.6 369.0Z" fill="#9bd9b4" stroke="#9bd9b4" stroke-width="0.6"/><path d="M1159.7 365.5L1158.0 367.5L1169.1 374.6L1170.4 371.8Z" fill="#9bd9b4" stroke="#9bd9b4" stroke-width="0.6"/><path d="M1158.0 367.5L1156.3 369.6L1167.7 377.3L1169.1 374.6Z" fill="#9ad8b3" stroke="#9ad8b3" stroke-width="0.6"/><path d="M1156.3 369.6L1154.5 371.6L1166.4 379.8L1167.7 377.3Z" fill="#93d3ad" stroke="#93d3ad" stroke-width="0.6"/><path d="M1154.5 371.6L1152.6 373.6L1165.2 382.2L1166.4 379.8Z" fill="#8ccea7" stroke="#8ccea7" stroke-width="0.6"/><path d="M1152.6 373.6L1150.8 375.7L1164.0 384.6L1165.2 382.2Z" fill="#86c9a2" stroke="#86c9a2" stroke-width="0.6"/><path d="M1150.8 375.7L1149.0 377.8L1163.0 386.7L1164.0 384.6Z" fill="#86c9a2" stroke="#86c9a2" stroke-width="0.6"/><path d="M1149.0 377.8L1147.2 380.0L1162.1 388.8L1163.0 386.7Z" fill="#86c9a2" stroke="#86c9a2" stroke-width="0.6"/><path d="M1147.2 380.0L1145.5 382.4L1161.5 390.6L1162.1 388.8Z" fill="#86c9a2" stroke="#86c9a2" stroke-width="0.6"/><path d="M1145.5 382.4L1144.4 385.0L1160.6 392.1L1161.5 390.6Z" fill="#86c9a2" stroke="#86c9a2" stroke-width="0.6"/><path d="M1144.4 385.0L1143.5 387.6L1159.8 393.7L1160.6 392.1Z" fill="#86c9a2" stroke="#86c9a2" stroke-width="0.6"/><path d="M1143.5 387.6L1142.8 390.0L1159.1 395.4L1159.8 393.7Z" fill="#86c9a2" stroke="#86c9a2" stroke-width="0.6"/><path d="M1142.8 390.0L1142.3 392.3L1158.4 397.2L1159.1 395.4Z" fill="#86c9a2" stroke="#86c9a2" stroke-width="0.6"/><path d="M1142.3 392.3L1141.8 394.3L1157.6 399.1L1158.4 397.2Z" fill="#86c9a2" stroke="#86c9a2" stroke-width="0.6"/><path d="M1141.8 394.3L1141.4 396.1L1156.8 401.1L1157.6 399.1Z" fill="#86c9a2" stroke="#86c9a2" stroke-width="0.6"/><path d="M1141.4 396.1L1141.1 397.7L1156.0 403.2L1156.8 401.1Z" fill="#86c9a2" stroke="#86c9a2" stroke-width="0.6"/><path d="M1141.1 397.7L1140.7 399.0L1154.9 405.4L1156.0 403.2Z" fill="#86c9a2" stroke="#86c9a2" stroke-width="0.6"/><path d="M1140.7 399.0L1140.3 400.1L1153.6 407.6L1154.9 405.4Z" fill="#86c9a2" stroke="#86c9a2" stroke-width="0.6"/><path d="M1140.3 400.1L1139.9 401.0L1152.1 409.8L1153.6 407.6Z" fill="#86c9a2" stroke="#86c9a2" stroke-width="0.6"/><path d="M1139.9 401.0L1139.5 402.0L1150.2 411.6L1152.1 409.8Z" fill="#86c9a2" stroke="#86c9a2" stroke-width="0.6"/><path d="M1139.5 402.0L1138.8 403.1L1148.3 413.1L1150.2 411.6Z" fill="#8ecfa8" stroke="#8ecfa8" stroke-width="0.6"/><path d="M1138.8 403.1L1138.0 404.2L1146.4 414.4L1148.3 413.1Z" fill="#99d6b1" stroke="#99d6b1" stroke-width="0.6"/><path d="M1138.0 404.2L1137.0 405.4L1144.5 415.5L1146.4 414.4Z" fill="#a4ddba" stroke="#a4ddba" stroke-width="0.6"/><path d="M1137.0 405.4L1135.9 406.5L1142.6 416.5L1144.5 415.5Z" fill="#afe5c3" stroke="#afe5c3" stroke-width="0.6"/><path d="M1135.9 406.5L1134.7 407.6L1140.8 417.3L1142.6 416.5Z" fill="#b9eccb" stroke="#b9eccb" stroke-width="0.6"/><path d="M1134.7 407.6L1133.4 408.8L1139.1 418.0L1140.8 417.3Z" fill="#b9eccb" stroke="#b9eccb" stroke-width="0.6"/><path d="M1133.4 408.8L1132.1 409.9L1137.4 418.6L1139.1 418.0Z" fill="#b9eccb" stroke="#b9eccb" stroke-width="0.6"/><path d="M1132.1 409.9L1130.8 411.1L1135.9 419.2L1137.4 418.6Z" fill="#b9eccb" stroke="#b9eccb" stroke-width="0.6"/><path d="M1130.8 411.1L1129.6 412.2L1134.4 419.8L1135.9 419.2Z" fill="#b9eccb" stroke="#b9eccb" stroke-width="0.6"/><path d="M1129.6 412.2L1128.4 413.2L1132.9 420.5L1134.4 419.8Z" fill="#b9eccb" stroke="#b9eccb" stroke-width="0.6"/><path d="M1128.4 413.2L1127.3 414.2L1131.3 421.1L1132.9 420.5Z" fill="#b9eccb" stroke="#b9eccb" stroke-width="0.6"/><path d="M1127.3 414.2L1126.1 415.2L1129.7 421.7L1131.3 421.1Z" fill="#b9eccb" stroke="#b9eccb" stroke-width="0.6"/><path d="M1126.1 415.2L1124.8 416.1L1128.1 422.3L1129.7 421.7Z" fill="#b9eccb" stroke="#b9eccb" stroke-width="0.6"/><path d="M1124.8 416.1L1123.6 417.0L1126.6 422.8L1128.1 422.3Z" fill="#b9eccb" stroke="#b9eccb" stroke-width="0.6"/><path d="M1123.6 417.0L1122.5 417.9L1125.2 423.2L1126.6 422.8Z" fill="#b9eccb" stroke="#b9eccb" stroke-width="0.6"/><path d="M1122.5 417.9L1121.4 418.7L1123.9 423.6L1125.2 423.2Z" fill="#b9eccb" stroke="#b9eccb" stroke-width="0.6"/><path d="M1121.4 418.7L1120.5 419.4L1122.7 423.9L1123.9 423.6Z" fill="#b9eccb" stroke="#b9eccb" stroke-width="0.6"/><path d="M1120.5 419.4L1119.7 420.1L1121.7 424.1L1122.7 423.9Z" fill="#b9eccb" stroke="#b9eccb" stroke-width="0.6"/><path d="M1119.7 420.1L1119.1 420.7L1120.9 424.3L1121.7 424.1Z" fill="#b9eccb" stroke="#b9eccb" stroke-width="0.6"/></g>
<path d="M1182 273 C1181 310 1180 335 1170 362 C1160 388 1148 408 1120 423" fill="none" stroke="#123" stroke-width="0.7" opacity="0.85"/>
<path d="M1177 273 C1176 310 1175 335 1165 362 C1155 388 1142 408 1116 423" fill="none" stroke="#123" stroke-width="0.7" opacity="0.85"/>
<line x1="1089.4" y1="387.9" x2="1058.4" y2="386.8" stroke="#5caa4e" stroke-width="2.8"/>
<path d="M1048.9 386.4L1058.5 382.9L1058.2 390.6Z" fill="#5caa4e"/>
<line x1="1089.4" y1="387.9" x2="1101.7" y2="386.4" stroke="#d2335c" stroke-width="2.8"/>
<circle cx="1101.7" cy="386.4" r="3.8" fill="#d2335c"/>
<line x1="1089.4" y1="387.9" x2="1089.4" y2="356.7" stroke="#4b86b9" stroke-width="2.8"/>
<path d="M1089.4 345.0L1093.3 356.7L1085.5 356.7Z" fill="#4b86b9"/>
<text x="1083.9" y="340" font-size="25" fill="#000" text-anchor="start" font-weight="normal" font-style="italic" textLength="12.6" lengthAdjust="spacingAndGlyphs" >z</text>
<text x="1110" y="392.3" font-size="25" fill="#000" text-anchor="start" font-weight="normal" font-style="italic" textLength="12.6" lengthAdjust="spacingAndGlyphs" >x</text>
<text x="1034.3" y="389.4" font-size="25" fill="#000" text-anchor="start" font-weight="normal" font-style="italic" textLength="12.2" lengthAdjust="spacingAndGlyphs" >y</text>
<g clip-path="url(#pc1)">
<rect x="32.3" y="244" width="225.39999999999998" height="184" fill="url(#pg1)"/>
<rect x="32.3" y="244" width="225.39999999999998" height="184" filter="url(#gnoise)" opacity="1"/>
<rect x="32.3" y="244" width="225.39999999999998" height="184" filter="url(#gnoise2)" opacity="0.5"/>
<path d="M32.3 327 L257.7 333 L257.7 428 L32.3 428Z" fill="#2a0802"/>
<path d="M32.3 329 L257.7 335 L257.7 428 L32.3 428Z" filter="url(#cnoise)" opacity="0.35"/>
<path d="M32.3 327 L257.7 333" stroke="#0c0200" stroke-width="6" filter="url(#b1)"/>
<path d="M32.3 329 L59.3 331 L61.6 428 L32.3 428Z" fill="#080100" opacity="0.8" filter="url(#b2)"/>
<g filter="url(#b09)">
<path d="M49 332.9 L109 333.1 L109 340.3 L49 340.1Z" fill="#f2a23c"/>
<path d="M49 332.9 L109 333.1 L109 335.4 L49 335.2Z" fill="#ffd878"/>
<path d="M49 338.1 L109 338.3 L109 340.3 L49 340.1Z" fill="#b86414"/>
<path d="M123.6 340.4 L189.6 340.6 L189.6 345.6 L123.6 345.4Z" fill="#f0843a"/>
<path d="M123.6 340.4 L189.6 340.6 L189.6 342.2 L123.6 342.0Z" fill="#ffc070"/>
<path d="M123.6 344.0 L189.6 344.2 L189.6 345.6 L123.6 345.4Z" fill="#a83810"/>
<path d="M115 345.8 L211 346.2 L211 351.7 L115 351.3Z" fill="#ee5e22"/>
<path d="M115 345.8 L211 346.2 L211 348.0 L115 347.6Z" fill="#ffae58"/>
<path d="M115 349.8 L211 350.2 L211 351.7 L115 351.3Z" fill="#8e1e06"/>
<path d="M64 355.1 L167 355.5 L167 360.9 L64 360.5Z" fill="#ee5e22"/>
<path d="M64 355.1 L167 355.5 L167 357.3 L64 356.9Z" fill="#ffae58"/>
<path d="M64 359.0 L167 359.4 L167 360.9 L64 360.5Z" fill="#8e1e06"/>
<path d="M64 362.1 L107.7 362.3 L107.7 365.0 L64 364.8Z" fill="#b8401a"/>
<path d="M64 362.1 L107.7 362.3 L107.7 363.2 L64 363.0Z" fill="#d8702c"/>
<path d="M64 364.1 L107.7 364.2 L107.7 365.0 L64 364.8Z" fill="#6a1606"/>
<path d="M188.5 367.4 L229 367.6 L229 372.8 L188.5 372.6Z" fill="#ee5e22"/>
<path d="M188.5 367.4 L229 367.6 L229 369.3 L188.5 369.1Z" fill="#ffae58"/>
<path d="M188.5 371.2 L229 371.3 L229 372.8 L188.5 372.6Z" fill="#8e1e06"/>
<path d="M62 374.9 L222.6 375.6 L222.6 380.4 L62 379.7Z" fill="#ee5e22"/>
<path d="M62 374.9 L222.6 375.6 L222.6 377.1 L62 376.5Z" fill="#ffae58"/>
<path d="M62 378.4 L222.6 379.0 L222.6 380.4 L62 379.7Z" fill="#8e1e06"/>
<path d="M62 381.1 L222.6 381.8 L222.6 385.8 L62 385.1Z" fill="#b8401a"/>
<path d="M62 381.1 L222.6 381.8 L222.6 383.0 L62 382.4Z" fill="#d8702c"/>
<path d="M62 384.0 L222.6 384.6 L222.6 385.8 L62 385.1Z" fill="#6a1606"/>
<path d="M62 385.1 L229 385.8 L229 389.8 L62 389.1Z" fill="#ee5e22"/>
<path d="M62 385.1 L229 385.8 L229 387.1 L62 386.4Z" fill="#ffae58"/>
<path d="M62 388.0 L229 388.7 L229 389.8 L62 389.1Z" fill="#8e1e06"/>
<path d="M62 389.1 L229 389.8 L229 399.3 L62 398.6Z" fill="#9a3810"/>
<rect x="102.0" y="389.8" width="6.6" height="8.0" fill="#140200"/>
<circle cx="111.0" cy="395.0" r="1.5" fill="#ffc838"/>
<rect x="118.5" y="389.8" width="6.6" height="8.0" fill="#140200"/>
<circle cx="127.5" cy="395.1" r="1.5" fill="#ffc838"/>
<rect x="135.0" y="389.9" width="6.6" height="8.0" fill="#140200"/>
<circle cx="144.0" cy="395.2" r="1.5" fill="#ffc838"/>
<rect x="151.5" y="390.0" width="6.6" height="8.0" fill="#140200"/>
<circle cx="160.5" cy="395.2" r="1.5" fill="#ffc838"/>
<rect x="168.0" y="390.0" width="6.6" height="8.0" fill="#140200"/>
<circle cx="177.0" cy="395.3" r="1.5" fill="#ffc838"/>
<rect x="184.5" y="390.1" width="6.6" height="8.0" fill="#140200"/>
<circle cx="193.5" cy="395.4" r="1.5" fill="#ffc838"/>
<rect x="201.0" y="390.2" width="6.6" height="8.0" fill="#140200"/>
<circle cx="210.0" cy="395.4" r="1.5" fill="#ffc838"/>
<rect x="217.5" y="390.2" width="6.6" height="8.0" fill="#140200"/>
<circle cx="226.5" cy="395.5" r="1.5" fill="#ffc838"/>
<path d="M61 398.1 L221.5 398.8 L221.5 402.8 L61 402.1Z" fill="#f2a23c"/>
<path d="M61 398.1 L221.5 398.8 L221.5 400.0 L61 399.4Z" fill="#ffd878"/>
<path d="M61 401.0 L221.5 401.6 L221.5 402.8 L61 402.1Z" fill="#b86414"/>
<path d="M63 402.1 L229 402.8 L229 411.2 L63 410.5Z" fill="#ee5e22"/>
<path d="M63 402.1 L229 402.8 L229 405.5 L63 404.8Z" fill="#ffae58"/>
<path d="M63 408.2 L229 408.8 L229 411.2 L63 410.5Z" fill="#8e1e06"/>
<path d="M100 410.7 L193 411.0 L193 415.3 L100 415.0Z" fill="#b8401a"/>
<path d="M100 410.7 L193 411.0 L193 412.4 L100 412.0Z" fill="#d8702c"/>
<path d="M100 413.8 L193 414.1 L193 415.3 L100 415.0Z" fill="#6a1606"/>
<rect x="88.5" y="417.9" width="3.3" height="3.5" rx="1.5" fill="#e07a14"/>
<rect x="92.6" y="415.5" width="2.6" height="7.7" rx="1.5" fill="#f0a820"/>
<rect x="96.5" y="415.3" width="4.4" height="5.1" rx="1.5" fill="#f0a820"/>
<rect x="102.3" y="420.9" width="5.8" height="2.7" rx="1.5" fill="#ffd040"/>
<rect x="111.4" y="419.1" width="3.2" height="5.4" rx="1.5" fill="#b04808"/>
<rect x="118.4" y="420.5" width="5.5" height="6.0" rx="1.5" fill="#ffd040"/>
<rect x="126.7" y="418.5" width="4.3" height="4.2" rx="1.5" fill="#f0a820"/>
<rect x="134.8" y="416.0" width="5.4" height="11.4" rx="1.5" fill="#f0a820"/>
<rect x="143.9" y="416.6" width="4.5" height="10.8" rx="1.5" fill="#ffe070"/>
<rect x="149.6" y="417.9" width="4.0" height="5.2" rx="1.5" fill="#e07a14"/>
<rect x="155.1" y="414.5" width="5.3" height="2.9" rx="1.5" fill="#b04808"/>
<rect x="164.4" y="417.7" width="4.3" height="8.6" rx="1.5" fill="#e07a14"/>
<rect x="172.7" y="415.6" width="3.2" height="6.4" rx="1.5" fill="#b04808"/>
<rect x="178.0" y="418.4" width="3.1" height="6.6" rx="1.5" fill="#b04808"/>
<rect x="183.6" y="414.7" width="5.7" height="3.4" rx="1.5" fill="#e07a14"/>
<rect x="190.7" y="414.5" width="4.5" height="10.6" rx="1.5" fill="#e07a14"/>
<rect x="196.8" y="414.8" width="2.6" height="5.9" rx="1.5" fill="#ffd040"/>
<rect x="202.4" y="417.4" width="5.9" height="2.7" rx="1.5" fill="#e07a14"/>
<rect x="211.5" y="415.8" width="3.9" height="11.4" rx="1.5" fill="#f0a820"/>
<rect x="217.0" y="415.2" width="3.2" height="6.7" rx="1.5" fill="#c85a0c"/>
<rect x="222.7" y="416.4" width="3.1" height="7.9" rx="1.5" fill="#c85a0c"/>
<rect x="226.9" y="416.6" width="5.2" height="5.9" rx="1.5" fill="#f0a820"/>
<rect x="234.2" y="414.6" width="3.2" height="11.1" rx="1.5" fill="#f0a820"/>
<rect x="238.1" y="415.1" width="3.1" height="8.9" rx="1.5" fill="#f0a820"/>
<rect x="243.6" y="414.6" width="4.5" height="5.5" rx="1.5" fill="#ffe070"/>
<rect x="249.6" y="415.4" width="6.0" height="8.6" rx="1.5" fill="#e07a14"/>
<rect x="257.0" y="419.1" width="3.9" height="2.8" rx="1.5" fill="#e07a14"/>
</g>
<path d="M32.3 330 L257.7 336 L257.7 428 L32.3 428Z" fill="#1c0300" opacity="0.13"/>
<path d="M148 309 C146 318 138 328 122 336" fill="none" stroke="#3a4a10" stroke-width="4" opacity="0.8" filter="url(#b1)"/>
<path d="M104 349 C120 344 135 336 147 326" fill="none" stroke="#d01838" stroke-width="2.5" opacity="0.85" filter="url(#b06)"/>
<path d="M186 318 L192 332" stroke="#55401a" stroke-width="2.5" opacity="0.8"/>
<path d="M125 366 C150 360 185 362 215 370" stroke="#140300" stroke-width="11" opacity="0.85" filter="url(#b2)" fill="none"/>
<rect x="232" y="340" width="26" height="74" fill="#4a1c08" opacity="0.55" filter="url(#b1)"/>
<ellipse cx="74" cy="351" rx="9" ry="2.6" fill="#e8204c" filter="url(#b1)"/>
<path d="M144 291 C165 293 192 306 208 326" fill="none" stroke="#ff1840" stroke-width="7.4" stroke-linecap="round" opacity="0.6" filter="url(#b15)"/><path d="M144 291 C165 293 192 306 208 326" fill="none" stroke="#ff3e5e" stroke-width="4.4" stroke-linecap="round" filter="url(#b06)"/><path d="M144 291 C165 293 192 306 208 326" fill="none" stroke="#ffb8c4" stroke-width="1.5" stroke-linecap="round" opacity="0.85" filter="url(#b06)"/>
<circle cx="193.5" cy="331.5" r="6.6000000000000005" fill="url(#spot)"/><line x1="187.5" y1="331.5" x2="199.5" y2="331.5" stroke="#ff2040" stroke-width="1.2" opacity="0.45"/><line x1="188.3" y1="328.5" x2="198.7" y2="334.5" stroke="#ff2040" stroke-width="1.2" opacity="0.45"/><line x1="190.5" y1="326.3" x2="196.5" y2="336.7" stroke="#ff2040" stroke-width="1.2" opacity="0.45"/><line x1="193.5" y1="325.5" x2="193.5" y2="337.5" stroke="#ff2040" stroke-width="1.2" opacity="0.45"/><line x1="196.5" y1="326.3" x2="190.5" y2="336.7" stroke="#ff2040" stroke-width="1.2" opacity="0.45"/><line x1="198.7" y1="328.5" x2="188.3" y2="334.5" stroke="#ff2040" stroke-width="1.2" opacity="0.45"/><circle cx="193.5" cy="331.5" r="1.7" fill="#fff" filter="url(#b06)"/>
<rect x="178" y="334" width="42" height="6" fill="#050000"/>
<path d="M175 350 C190 352 205 356 222 362" stroke="#b0182a" stroke-width="5" opacity="0.5" filter="url(#b2)" fill="none"/>
<rect x="47" y="389" width="18" height="3.4" rx="1.5" fill="#7ad020" filter="url(#b06)"/>
<rect x="82" y="368.5" width="12" height="3.4" rx="1.5" fill="#7ad020" filter="url(#b06)"/>
<rect x="231" y="362" width="2.5" height="3" rx="1.5" fill="#7ad020" filter="url(#b06)"/>
<rect x="231" y="370" width="2.5" height="3" rx="1.5" fill="#7ad020" filter="url(#b06)"/>
<rect x="231" y="381" width="2.5" height="3" rx="1.5" fill="#7ad020" filter="url(#b06)"/>
<rect x="231" y="402" width="2.5" height="3" rx="1.5" fill="#7ad020" filter="url(#b06)"/>
<rect x="54.5" y="368" width="10.5" height="3" rx="1.5" fill="#d8b020" filter="url(#b06)"/>
<rect x="78" y="390.7" width="16" height="3.6" rx="1.8" fill="#e0b828" filter="url(#b06)"/>
</g>
<text x="79" y="275.6" font-size="24" fill="#fff" textLength="134.8" lengthAdjust="spacingAndGlyphs"><tspan font-style="italic">Y</tspan><tspan font-size="14.4" dy="9">1</tspan><tspan dy="-9">: 1.30 kHz</tspan></text>
<g clip-path="url(#pc2)">
<rect x="291.2" y="246" width="224.7" height="181.60000000000002" fill="url(#pg2)"/>
<rect x="291.2" y="246" width="224.7" height="181.60000000000002" filter="url(#gnoise)" opacity="1"/>
<rect x="291.2" y="246" width="224.7" height="181.60000000000002" filter="url(#gnoise2)" opacity="0.5"/>
<path d="M291.2 325.5 L515.9 332 L515.9 427.6 L291.2 427.6Z" fill="#2a0802"/>
<path d="M291.2 327.5 L515.9 334 L515.9 427.6 L291.2 427.6Z" filter="url(#cnoise)" opacity="0.35"/>
<path d="M291.2 325.5 L515.9 332" stroke="#0c0200" stroke-width="6" filter="url(#b1)"/>
<path d="M291.2 327.5 L318.2 329.5 L320.4 427.6 L291.2 427.6Z" fill="#080100" opacity="0.8" filter="url(#b2)"/>
<g filter="url(#b09)">
<path d="M303 330.5 L372 330.8 L372 337.8 L303 337.5Z" fill="#f2a23c"/>
<path d="M303 330.5 L372 330.8 L372 333.1 L303 332.8Z" fill="#ffd878"/>
<path d="M303 335.6 L372 335.9 L372 337.8 L303 337.5Z" fill="#b86414"/>
<path d="M398 338.9 L470 339.2 L470 344.2 L398 343.9Z" fill="#f0843a"/>
<path d="M398 338.9 L470 339.2 L470 340.8 L398 340.5Z" fill="#ffc070"/>
<path d="M398 342.5 L470 342.8 L470 344.2 L398 343.9Z" fill="#a83810"/>
<path d="M372 344.3 L470 344.7 L470 350.2 L372 349.8Z" fill="#ee5e22"/>
<path d="M372 344.3 L470 344.7 L470 346.5 L372 346.1Z" fill="#ffae58"/>
<path d="M372 348.3 L470 348.7 L470 350.2 L372 349.8Z" fill="#8e1e06"/>
<path d="M318 353.6 L421 354.0 L421 359.4 L318 359.0Z" fill="#ee5e22"/>
<path d="M318 353.6 L421 354.0 L421 355.7 L318 355.3Z" fill="#ffae58"/>
<path d="M318 357.5 L421 357.9 L421 359.4 L318 359.0Z" fill="#8e1e06"/>
<path d="M318 360.6 L361.7 360.8 L361.7 363.5 L318 363.3Z" fill="#b8401a"/>
<path d="M318 360.6 L361.7 360.8 L361.7 361.6 L318 361.5Z" fill="#d8702c"/>
<path d="M318 362.6 L361.7 362.7 L361.7 363.5 L318 363.3Z" fill="#6a1606"/>
<path d="M442.5 365.9 L483 366.1 L483 371.3 L442.5 371.1Z" fill="#ee5e22"/>
<path d="M442.5 365.9 L483 366.1 L483 367.7 L442.5 367.6Z" fill="#ffae58"/>
<path d="M442.5 369.6 L483 369.8 L483 371.3 L442.5 371.1Z" fill="#8e1e06"/>
<path d="M316 373.4 L476.6 374.0 L476.6 378.8 L316 378.2Z" fill="#ee5e22"/>
<path d="M316 373.4 L476.6 374.0 L476.6 375.6 L316 374.9Z" fill="#ffae58"/>
<path d="M316 376.9 L476.6 377.5 L476.6 378.8 L316 378.2Z" fill="#8e1e06"/>
<path d="M316 379.6 L476.6 380.2 L476.6 384.2 L316 383.6Z" fill="#b8401a"/>
<path d="M316 379.6 L476.6 380.2 L476.6 381.5 L316 380.9Z" fill="#d8702c"/>
<path d="M316 382.5 L476.6 383.1 L476.6 384.2 L316 383.6Z" fill="#6a1606"/>
<path d="M316 383.6 L483 384.3 L483 388.3 L316 387.6Z" fill="#ee5e22"/>
<path d="M316 383.6 L483 384.3 L483 385.5 L316 384.9Z" fill="#ffae58"/>
<path d="M316 386.5 L483 387.1 L483 388.3 L316 387.6Z" fill="#8e1e06"/>
<path d="M316 387.6 L483 388.3 L483 397.8 L316 397.1Z" fill="#9a3810"/>
<rect x="360.0" y="388.3" width="6.6" height="8.0" fill="#140200"/>
<circle cx="369.0" cy="393.5" r="1.5" fill="#ffc838"/>
<rect x="376.5" y="388.3" width="6.6" height="8.0" fill="#140200"/>
<circle cx="385.5" cy="393.6" r="1.5" fill="#ffc838"/>
<rect x="393.0" y="388.4" width="6.6" height="8.0" fill="#140200"/>
<circle cx="402.0" cy="393.7" r="1.5" fill="#ffc838"/>
<rect x="409.5" y="388.5" width="6.6" height="8.0" fill="#140200"/>
<circle cx="418.5" cy="393.7" r="1.5" fill="#ffc838"/>
<rect x="426.0" y="388.5" width="6.6" height="8.0" fill="#140200"/>
<circle cx="435.0" cy="393.8" r="1.5" fill="#ffc838"/>
<rect x="442.5" y="388.6" width="6.6" height="8.0" fill="#140200"/>
<circle cx="451.5" cy="393.9" r="1.5" fill="#ffc838"/>
<rect x="459.0" y="388.7" width="6.6" height="8.0" fill="#140200"/>
<circle cx="468.0" cy="393.9" r="1.5" fill="#ffc838"/>
<rect x="475.5" y="388.7" width="6.6" height="8.0" fill="#140200"/>
<circle cx="484.5" cy="394.0" r="1.5" fill="#ffc838"/>
<path d="M315 396.6 L475.5 397.2 L475.5 401.2 L315 400.6Z" fill="#f2a23c"/>
<path d="M315 396.6 L475.5 397.2 L475.5 398.5 L315 397.9Z" fill="#ffd878"/>
<path d="M315 399.5 L475.5 400.1 L475.5 401.2 L315 400.6Z" fill="#b86414"/>
<path d="M317 400.6 L483 401.3 L483 409.7 L317 409.0Z" fill="#ee5e22"/>
<path d="M317 400.6 L483 401.3 L483 404.0 L317 403.3Z" fill="#ffae58"/>
<path d="M317 406.7 L483 407.3 L483 409.7 L317 409.0Z" fill="#8e1e06"/>
<path d="M354 409.2 L447 409.5 L447 413.8 L354 413.5Z" fill="#b8401a"/>
<path d="M354 409.2 L447 409.5 L447 410.9 L354 410.5Z" fill="#d8702c"/>
<path d="M354 412.2 L447 412.6 L447 413.8 L354 413.5Z" fill="#6a1606"/>
<rect x="342.5" y="413.3" width="4.1" height="6.0" rx="1.5" fill="#b04808"/>
<rect x="347.1" y="412.5" width="4.3" height="10.9" rx="1.5" fill="#ffe070"/>
<rect x="355.2" y="413.0" width="5.0" height="9.3" rx="1.5" fill="#c85a0c"/>
<rect x="364.0" y="412.8" width="4.0" height="4.1" rx="1.5" fill="#e07a14"/>
<rect x="370.2" y="416.8" width="5.7" height="8.1" rx="1.5" fill="#c85a0c"/>
<rect x="379.2" y="412.9" width="5.6" height="11.1" rx="1.5" fill="#e07a14"/>
<rect x="387.9" y="415.2" width="4.0" height="3.3" rx="1.5" fill="#e07a14"/>
<rect x="393.7" y="420.2" width="3.7" height="2.9" rx="1.5" fill="#f0a820"/>
<rect x="401.0" y="416.3" width="2.7" height="6.1" rx="1.5" fill="#f0a820"/>
<rect x="405.0" y="415.7" width="5.1" height="10.5" rx="1.5" fill="#f0a820"/>
<rect x="411.0" y="413.1" width="4.5" height="10.9" rx="1.5" fill="#f0a820"/>
<rect x="419.2" y="413.9" width="3.0" height="11.1" rx="1.5" fill="#ffe070"/>
<rect x="424.4" y="415.5" width="5.7" height="6.4" rx="1.5" fill="#b04808"/>
<rect x="433.3" y="422.0" width="5.0" height="3.9" rx="1.5" fill="#b04808"/>
<rect x="442.1" y="416.4" width="2.7" height="7.7" rx="1.5" fill="#e07a14"/>
<rect x="447.9" y="412.8" width="5.1" height="7.9" rx="1.5" fill="#b04808"/>
<rect x="454.9" y="417.6" width="5.7" height="4.0" rx="1.5" fill="#b04808"/>
<rect x="462.3" y="417.2" width="4.9" height="8.0" rx="1.5" fill="#f0a820"/>
<rect x="470.7" y="413.9" width="2.9" height="10.8" rx="1.5" fill="#e07a14"/>
<rect x="475.5" y="412.8" width="6.0" height="7.9" rx="1.5" fill="#ffe070"/>
<rect x="483.1" y="416.9" width="4.0" height="4.5" rx="1.5" fill="#ffd040"/>
<rect x="490.5" y="417.3" width="3.6" height="5.2" rx="1.5" fill="#f0a820"/>
<rect x="494.6" y="414.7" width="5.2" height="10.1" rx="1.5" fill="#b04808"/>
<rect x="503.1" y="419.8" width="4.5" height="3.1" rx="1.5" fill="#f0a820"/>
<rect x="511.4" y="419.7" width="3.9" height="6.0" rx="1.5" fill="#ffd040"/>
</g>
<path d="M291.2 328.5 L515.9 335 L515.9 427.6 L291.2 427.6Z" fill="#1c0300" opacity="0.13"/>
<path d="M390 303 C394 312 398 320 402 329" fill="none" stroke="#2a3408" stroke-width="3.5" opacity="0.8" filter="url(#b1)"/>
<path d="M437 290 L440 326" stroke="#3c5a10" stroke-width="6" opacity="0.55" filter="url(#b2)"/>
<path d="M330 362 C380 366 430 362 480 352" stroke="#1a0500" stroke-width="9" opacity="0.8" filter="url(#b2)" fill="none"/>
<path d="M383.5 301 C398 294 420 291 438 297" fill="none" stroke="#ff1840" stroke-width="7.0" stroke-linecap="round" opacity="0.6" filter="url(#b15)"/><path d="M383.5 301 C398 294 420 291 438 297" fill="none" stroke="#ff3e5e" stroke-width="4.0" stroke-linecap="round" filter="url(#b06)"/><path d="M383.5 301 C398 294 420 291 438 297" fill="none" stroke="#ffb8c4" stroke-width="1.4" stroke-linecap="round" opacity="0.85" filter="url(#b06)"/>
<circle cx="451" cy="331.2" r="11.440000000000001" fill="url(#spot)"/><line x1="440.6" y1="331.2" x2="461.4" y2="331.2" stroke="#ff2040" stroke-width="1.2" opacity="0.45"/><line x1="442.0" y1="326.0" x2="460.0" y2="336.4" stroke="#ff2040" stroke-width="1.2" opacity="0.45"/><line x1="445.8" y1="322.2" x2="456.2" y2="340.2" stroke="#ff2040" stroke-width="1.2" opacity="0.45"/><line x1="451.0" y1="320.8" x2="451.0" y2="341.6" stroke="#ff2040" stroke-width="1.2" opacity="0.45"/><line x1="456.2" y1="322.2" x2="445.8" y2="340.2" stroke="#ff2040" stroke-width="1.2" opacity="0.45"/><line x1="460.0" y1="326.0" x2="442.0" y2="336.4" stroke="#ff2040" stroke-width="1.2" opacity="0.45"/><circle cx="451" cy="331.2" r="2.9" fill="#fff" filter="url(#b06)"/>
<rect x="301" y="387.5" width="18" height="3.4" rx="1.5" fill="#7ad020" filter="url(#b06)"/>
<rect x="335" y="367" width="12" height="3.4" rx="1.5" fill="#7ad020" filter="url(#b06)"/>
<rect x="485" y="360" width="2.5" height="3" rx="1.5" fill="#7ad020" filter="url(#b06)"/>
<rect x="485" y="368.5" width="2.5" height="3" rx="1.5" fill="#7ad020" filter="url(#b06)"/>
<rect x="485" y="379.5" width="2.5" height="3" rx="1.5" fill="#7ad020" filter="url(#b06)"/>
<rect x="485" y="400" width="2.5" height="3" rx="1.5" fill="#7ad020" filter="url(#b06)"/>
<rect x="486" y="340" width="30" height="74" fill="#4a1c08" opacity="0.55" filter="url(#b1)"/>
</g>
<text x="336" y="275.6" font-size="24" fill="#fff" textLength="135.5" lengthAdjust="spacingAndGlyphs"><tspan font-style="italic">Y</tspan><tspan font-size="14.4" dy="9">2</tspan><tspan dy="-9">: 5.92 kHz</tspan></text>
<g clip-path="url(#pc3)">
<rect x="549.1" y="245.5" width="225.19999999999993" height="185.3" fill="url(#pg3)"/>
<rect x="549.1" y="245.5" width="225.19999999999993" height="185.3" filter="url(#gnoise)" opacity="1"/>
<rect x="549.1" y="245.5" width="225.19999999999993" height="185.3" filter="url(#gnoise2)" opacity="0.5"/>
<path d="M549.1 333 L774.3 347 L774.3 430.8 L549.1 430.8Z" fill="#2a0802"/>
<path d="M549.1 335 L774.3 349 L774.3 430.8 L549.1 430.8Z" filter="url(#cnoise)" opacity="0.35"/>
<path d="M549.1 333 L774.3 347" stroke="#0c0200" stroke-width="6" filter="url(#b1)"/>
<path d="M549.1 335 L576.1 337 L578.4 430.8 L549.1 430.8Z" fill="#080100" opacity="0.8" filter="url(#b2)"/>
<g filter="url(#b09)">
<path d="M551 334.6 L617 337.2 L617 343.7 L551 341.1Z" fill="#f2a23c"/>
<path d="M551 334.6 L617 337.2 L617 339.3 L551 336.7Z" fill="#ffd878"/>
<path d="M551 339.3 L617 341.9 L617 343.7 L551 341.1Z" fill="#b86414"/>
<path d="M626 345.1 L700 348.0 L700 353.5 L626 350.6Z" fill="#f0843a"/>
<path d="M626 345.1 L700 348.0 L700 349.8 L626 346.8Z" fill="#ffc070"/>
<path d="M626 349.0 L700 352.0 L700 353.5 L626 350.6Z" fill="#a83810"/>
<path d="M566 351.7 L735 358.4 L735 363.9 L566 357.2Z" fill="#ee5e22"/>
<path d="M566 351.7 L735 358.4 L735 360.2 L566 353.4Z" fill="#ffae58"/>
<path d="M566 355.6 L735 362.4 L735 363.9 L566 357.2Z" fill="#8e1e06"/>
<path d="M566 359.7 L650 363.0 L650 366.5 L566 363.2Z" fill="#b8401a"/>
<path d="M566 359.7 L650 363.0 L650 364.2 L566 360.8Z" fill="#d8702c"/>
<path d="M566 362.2 L650 365.6 L650 366.5 L566 363.2Z" fill="#6a1606"/>
<path d="M690 371.6 L745 373.8 L745 378.8 L690 376.6Z" fill="#ee5e22"/>
<path d="M690 371.6 L745 373.8 L745 375.4 L690 373.2Z" fill="#ffae58"/>
<path d="M690 375.2 L745 377.4 L745 378.8 L690 376.6Z" fill="#8e1e06"/>
<path d="M560 374.4 L738 381.6 L738 386.6 L560 379.4Z" fill="#ee5e22"/>
<path d="M560 374.4 L738 381.6 L738 383.2 L560 376.0Z" fill="#ffae58"/>
<path d="M560 378.0 L738 385.2 L738 386.6 L560 379.4Z" fill="#8e1e06"/>
<path d="M560 380.9 L738 388.1 L738 392.1 L560 384.9Z" fill="#b8401a"/>
<path d="M560 380.9 L738 388.1 L738 389.3 L560 382.2Z" fill="#d8702c"/>
<path d="M560 383.8 L738 390.9 L738 392.1 L560 384.9Z" fill="#6a1606"/>
<path d="M560 384.9 L745 392.3 L745 396.3 L560 388.9Z" fill="#ee5e22"/>
<path d="M560 384.9 L745 392.3 L745 393.6 L560 386.2Z" fill="#ffae58"/>
<path d="M560 387.8 L745 395.2 L745 396.3 L560 388.9Z" fill="#8e1e06"/>
<path d="M560 388.9 L745 396.3 L745 405.8 L560 398.4Z" fill="#9a3810"/>
<rect x="590.0" y="390.6" width="6.6" height="8.0" fill="#140200"/>
<circle cx="599.0" cy="395.9" r="1.5" fill="#ffc838"/>
<rect x="606.5" y="391.3" width="6.6" height="8.0" fill="#140200"/>
<circle cx="615.5" cy="396.5" r="1.5" fill="#ffc838"/>
<rect x="623.0" y="392.0" width="6.6" height="8.0" fill="#140200"/>
<circle cx="632.0" cy="397.2" r="1.5" fill="#ffc838"/>
<rect x="639.5" y="392.6" width="6.6" height="8.0" fill="#140200"/>
<circle cx="648.5" cy="397.9" r="1.5" fill="#ffc838"/>
<rect x="656.0" y="393.3" width="6.6" height="8.0" fill="#140200"/>
<circle cx="665.0" cy="398.5" r="1.5" fill="#ffc838"/>
<rect x="672.5" y="393.9" width="6.6" height="8.0" fill="#140200"/>
<circle cx="681.5" cy="399.2" r="1.5" fill="#ffc838"/>
<rect x="689.0" y="394.6" width="6.6" height="8.0" fill="#140200"/>
<circle cx="698.0" cy="399.8" r="1.5" fill="#ffc838"/>
<rect x="705.5" y="395.3" width="6.6" height="8.0" fill="#140200"/>
<circle cx="714.5" cy="400.5" r="1.5" fill="#ffc838"/>
<rect x="722.0" y="395.9" width="6.6" height="8.0" fill="#140200"/>
<circle cx="731.0" cy="401.2" r="1.5" fill="#ffc838"/>
<rect x="738.5" y="396.6" width="6.6" height="8.0" fill="#140200"/>
<circle cx="747.5" cy="401.8" r="1.5" fill="#ffc838"/>
<path d="M556 398.3 L735 405.4 L735 409.4 L556 402.3Z" fill="#f2a23c"/>
<path d="M556 398.3 L735 405.4 L735 406.7 L556 399.6Z" fill="#ffd878"/>
<path d="M556 401.2 L735 408.3 L735 409.4 L556 402.3Z" fill="#b86414"/>
<path d="M556 402.3 L745 409.8 L745 418.3 L556 410.8Z" fill="#ee5e22"/>
<path d="M556 402.3 L745 409.8 L745 412.6 L556 405.0Z" fill="#ffae58"/>
<path d="M556 408.4 L745 416.0 L745 418.3 L556 410.8Z" fill="#8e1e06"/>
<path d="M620 413.3 L720 417.3 L720 421.8 L620 417.8Z" fill="#b8401a"/>
<path d="M620 413.3 L720 417.3 L720 418.8 L620 414.8Z" fill="#d8702c"/>
<path d="M620 416.6 L720 420.6 L720 421.8 L620 417.8Z" fill="#6a1606"/>
<rect x="590.0" y="420.0" width="3.4" height="9.0" rx="1.5" fill="#e07a14"/>
<rect x="596.2" y="419.0" width="4.8" height="10.8" rx="1.5" fill="#e07a14"/>
<rect x="602.0" y="419.9" width="4.4" height="4.5" rx="1.5" fill="#c85a0c"/>
<rect x="607.3" y="419.3" width="4.9" height="12.0" rx="1.5" fill="#e07a14"/>
<rect x="613.0" y="418.4" width="5.3" height="10.9" rx="1.5" fill="#c85a0c"/>
<rect x="621.4" y="418.9" width="5.8" height="10.0" rx="1.5" fill="#e07a14"/>
<rect x="629.4" y="420.8" width="5.1" height="7.9" rx="1.5" fill="#ffd040"/>
<rect x="638.1" y="420.4" width="4.7" height="8.7" rx="1.5" fill="#ffe070"/>
<rect x="646.2" y="421.6" width="5.9" height="9.1" rx="1.5" fill="#b04808"/>
<rect x="656.1" y="421.7" width="4.0" height="9.4" rx="1.5" fill="#ffd040"/>
<rect x="661.3" y="423.7" width="4.3" height="4.9" rx="1.5" fill="#ffe070"/>
<rect x="667.1" y="423.0" width="5.6" height="8.0" rx="1.5" fill="#ffe070"/>
<rect x="674.1" y="420.6" width="3.2" height="6.0" rx="1.5" fill="#b04808"/>
<rect x="679.9" y="425.1" width="4.1" height="2.5" rx="1.5" fill="#f0a820"/>
<rect x="685.4" y="422.6" width="4.2" height="9.1" rx="1.5" fill="#ffd040"/>
<rect x="690.7" y="423.5" width="3.9" height="10.7" rx="1.5" fill="#ffd040"/>
<rect x="695.8" y="426.6" width="5.5" height="6.1" rx="1.5" fill="#e07a14"/>
<rect x="705.0" y="425.8" width="5.0" height="4.8" rx="1.5" fill="#ffe070"/>
<rect x="710.6" y="427.9" width="5.0" height="2.9" rx="1.5" fill="#ffe070"/>
<rect x="717.2" y="428.5" width="3.5" height="4.1" rx="1.5" fill="#f0a820"/>
<rect x="724.4" y="426.4" width="3.1" height="6.6" rx="1.5" fill="#ffe070"/>
<rect x="730.4" y="424.6" width="5.9" height="10.3" rx="1.5" fill="#ffe070"/>
<rect x="736.8" y="425.6" width="6.0" height="3.7" rx="1.5" fill="#ffd040"/>
<rect x="745.3" y="424.2" width="4.9" height="11.4" rx="1.5" fill="#f0a820"/>
<rect x="750.8" y="429.6" width="3.7" height="7.2" rx="1.5" fill="#ffe070"/>
<rect x="757.8" y="431.0" width="3.3" height="4.5" rx="1.5" fill="#c85a0c"/>
<rect x="763.4" y="424.7" width="5.7" height="9.5" rx="1.5" fill="#b04808"/>
<rect x="772.4" y="425.7" width="3.3" height="6.5" rx="1.5" fill="#e07a14"/>
</g>
<path d="M549.1 336 L774.3 350 L774.3 430.8 L549.1 430.8Z" fill="#1c0300" opacity="0.13"/>
<path d="M676 322 C660 335 640 345 615 352" fill="none" stroke="#a01828" stroke-width="3" opacity="0.8" filter="url(#b06)"/>
<path d="M666 322 L668 345" stroke="#6a6a30" stroke-width="3" opacity="0.7" filter="url(#b06)"/>
<path d="M640 366 C680 372 720 368 745 352" stroke="#1a0500" stroke-width="10" opacity="0.8" filter="url(#b2)" fill="none"/>
<path d="M679.7 292.5 C675 302 674 313 676.5 322.5" fill="none" stroke="#ff1840" stroke-width="7.2" stroke-linecap="round" opacity="0.6" filter="url(#b15)"/><path d="M679.7 292.5 C675 302 674 313 676.5 322.5" fill="none" stroke="#ff3e5e" stroke-width="4.2" stroke-linecap="round" filter="url(#b06)"/><path d="M679.7 292.5 C675 302 674 313 676.5 322.5" fill="none" stroke="#ffb8c4" stroke-width="1.4" stroke-linecap="round" opacity="0.85" filter="url(#b06)"/>
<circle cx="697.4" cy="339.5" r="12.32" fill="url(#spot)"/><line x1="686.2" y1="339.5" x2="708.6" y2="339.5" stroke="#ff2040" stroke-width="1.2" opacity="0.45"/><line x1="687.7" y1="333.9" x2="707.1" y2="345.1" stroke="#ff2040" stroke-width="1.2" opacity="0.45"/><line x1="691.8" y1="329.8" x2="703.0" y2="349.2" stroke="#ff2040" stroke-width="1.2" opacity="0.45"/><line x1="697.4" y1="328.3" x2="697.4" y2="350.7" stroke="#ff2040" stroke-width="1.2" opacity="0.45"/><line x1="703.0" y1="329.8" x2="691.8" y2="349.2" stroke="#ff2040" stroke-width="1.2" opacity="0.45"/><line x1="707.1" y1="333.9" x2="687.7" y2="345.1" stroke="#ff2040" stroke-width="1.2" opacity="0.45"/><circle cx="697.4" cy="339.5" r="3.1" fill="#fff" filter="url(#b06)"/>
<rect x="745" y="350" width="30" height="81" fill="#3a1204" opacity="0.7"/>
<rect x="549" y="393" width="10" height="3.4" rx="1.5" fill="#7ad020" filter="url(#b06)"/>
<rect x="579" y="373" width="7" height="3.4" rx="1.5" fill="#7ad020" filter="url(#b06)"/>
<rect x="762" y="408" width="12" height="4" rx="1.5" fill="#7ad020" filter="url(#b06)"/>
<rect x="764" y="348" width="8" height="7" rx="2" fill="#f0c030" filter="url(#b06)"/>
</g>
<text x="593.9" y="275.6" font-size="24" fill="#fff" textLength="137" lengthAdjust="spacingAndGlyphs"><tspan font-style="italic">X</tspan><tspan font-size="14.4" dy="9">1</tspan><tspan dy="-9">: 4.93 kHz</tspan></text>
<text x="0.5" y="470" font-size="33.5" fill="#000" text-anchor="start" font-weight="bold" font-style="normal" textLength="21" lengthAdjust="spacingAndGlyphs" >b</text>
<rect x="30" y="446.3" width="384.2" height="255.3" fill="#000"/>
<rect x="213.7" y="495.3" width="66.6" height="157.3" fill="#060606"/>
<rect x="282.9" y="491.6" width="70.4" height="172.4" fill="#050505"/>
<rect x="38.8" y="698.6" width="39" height="0.8" fill="#444"/>
<rect x="60.4" y="562" width="3.4" height="21.5" rx="1.5" fill="#e8e8e8" filter="url(#b06)"/>
<path d="M122.6 572 L115.9 547.6 A7 7 0 1 1 129.3 547.6 Z" fill="url(#g1)" filter="url(#b15)"/>
<path d="M122.6 572 L114.9 600.9 A8 9.2 0 1 0 130.3 600.9 Z" fill="url(#g2)" filter="url(#b2)"/>
<ellipse cx="122.6" cy="603.8" rx="2.6" ry="4.4" fill="#a1a1a1" filter="url(#b2)" opacity="0.8"/>
<rect x="121.0" y="559.3" width="3.2" height="34.1" fill="url(#g3)" filter="url(#b06)"/>
<rect x="121" y="556" width="3.2" height="40" rx="1.5" fill="#fff" opacity="0.85" filter="url(#b1)"/>
<path d="M183.5 566 L172.9 536.9 A11.3 11.3 0 1 1 194.1 536.9 Z" fill="url(#g4)" filter="url(#b15)"/>
<path d="M183.5 566 L169.3 607.1 A15 17.2 0 1 0 197.7 607.1 Z" fill="url(#g5)" filter="url(#b3)"/>
<ellipse cx="183.5" cy="613.5" rx="4.8" ry="8.2" fill="#777777" filter="url(#b3)" opacity="0.8"/>
<rect x="181.9" y="549.2" width="3.2" height="50.4" fill="url(#g6)" filter="url(#b06)"/>
<rect x="182.2" y="558" width="2.6" height="36" rx="1.3" fill="#fff" opacity="0.7" filter="url(#b1)"/>
<path d="M248.4 566 L231.0 525.4 A18.9 18.9 0 1 1 265.8 525.4 Z" fill="url(#g7)" filter="url(#b2)"/>
<path d="M248.4 566 L228.0 615.7 A22 25.3 0 1 0 268.8 615.7 Z" fill="url(#g8)" filter="url(#b4)"/>
<ellipse cx="248.4" cy="626.2" rx="7.0" ry="12.1" fill="#626262" filter="url(#b4)" opacity="0.8"/>
<rect x="246.8" y="540.6" width="3.2" height="69.4" fill="url(#g9)" filter="url(#b06)"/>
<path d="M318.8 563 L300.0 521.5 A20.6 20.6 0 1 1 337.6 521.5 Z" fill="url(#g10)" filter="url(#b2)"/>
<path d="M318.8 563 L294.5 626.7 A26 29.9 0 1 0 343.1 626.7 Z" fill="url(#g11)" filter="url(#b4)"/>
<ellipse cx="318.8" cy="638.6" rx="8.3" ry="14.3" fill="#555555" filter="url(#b4)" opacity="0.8"/>
<rect x="317.2" y="536.2" width="3.2" height="81.3" fill="url(#g12)" filter="url(#b06)"/>
<text x="33.8" y="609.8" font-size="24" fill="#fff" text-anchor="start" font-weight="normal" font-style="normal" textLength="61.2" lengthAdjust="spacingAndGlyphs" >0.025</text>
<text x="96.7" y="636.2" font-size="24" fill="#fff" text-anchor="start" font-weight="normal" font-style="normal" textLength="46.5" lengthAdjust="spacingAndGlyphs" >0.05</text>
<text x="150" y="656.4" font-size="24" fill="#fff" text-anchor="start" font-weight="normal" font-style="normal" textLength="61.2" lengthAdjust="spacingAndGlyphs" >0.075</text>
<text x="230.8" y="670.2" font-size="24" fill="#fff" text-anchor="start" font-weight="normal" font-style="normal" textLength="30.7" lengthAdjust="spacingAndGlyphs" >0.1</text>
<text x="288.6" y="685.3" font-size="24" fill="#fff" text-anchor="start" font-weight="normal" font-style="normal" textLength="60.2" lengthAdjust="spacingAndGlyphs" >0.125</text>
<rect x="348.3" y="541.1" width="5" height="74.2" fill="#fff"/>
<text x="383.5" y="613.6" font-size="24" fill="#fff" textLength="81.8" lengthAdjust="spacingAndGlyphs" transform="rotate(-90 383.5 613.6)">100 µm</text>
<text x="436" y="464.5" font-size="34" fill="#000" text-anchor="start" font-weight="bold" font-style="normal" textLength="20.5" lengthAdjust="spacingAndGlyphs" >c</text>
<rect x="460" y="446.3" width="383.2" height="258.4" fill="#000"/>
<rect x="548" y="551.4" width="17" height="52.1" fill="#151515"/>
<rect x="604.7" y="546" width="13.9" height="67.6" fill="#131313"/>
<rect x="655" y="524.3" width="13.9" height="110.7" fill="#070707"/>
<rect x="495" y="560" width="14" height="32" fill="#060606"/>
<line x1="502.8" y1="564.5" x2="501.6" y2="586.4" stroke="#ebebeb" stroke-width="2" stroke-linecap="round" filter="url(#b06)" opacity="1"/>
<line x1="558.7" y1="557.7" x2="556.9" y2="597.2" stroke="#e1e1e1" stroke-width="1.6" stroke-linecap="round" filter="url(#b06)" opacity="1"/>
<line x1="613" y1="552" x2="610.5" y2="604.8" stroke="#ebebeb" stroke-width="2" stroke-linecap="round" filter="url(#b06)" opacity="1"/>
<ellipse cx="613" cy="553.0" rx="1.1" ry="1.7" fill="#fff" filter="url(#b06)"/>
<line x1="663.8" y1="531" x2="660.6" y2="630.4" stroke="#c8c8c8" stroke-width="2.2" stroke-linecap="round" filter="url(#b06)" opacity="1"/>
<ellipse cx="663.8" cy="532.3" rx="1.4" ry="2.1" fill="#fff" filter="url(#b06)"/>
<circle cx="660.6" cy="629.0" r="1.4" fill="#fff" filter="url(#b06)"/>
<line x1="718.7" y1="511.7" x2="713.6" y2="646.3" stroke="#d7d7d7" stroke-width="2.4" stroke-linecap="round" filter="url(#b06)" opacity="1"/>
<ellipse cx="718.7" cy="513.9" rx="2.4" ry="3.6" fill="#fff" filter="url(#b06)"/>
<circle cx="713.6" cy="644.6999999999999" r="1.6" fill="#fff" filter="url(#b06)"/>
<path d="M765.7 489 Q765.7 486.5 768 486.5 L780.5 486.5 Q782.6 486.5 782.6 489 C781.8 505 778 520 776 540 L774.4 565 L771.8 565 L770.6 540 C769.5 520 766.5 505 765.7 489Z" fill="url(#g13)" filter="url(#b1)"/>
<path d="M773.6 535 C772 580 770.4 630 769.5 667.7" stroke="url(#g14)" stroke-width="2.8" stroke-linecap="round" fill="none" filter="url(#b06)"/>
<path d="M773.3 545 C772 585 770.5 630 769.8 660" stroke="#999" stroke-width="6" stroke-linecap="round" fill="none" filter="url(#b3)" opacity="0.35"/>
<text x="466.4" y="611" font-size="24" fill="#fff" text-anchor="start" font-weight="normal" font-style="normal" textLength="60.3" lengthAdjust="spacingAndGlyphs" >0.125</text>
<text x="531" y="633.2" font-size="24" fill="#fff" text-anchor="start" font-weight="normal" font-style="normal" textLength="47.8" lengthAdjust="spacingAndGlyphs" >0.25</text>
<text x="590.9" y="650" font-size="24" fill="#fff" text-anchor="start" font-weight="normal" font-style="normal" textLength="32.7" lengthAdjust="spacingAndGlyphs" >0.5</text>
<text x="652" y="659.6" font-size="24" fill="#fff" text-anchor="start" font-weight="normal" font-style="normal" textLength="11.5" lengthAdjust="spacingAndGlyphs" >1</text>
<text x="707" y="677.2" font-size="24" fill="#fff" text-anchor="start" font-weight="normal" font-style="normal" textLength="13.4" lengthAdjust="spacingAndGlyphs" >2</text>
<text x="762.5" y="692.3" font-size="24" fill="#fff" text-anchor="start" font-weight="normal" font-style="normal" textLength="12.8" lengthAdjust="spacingAndGlyphs" >3</text>
<rect x="794.7" y="544.9" width="5.7" height="64.9" fill="#fff"/>
<text x="828.6" y="613.6" font-size="24" fill="#fff" textLength="80" lengthAdjust="spacingAndGlyphs" transform="rotate(-90 828.6 613.6)">100 µm</text>
<text x="853" y="464" font-size="34" fill="#000" text-anchor="start" font-weight="bold" font-style="normal" textLength="20.5" lengthAdjust="spacingAndGlyphs" >d</text>
<rect x="882" y="449.3" width="306.9" height="254.3" fill="#050505"/>
<rect x="891.5" y="466.4" width="258.5" height="220.1" fill="#090909"/>
<rect x="891.5" y="575" width="258.5" height="112" fill="#0b0b0b"/>
<path d="M995.9 499.9 Q1018.8 501.6 1042.5 498.9" stroke="#aaa" stroke-width="4.2" fill="none" stroke-linecap="round" filter="url(#b3w)" opacity="0.4"/>
<path d="M995.9 499.9 Q1018.8 501.6 1042.5 498.9" stroke="#c8c8c8" stroke-width="1.6" fill="none" stroke-linecap="round" filter="url(#b06)"/>
<circle cx="996.35" cy="499.9" r="0.8" fill="#fff" filter="url(#b1)"/><circle cx="1042.05" cy="498.9" r="0.8" fill="#fff" filter="url(#b1)"/>
<path d="M975.3 540.6 Q1019.1 546.3 1062.6 537.6" stroke="#aaa" stroke-width="5.7" fill="none" stroke-linecap="round" filter="url(#b3w)" opacity="0.4"/>
<path d="M975.3 540.6 Q1019.1 546.3 1062.6 537.6" stroke="#d7d7d7" stroke-width="2.2" fill="none" stroke-linecap="round" filter="url(#b06)"/>
<circle cx="976.0999999999999" cy="540.6" r="1.4" fill="#fff" filter="url(#b1)"/><circle cx="1061.8" cy="537.6" r="1.4" fill="#fff" filter="url(#b1)"/>
<path d="M943 588.4 Q1009.8 603.2 1091.5 584.7" stroke="#aaa" stroke-width="9.4" fill="none" stroke-linecap="round" filter="url(#b3w)" opacity="0.4"/>
<path d="M943 588.4 Q1009.8 603.2 1091.5 584.7" stroke="#e1e1e1" stroke-width="3.6" fill="none" stroke-linecap="round" filter="url(#b06)"/>
<circle cx="944.4" cy="588.4" r="2.4" fill="#fff" filter="url(#b1)"/><circle cx="1090.1" cy="584.7" r="2.4" fill="#fff" filter="url(#b1)"/>
<path d="M928 642.5 Q1011.5 668.0 1112.9 639.5" stroke="#aaa" stroke-width="8.8" fill="none" stroke-linecap="round" filter="url(#b3w)" opacity="0.4"/>
<path d="M928 642.5 Q1011.5 668.0 1112.9 639.5" stroke="#e1e1e1" stroke-width="3.4" fill="none" stroke-linecap="round" filter="url(#b06)"/>
<circle cx="929.2" cy="642.5" r="2.0" fill="#fff" filter="url(#b1)"/><circle cx="1111.7" cy="639.5" r="2.0" fill="#fff" filter="url(#b1)"/>
<text x="1055" y="506.7" font-size="24" fill="#fff" text-anchor="start" font-weight="normal" font-style="normal" textLength="11" lengthAdjust="spacingAndGlyphs" >1</text>
<text x="1076" y="546.2" font-size="24" fill="#fff" text-anchor="start" font-weight="normal" font-style="normal" textLength="13" lengthAdjust="spacingAndGlyphs" >2</text>
<text x="1111.6" y="593" font-size="24" fill="#fff" text-anchor="start" font-weight="normal" font-style="normal" textLength="13.1" lengthAdjust="spacingAndGlyphs" >6</text>
<text x="1123" y="646.3" font-size="24" fill="#fff" text-anchor="start" font-weight="normal" font-style="normal" textLength="25.1" lengthAdjust="spacingAndGlyphs" >10</text>
<rect x="935.5" y="683.5" width="96.1" height="6.8" fill="#fff"/>
<text x="1043.2" y="693.6" font-size="24" fill="#fff" text-anchor="start" font-weight="normal" font-style="normal" textLength="81" lengthAdjust="spacingAndGlyphs" >100 µm</text>
<text x="0" y="749" font-size="34" fill="#000" text-anchor="start" font-weight="bold" font-style="normal" textLength="20" lengthAdjust="spacingAndGlyphs" >e</text>
<rect x="30" y="727.7" width="286" height="263.5" fill="#000"/>
<rect x="51.8" y="731" width="196.5" height="247" fill="#080808"/>
<path d="M83.7 857 L77.4 837.9 A6.6 6.6 0 1 1 90.0 837.9 Z" fill="url(#g15)" filter="url(#b2)"/>
<path d="M83.7 857 L77.3 871.1 A7 8.0 0 1 0 90.1 871.1 Z" fill="url(#g16)" filter="url(#b2)"/>
<ellipse cx="83.7" cy="874.7" rx="2.5" ry="3.9" fill="#909090" filter="url(#b2)" opacity="0.8"/>
<rect x="82.10000000000001" y="848.5" width="3.2" height="19.0" fill="url(#g17)" filter="url(#b06)"/>
<path d="M148.7 859.8 L136.5 819.7 A12.7 12.7 0 1 1 160.9 819.7 Z" fill="url(#g18)" filter="url(#b3)"/>
<path d="M148.7 859.8 L136.3 883.5 A14 16.1 0 1 0 161.1 883.5 Z" fill="url(#g19)" filter="url(#b3)"/>
<ellipse cx="148.7" cy="891.4" rx="4.5" ry="7.7" fill="#585858" filter="url(#b3)" opacity="0.8"/>
<rect x="147.1" y="848.0" width="3.2" height="25.2" fill="url(#g20)" filter="url(#b06)"/>
<path d="M213.8 855.8 L192.8 794 Q192.8 791 196.8 791 L230.8 791 Q234.8 791 234.8 794 Z" fill="url(#g21)" filter="url(#b3)"/>
<path d="M213.8 855.8 L194.6 899.6 A21 24.1 0 1 0 233.0 899.6 Z" fill="url(#g22)" filter="url(#b4)"/>
<ellipse cx="213.8" cy="910.1" rx="6.7" ry="11.6" fill="#4a4a4a" filter="url(#b4)" opacity="0.8"/>
<rect x="212.20000000000002" y="843.5" width="3.2" height="32.4" fill="url(#g23)" filter="url(#b06)"/>
<text x="65" y="914.7" font-size="24" fill="#fff" text-anchor="start" font-weight="normal" font-style="normal" textLength="26.6" lengthAdjust="spacingAndGlyphs" >10</text>
<text x="136" y="938.6" font-size="24" fill="#fff" text-anchor="start" font-weight="normal" font-style="normal" textLength="26.5" lengthAdjust="spacingAndGlyphs" >20</text>
<text x="200.5" y="962" font-size="24" fill="#fff" text-anchor="start" font-weight="normal" font-style="normal" textLength="27.1" lengthAdjust="spacingAndGlyphs" >30</text>
<rect x="256.3" y="810" width="6.7" height="95" fill="#fff"/>
<text x="293.5" y="892.4" font-size="24" fill="#fff" textLength="69" lengthAdjust="spacingAndGlyphs" transform="rotate(-90 293.5 892.4)">75 µm</text>
<text x="341" y="748.2" font-size="34" fill="#000" text-anchor="start" font-weight="bold" font-style="normal" textLength="12.5" lengthAdjust="spacingAndGlyphs" >f</text>
<rect x="362" y="732.3" width="290" height="258.9" fill="#000"/>
<rect x="645.4" y="731.5" width="31.9" height="259.7" fill="#040404"/>
<line x1="397.6" y1="836.6" x2="395.8" y2="890.3" stroke="#999" stroke-width="6.760000000000001" stroke-linecap="round" filter="url(#b3)" opacity="0.5"/>
<line x1="397.6" y1="836.6" x2="395.8" y2="890.3" stroke="#d8d8d8" stroke-width="2.6" stroke-linecap="round" filter="url(#b1)"/>
<circle cx="397.6" cy="838.6" r="2.4699999999999998" fill="#fff" filter="url(#b1)"/><circle cx="395.8" cy="888.8" r="1.9500000000000002" fill="#fff" filter="url(#b1)"/>
<line x1="466.2" y1="812.7" x2="463.8" y2="912.9" stroke="#999" stroke-width="7.279999999999999" stroke-linecap="round" filter="url(#b3)" opacity="0.5"/>
<line x1="466.2" y1="812.7" x2="463.8" y2="912.9" stroke="#d8d8d8" stroke-width="2.8" stroke-linecap="round" filter="url(#b1)"/>
<circle cx="466.2" cy="814.7" r="2.6599999999999997" fill="#fff" filter="url(#b1)"/><circle cx="463.8" cy="911.4" r="2.0999999999999996" fill="#fff" filter="url(#b1)"/>
<line x1="538.7" y1="796" x2="535.2" y2="930.7" stroke="#999" stroke-width="7.800000000000001" stroke-linecap="round" filter="url(#b3)" opacity="0.5"/>
<line x1="538.7" y1="796" x2="535.2" y2="930.7" stroke="#d8d8d8" stroke-width="3" stroke-linecap="round" filter="url(#b1)"/>
<circle cx="538.7" cy="798" r="2.8499999999999996" fill="#fff" filter="url(#b1)"/><circle cx="535.2" cy="929.2" r="2.25" fill="#fff" filter="url(#b1)"/>
<line x1="610.9" y1="787.2" x2="607.7" y2="942" stroke="#999" stroke-width="7.800000000000001" stroke-linecap="round" filter="url(#b3)" opacity="0.5"/>
<line x1="610.9" y1="787.2" x2="607.7" y2="942" stroke="#d8d8d8" stroke-width="3" stroke-linecap="round" filter="url(#b1)"/>
<circle cx="610.9" cy="789.2" r="2.8499999999999996" fill="#fff" filter="url(#b1)"/><circle cx="607.7" cy="940.5" r="2.25" fill="#fff" filter="url(#b1)"/>
<text x="383" y="922.2" font-size="24" fill="#fff" text-anchor="start" font-weight="normal" font-style="normal" textLength="27.4" lengthAdjust="spacingAndGlyphs" >20</text>
<text x="450.2" y="943.4" font-size="24" fill="#fff" text-anchor="start" font-weight="normal" font-style="normal" textLength="27.4" lengthAdjust="spacingAndGlyphs" >40</text>
<text x="522.5" y="962.5" font-size="24" fill="#fff" text-anchor="start" font-weight="normal" font-style="normal" textLength="26.8" lengthAdjust="spacingAndGlyphs" >60</text>
<text x="595.8" y="975.8" font-size="24" fill="#fff" text-anchor="start" font-weight="normal" font-style="normal" textLength="26.2" lengthAdjust="spacingAndGlyphs" >80</text>
<rect x="629" y="827.9" width="5.8" height="77.5" fill="#fff"/>
<text x="660" y="897.7" font-size="24" fill="#fff" textLength="68.5" lengthAdjust="spacingAndGlyphs" transform="rotate(-90 660 897.7)">30 µm</text>
<text x="721" y="748.6" font-size="34" fill="#000" text-anchor="start" font-weight="bold" font-style="normal" textLength="19.5" lengthAdjust="spacingAndGlyphs" >g</text>
<rect x="750" y="729" width="386" height="258.6" fill="#000"/>
<rect x="1130.5" y="727.9" width="59.5" height="258.9" fill="#030303"/>
<path d="M775.85 802.45 Q775.85 796.7 781.6 796.7 Q787.35 796.7 787.35 802.45 C787.35 822.0 785.85 838.2 785.85 858.2 C785.85 878.2 789.6 884.5 789.6 911.7 Q789.6 919.7 781.6 919.7 Q773.6 919.7 773.6 911.7 C773.6 884.5 777.35 878.2 777.35 858.2 C777.35 838.2 775.85 822.0 775.85 802.45Z" fill="#1008a0" stroke="#1008a0" stroke-width="4" filter="url(#b4)" opacity="0.75"/>
<path d="M775.85 802.45 Q775.85 796.7 781.6 796.7 Q787.35 796.7 787.35 802.45 C787.35 822.0 785.85 838.2 785.85 858.2 C785.85 878.2 789.6 884.5 789.6 911.7 Q789.6 919.7 781.6 919.7 Q773.6 919.7 773.6 911.7 C773.6 884.5 777.35 878.2 777.35 858.2 C777.35 838.2 775.85 822.0 775.85 802.45Z" fill="#1a12f0" filter="url(#b1)"/>
<rect x="779.7" y="799.7" width="3.8" height="117.0" rx="1" fill="#2a22ff" filter="url(#b1)"/>
<path d="M836.85 806.05 Q836.85 802.3 840.6 802.3 Q844.35 802.3 844.35 806.05 C844.35 818.8 842.6 838.9 842.6 858.9 C842.6 878.9 844.35 899.0 844.35 911.75 Q844.35 915.5 840.6 915.5 Q836.85 915.5 836.85 911.75 C836.85 899.0 838.6 878.9 838.6 858.9 C838.6 838.9 836.85 818.8 836.85 806.05Z" fill="#0a6060" stroke="#0a6060" stroke-width="3.0" filter="url(#b4)" opacity="0.75"/>
<path d="M836.85 806.05 Q836.85 802.3 840.6 802.3 Q844.35 802.3 844.35 806.05 C844.35 818.8 842.6 838.9 842.6 858.9 C842.6 878.9 844.35 899.0 844.35 911.75 Q844.35 915.5 840.6 915.5 Q836.85 915.5 836.85 911.75 C836.85 899.0 838.6 878.9 838.6 858.9 C838.6 838.9 836.85 818.8 836.85 806.05Z" fill="#18c8c8" filter="url(#b1)"/>
<rect x="839.7" y="805.3" width="1.8" height="107.2" rx="1" fill="#50e8e8" filter="url(#b1)"/>
<path d="M895.3 807.0 Q895.3 803 899.3 803 Q903.3 803 903.3 807.0 C903.3 820.6 901.3 839.95 901.3 859.95 C901.3 879.95 903.3 899.3 903.3 912.9 Q903.3 916.9 899.3 916.9 Q895.3 916.9 895.3 912.9 C895.3 899.3 897.3 879.95 897.3 859.95 C897.3 839.95 895.3 820.6 895.3 807.0Z" fill="#086018" stroke="#086018" stroke-width="3.0" filter="url(#b4)" opacity="0.75"/>
<path d="M895.3 807.0 Q895.3 803 899.3 803 Q903.3 803 903.3 807.0 C903.3 820.6 901.3 839.95 901.3 859.95 C901.3 879.95 903.3 899.3 903.3 912.9 Q903.3 916.9 899.3 916.9 Q895.3 916.9 895.3 912.9 C895.3 899.3 897.3 879.95 897.3 859.95 C897.3 839.95 895.3 820.6 895.3 807.0Z" fill="#18d830" filter="url(#b1)"/>
<rect x="898.4" y="806" width="1.8" height="107.9" rx="1" fill="#50f060" filter="url(#b1)"/>
<path d="M952.7 810.9 Q952.7 806.4 957.2 806.4 Q961.7 806.4 961.7 810.9 C961.7 826.1999999999999 959.7 843.3 959.7 863.3 C959.7 883.3 961.7 900.4000000000001 961.7 915.7 Q961.7 920.2 957.2 920.2 Q952.7 920.2 952.7 915.7 C952.7 900.4000000000001 954.7 883.3 954.7 863.3 C954.7 843.3 952.7 826.1999999999999 952.7 810.9Z" fill="#701808" stroke="#701808" stroke-width="3.0" filter="url(#b4)" opacity="0.75"/>
<path d="M952.7 810.9 Q952.7 806.4 957.2 806.4 Q961.7 806.4 961.7 810.9 C961.7 826.1999999999999 959.7 843.3 959.7 863.3 C959.7 883.3 961.7 900.4000000000001 961.7 915.7 Q961.7 920.2 957.2 920.2 Q952.7 920.2 952.7 915.7 C952.7 900.4000000000001 954.7 883.3 954.7 863.3 C954.7 843.3 952.7 826.1999999999999 952.7 810.9Z" fill="#f03a10" filter="url(#b1)"/>
<rect x="956.1" y="809.4" width="2.2" height="107.8" rx="1" fill="#ff6a30" filter="url(#b1)"/>
<path d="M1018.4 811.8 Q1018.4 807.3 1022.9 807.3 Q1027.4 807.3 1027.4 811.8 C1027.4 827.0999999999999 1025.4 843.75 1025.4 863.75 C1025.4 883.75 1027.4 900.4000000000001 1027.4 915.7 Q1027.4 920.2 1022.9 920.2 Q1018.4 920.2 1018.4 915.7 C1018.4 900.4000000000001 1020.4 883.75 1020.4 863.75 C1020.4 843.75 1018.4 827.0999999999999 1018.4 811.8Z" fill="#700808" stroke="#700808" stroke-width="3.0" filter="url(#b4)" opacity="0.75"/>
<path d="M1018.4 811.8 Q1018.4 807.3 1022.9 807.3 Q1027.4 807.3 1027.4 811.8 C1027.4 827.0999999999999 1025.4 843.75 1025.4 863.75 C1025.4 883.75 1027.4 900.4000000000001 1027.4 915.7 Q1027.4 920.2 1022.9 920.2 Q1018.4 920.2 1018.4 915.7 C1018.4 900.4000000000001 1020.4 883.75 1020.4 863.75 C1020.4 843.75 1018.4 827.0999999999999 1018.4 811.8Z" fill="#e81010" filter="url(#b1)"/>
<rect x="1021.8" y="810.3" width="2.2" height="106.9" rx="1" fill="#ff2a2a" filter="url(#b1)"/>
<ellipse cx="1091.4" cy="863" rx="22" ry="66" fill="#7a3000" filter="url(#b8)" opacity="0.55"/>
<path d="M1085.9 811.9 Q1085.9 806.4 1091.4 806.4 Q1096.9 806.4 1096.9 811.9 C1096.9 830.6 1095.4 843.05 1095.4 863.05 C1095.4 883.05 1097.9 891.1 1097.9 913.2 Q1097.9 919.7 1091.4 919.7 Q1084.9 919.7 1084.9 913.2 C1084.9 891.1 1087.4 883.05 1087.4 863.05 C1087.4 843.05 1085.9 830.6 1085.9 811.9Z" fill="#c05000" stroke="#c05000" stroke-width="6" filter="url(#b4)" opacity="0.75"/>
<path d="M1085.9 811.9 Q1085.9 806.4 1091.4 806.4 Q1096.9 806.4 1096.9 811.9 C1096.9 830.6 1095.4 843.05 1095.4 863.05 C1095.4 883.05 1097.9 891.1 1097.9 913.2 Q1097.9 919.7 1091.4 919.7 Q1084.9 919.7 1084.9 913.2 C1084.9 891.1 1087.4 883.05 1087.4 863.05 C1087.4 843.05 1085.9 830.6 1085.9 811.9Z" fill="#ff9a10" filter="url(#b1)"/>
<rect x="1089.6" y="809.4" width="3.6" height="107.3" rx="1" fill="#fff4b0" filter="url(#b1)"/>
<rect x="1089" y="810" width="4.8" height="106" rx="2" fill="#fffad8" filter="url(#b1)"/>
<path d="M766.3 925.8 C766.3 937 772.3 940 778.3 940 L889.3 940 C896.5 940 901.3 944 901.3 955.5 C901.3 944 906.0999999999999 940 913.3 940 L1024.3 940 C1030.3 940 1036.3 937 1036.3 925.8" fill="none" stroke="#fff" stroke-width="2.2"/>
<path d="M1069 925.8 C1069 933.4 1074.04 936.4 1079.08 936.4 L1081.3200000000002 936.4 C1087.3680000000002 936.4 1091.4 940.4 1091.4 946.2 C1091.4 940.4 1095.432 936.4 1101.48 936.4 L1104.2199999999998 936.4 C1109.26 936.4 1114.3 933.4 1114.3 925.8" fill="none" stroke="#fff" stroke-width="2.2"/>
<text x="820.2" y="980.6" font-size="24" fill="#fff" text-anchor="start" font-weight="normal" font-style="normal" textLength="161.6" lengthAdjust="spacingAndGlyphs" >450 to 650 nm</text>
<text x="1027.6" y="979" font-size="24" fill="#fff" text-anchor="start" font-weight="normal" font-style="normal" textLength="135.9" lengthAdjust="spacingAndGlyphs" >450–750 nm</text>
<rect x="1132.8" y="821" width="5.2" height="89.4" fill="#fff"/>
<text x="1150" y="828.8" font-size="24" fill="#fff" textLength="67.9" lengthAdjust="spacingAndGlyphs" transform="rotate(90 1150 828.8)">30 µm</text>
<text x="1232" y="23.5" font-size="34" fill="#000" text-anchor="start" font-weight="bold" font-style="normal" textLength="19" lengthAdjust="spacingAndGlyphs" >h</text>
<path d="M1358.3 31.3 L1358.3 227 L2161.5 227" fill="none" stroke="#333" stroke-width="1.6"/>
<line x1="1358.3" y1="53" x2="1366.3" y2="53" stroke="#333" stroke-width="1.4"/>
<text x="1344.5" y="60.8" font-size="24.6" fill="#000" text-anchor="end" font-weight="normal" font-style="normal" >10</text>
<line x1="1358.3" y1="96.6" x2="1366.3" y2="96.6" stroke="#333" stroke-width="1.4"/>
<text x="1344.5" y="104.39999999999999" font-size="24.6" fill="#000" text-anchor="end" font-weight="normal" font-style="normal" >0</text>
<line x1="1358.3" y1="140.2" x2="1366.3" y2="140.2" stroke="#333" stroke-width="1.4"/>
<text x="1344.5" y="148.0" font-size="24.6" fill="#000" text-anchor="end" font-weight="normal" font-style="normal" >−10</text>
<line x1="1358.3" y1="183.8" x2="1366.3" y2="183.8" stroke="#333" stroke-width="1.4"/>
<text x="1344.5" y="191.60000000000002" font-size="24.6" fill="#000" text-anchor="end" font-weight="normal" font-style="normal" >−20</text>
<line x1="1391.4" y1="227" x2="1391.4" y2="222.5" stroke="#333" stroke-width="1.4"/>
<line x1="1438.5" y1="227" x2="1438.5" y2="222.5" stroke="#333" stroke-width="1.4"/>
<line x1="1471.9" y1="227" x2="1471.9" y2="222.5" stroke="#333" stroke-width="1.4"/>
<line x1="1497.8" y1="227" x2="1497.8" y2="222.5" stroke="#333" stroke-width="1.4"/>
<line x1="1519.0" y1="227" x2="1519.0" y2="222.5" stroke="#333" stroke-width="1.4"/>
<line x1="1536.9" y1="227" x2="1536.9" y2="222.5" stroke="#333" stroke-width="1.4"/>
<line x1="1552.4" y1="227" x2="1552.4" y2="222.5" stroke="#333" stroke-width="1.4"/>
<line x1="1566.1" y1="227" x2="1566.1" y2="222.5" stroke="#333" stroke-width="1.4"/>
<line x1="1578.3" y1="227" x2="1578.3" y2="218" stroke="#333" stroke-width="1.4"/>
<line x1="1658.8" y1="227" x2="1658.8" y2="222.5" stroke="#333" stroke-width="1.4"/>
<line x1="1705.9" y1="227" x2="1705.9" y2="222.5" stroke="#333" stroke-width="1.4"/>
<line x1="1739.3" y1="227" x2="1739.3" y2="222.5" stroke="#333" stroke-width="1.4"/>
<line x1="1765.2" y1="227" x2="1765.2" y2="222.5" stroke="#333" stroke-width="1.4"/>
<line x1="1786.4" y1="227" x2="1786.4" y2="222.5" stroke="#333" stroke-width="1.4"/>
<line x1="1804.3" y1="227" x2="1804.3" y2="222.5" stroke="#333" stroke-width="1.4"/>
<line x1="1819.8" y1="227" x2="1819.8" y2="222.5" stroke="#333" stroke-width="1.4"/>
<line x1="1833.5" y1="227" x2="1833.5" y2="222.5" stroke="#333" stroke-width="1.4"/>
<line x1="1845.7" y1="227" x2="1845.7" y2="218" stroke="#333" stroke-width="1.4"/>
<line x1="1926.2" y1="227" x2="1926.2" y2="222.5" stroke="#333" stroke-width="1.4"/>
<line x1="1973.3" y1="227" x2="1973.3" y2="222.5" stroke="#333" stroke-width="1.4"/>
<line x1="2006.7" y1="227" x2="2006.7" y2="222.5" stroke="#333" stroke-width="1.4"/>
<line x1="2032.6" y1="227" x2="2032.6" y2="222.5" stroke="#333" stroke-width="1.4"/>
<line x1="2053.8" y1="227" x2="2053.8" y2="222.5" stroke="#333" stroke-width="1.4"/>
<line x1="2071.7" y1="227" x2="2071.7" y2="222.5" stroke="#333" stroke-width="1.4"/>
<line x1="2087.2" y1="227" x2="2087.2" y2="222.5" stroke="#333" stroke-width="1.4"/>
<line x1="2100.9" y1="227" x2="2100.9" y2="222.5" stroke="#333" stroke-width="1.4"/>
<line x1="2113.1" y1="227" x2="2113.1" y2="218" stroke="#333" stroke-width="1.4"/>
<text x="1251.9" y="128.5" font-size="24.6" text-anchor="middle" textLength="151.4" lengthAdjust="spacingAndGlyphs" transform="rotate(-90 1251.9 128.5)">Enhancement</text>
<text x="1282" y="128.5" font-size="24.6" text-anchor="middle" textLength="43" lengthAdjust="spacingAndGlyphs" transform="rotate(-90 1282 128.5)">(dB)</text>
<path d="M1358.9 97.5L1359.6 97.6L1360.4 97.7L1361.1 97.8L1361.9 97.9L1362.6 98.0L1363.4 98.1L1364.1 98.2L1364.8 98.2L1365.6 98.3L1366.3 98.4L1367.1 98.5L1367.8 98.6L1368.6 98.7L1369.3 98.8L1370.1 98.9L1370.8 99.0L1371.5 98.8L1372.2 98.6L1372.9 98.4L1373.6 98.2L1374.4 98.0L1375.1 97.8L1375.8 97.6L1376.5 97.4L1377.2 97.1L1377.9 96.9L1378.6 96.7L1379.3 96.5L1380.1 96.3L1380.8 96.1L1381.5 95.9L1382.2 95.7L1382.9 95.5L1383.6 95.3L1384.3 95.1L1385.0 94.9L1385.8 94.7L1386.5 94.5L1387.2 94.3L1387.9 94.1L1388.6 93.8L1389.3 93.6L1390.0 93.4L1390.7 93.2L1391.5 93.0L1392.2 92.8L1392.9 92.6L1393.6 92.4L1394.3 92.2L1395.0 92.5L1395.8 92.9L1396.5 93.2L1397.2 93.6L1398.0 94.0L1398.7 94.3L1399.4 94.7L1400.2 95.0L1400.9 95.3L1401.7 95.7L1402.4 96.0L1403.1 96.4L1403.9 96.8L1404.6 97.1L1405.3 97.0L1406.0 96.9L1406.8 96.8L1407.5 96.7L1408.2 96.6L1408.9 96.5L1409.7 96.5L1410.4 96.4L1411.1 96.3L1411.8 96.2L1412.6 96.1L1413.3 96.0L1414.0 95.9L1414.8 95.8L1415.5 95.7L1416.2 95.6L1416.9 95.5L1417.7 95.5L1418.4 95.4L1419.1 95.3L1419.8 95.2L1420.5 95.1L1421.3 95.0L1422.0 94.9L1422.7 95.1L1423.5 95.3L1424.2 95.5L1424.9 95.6L1425.6 95.8L1426.4 96.0L1427.1 96.2L1427.8 96.4L1428.5 96.6L1429.3 96.8L1430.0 97.0L1430.7 97.1L1431.5 97.3L1432.2 97.5L1432.9 97.7L1433.6 97.9L1434.4 98.1L1435.1 98.3L1435.8 98.4L1436.5 98.6L1437.3 98.8L1438.0 99.0L1438.7 98.7L1439.4 98.5L1440.1 98.2L1440.8 97.9L1441.5 97.7L1442.2 97.4L1442.9 97.1L1443.6 96.9L1444.3 96.6L1445.1 96.3L1445.8 96.1L1446.5 95.8L1447.2 95.5L1447.9 95.3L1448.6 95.0L1449.3 94.7L1450.0 94.5L1450.7 94.2L1451.4 94.6L1452.2 94.9L1452.9 95.3L1453.6 95.7L1454.4 96.0L1455.1 96.4L1455.8 96.8L1456.6 97.1L1457.3 97.5L1458.0 97.2L1458.7 96.9L1459.4 96.6L1460.2 96.2L1460.9 95.9L1461.6 95.6L1462.3 95.3L1463.0 95.0L1463.7 95.1L1464.5 95.3L1465.2 95.4L1466.0 95.5L1466.7 95.6L1467.5 95.8L1468.2 95.9L1469.0 95.6L1469.7 95.4L1470.5 95.1L1471.2 94.8L1472.0 94.6L1472.8 94.3L1473.5 94.1L1474.3 93.8L1475.0 94.0L1475.7 94.1L1476.5 94.3L1477.2 94.5L1477.9 94.7L1478.6 94.8L1479.3 95.0L1480.1 95.2L1480.8 95.3L1481.5 95.5L1482.2 95.2L1482.9 94.8L1483.7 94.5L1484.4 94.2L1485.1 93.8L1485.8 93.5L1486.5 93.2L1487.3 92.9L1488.0 92.5L1488.7 92.2L1489.4 92.5L1490.1 92.8L1490.9 93.0L1491.6 93.3L1492.3 93.6L1493.0 93.9L1493.7 94.2L1494.5 94.4L1495.2 94.7L1495.9 95.0L1496.7 94.7L1497.4 94.4L1498.2 94.1L1498.9 93.8L1499.7 93.5L1500.5 93.2L1501.2 92.9L1502.0 92.6L1502.7 92.3L1503.5 92.0L1504.2 91.7L1505.0 91.4L1505.7 91.6L1506.5 91.8L1507.2 92.0L1508.0 92.2L1508.7 92.4L1509.5 92.6L1510.2 92.8L1510.9 93.0L1511.7 93.2L1512.4 93.4L1513.2 93.6L1513.9 93.8L1514.7 93.3L1515.5 92.8L1516.4 92.2L1517.2 91.7L1518.0 91.2L1518.8 91.5L1519.5 91.8L1520.3 92.0L1521.1 92.3L1521.9 92.6L1522.7 92.9L1523.4 93.1L1524.2 93.4L1525.0 93.0L1525.7 92.7L1526.5 92.3L1527.2 91.9L1528.0 91.6L1528.8 91.2L1529.5 90.8L1530.3 90.4L1531.0 90.1L1531.8 89.7L1532.6 89.9L1533.3 90.0L1534.1 90.2L1534.8 90.3L1535.6 90.5L1536.4 90.7L1537.1 90.8L1537.9 91.0L1538.6 90.8L1539.3 90.7L1540.0 90.5L1540.7 90.3L1541.5 90.2L1542.2 90.0L1542.9 89.8L1543.6 89.6L1544.3 89.5L1545.0 89.3L1545.7 89.0L1546.4 88.7L1547.1 88.4L1547.9 88.2L1548.6 87.9L1549.3 87.6L1550.0 87.3L1550.7 87.0L1551.4 86.7L1552.2 86.5L1552.9 86.2L1553.6 85.9L1554.3 85.6L1555.1 85.7L1555.8 85.9L1556.6 86.0L1557.4 86.2L1558.2 86.3L1559.0 86.4L1559.7 86.6L1560.5 86.7L1561.3 86.4L1562.0 86.0L1562.8 85.7L1563.5 85.3L1564.3 85.0L1565.1 84.7L1565.8 84.3L1566.6 84.0L1567.3 83.4L1568.1 82.7L1568.8 82.1L1569.5 81.4L1570.2 80.8L1571.0 80.1L1571.7 79.5L1572.4 78.4L1573.1 77.2L1573.9 76.1L1574.6 75.0L1575.3 73.8L1576.0 72.7L1576.7 71.6L1577.5 70.5L1578.2 69.3L1578.9 68.2L1579.7 67.7L1580.4 67.2L1581.2 66.6L1582.0 66.1L1582.7 65.6L1583.5 65.0L1584.2 64.5L1585.0 64.0L1585.8 63.2L1586.5 62.5L1587.3 61.7L1588.1 61.0L1588.9 60.2L1589.7 59.4L1590.4 58.7L1591.2 57.9L1592.0 56.9L1592.8 56.0L1593.7 55.0L1594.5 54.0L1595.5 53.4L1596.4 52.8L1597.3 53.0L1598.2 53.3L1599.1 54.4L1599.9 55.5L1600.6 56.9L1601.4 58.3L1602.1 59.7L1602.9 61.1L1603.6 62.6L1604.4 64.0L1605.1 65.4L1605.9 66.8L1606.6 68.2L1607.3 69.4L1608.1 70.6L1608.8 71.8L1609.6 73.0L1610.3 74.2L1611.1 75.5L1611.8 76.7L1612.6 77.9L1613.3 79.1L1614.1 80.3L1614.8 81.5L1615.5 82.2L1616.3 83.0L1617.0 83.7L1617.8 84.5L1618.5 85.2L1619.3 86.0L1620.0 86.7L1620.8 87.5L1621.5 88.2L1622.3 89.0L1623.0 89.7L1623.7 90.3L1624.4 90.9L1625.2 91.5L1625.9 92.1L1626.6 92.7L1627.3 93.3L1628.1 93.9L1628.8 94.5L1629.5 95.2L1630.2 95.8L1631.0 96.4L1631.7 97.0L1632.4 97.6L1633.1 98.2L1633.9 98.8L1634.6 99.4L1635.3 100.0L1636.0 100.7L1636.8 101.3L1637.5 102.0L1638.3 102.6L1639.0 103.3L1639.8 103.9L1640.5 104.6L1641.3 105.2L1642.0 105.9L1642.8 106.5L1643.5 107.2L1644.2 107.6L1644.9 108.1L1645.6 108.5L1646.4 109.0L1647.1 109.4L1647.8 109.9L1648.5 110.3L1649.2 110.7L1649.9 111.2L1650.6 111.6L1651.3 112.1L1652.1 112.5L1652.8 113.0L1653.5 113.4L1654.2 113.9L1654.9 114.3L1655.6 114.7L1656.3 115.2L1657.0 115.6L1657.8 116.1L1658.5 116.5L1659.2 117.0L1659.9 117.4L1660.6 117.9L1661.3 118.5L1662.1 119.0L1662.8 119.6L1663.5 120.1L1664.2 120.6L1665.0 121.2L1665.7 121.7L1666.4 122.3L1667.1 122.8L1667.9 123.4L1668.6 123.9L1669.3 124.4L1670.0 125.0L1670.8 125.5L1671.5 126.1L1672.2 126.6L1672.9 127.2L1673.6 127.8L1674.4 128.4L1675.1 129.0L1675.8 129.6L1676.5 130.2L1677.3 130.8L1678.0 131.4L1678.7 132.1L1679.4 132.7L1680.2 133.3L1680.9 133.9L1681.6 134.5L1682.3 135.1L1683.1 135.7L1683.8 136.3L1684.5 136.9L1685.2 137.8L1686.0 138.8L1686.7 139.7L1687.5 140.6L1688.2 141.6L1689.0 142.5L1689.7 143.5L1690.5 144.4L1691.2 145.3L1692.0 146.3L1692.7 147.2L1693.4 148.6L1694.1 150.1L1694.9 151.5L1695.6 152.9L1696.3 154.3L1697.0 155.8L1697.7 157.2L1698.5 158.6L1699.2 160.1L1699.9 161.5L1700.7 165.2L1701.5 168.9L1702.4 172.6L1703.2 176.3L1704.0 180.0L1705.0 190.2L1706.1 200.5L1707.1 213.8L1708.1 200.5L1709.0 192.3L1709.9 184.1L1710.8 175.9L1711.5 173.5L1712.3 171.1L1713.0 168.7L1713.8 166.3L1714.5 163.9L1715.3 161.5L1716.1 160.2L1716.8 158.9L1717.6 157.7L1718.4 156.4L1719.2 155.1L1720.0 153.9L1720.7 152.6L1721.5 151.3L1722.2 150.5L1723.0 149.8L1723.7 149.0L1724.5 148.3L1725.2 147.5L1726.0 146.8L1726.7 146.0L1727.5 145.3L1728.2 144.5L1729.0 143.8L1729.7 143.0L1730.4 142.5L1731.1 142.0L1731.9 141.6L1732.6 141.1L1733.3 140.6L1734.0 140.1L1734.8 139.6L1735.5 139.1L1736.2 138.7L1736.9 138.2L1737.7 137.7L1738.4 137.2L1739.1 136.7L1739.8 136.2L1740.6 135.8L1741.3 135.3L1742.0 134.8L1742.8 134.1L1743.5 133.5L1744.2 132.8L1745.0 132.2L1745.8 131.5L1746.5 130.8L1747.2 130.2L1748.0 129.5L1748.8 128.9L1749.5 128.4L1750.3 127.8L1751.0 127.3L1751.8 126.7L1752.5 126.2L1753.3 125.6L1754.2 124.1L1755.1 122.5L1756.0 121.0L1756.8 119.1L1757.7 117.2L1758.6 115.2L1759.4 113.3L1760.2 113.5L1761.0 113.7L1761.9 113.9L1762.7 114.1L1763.5 114.3L1764.2 113.6L1765.0 112.9L1765.8 112.2L1766.5 111.4L1767.2 110.7L1768.0 110.0L1768.7 109.3L1769.5 108.5L1770.2 107.8L1770.9 107.0L1771.6 106.3L1772.3 105.6L1773.1 104.8L1773.8 104.1L1774.6 102.1L1775.4 100.0L1776.2 98.0L1777.0 96.0L1777.9 93.3L1778.7 90.7L1779.6 88.0L1780.6 85.6L1781.6 83.2L1782.5 85.6L1783.4 88.0L1784.5 91.5L1785.5 95.0L1786.2 96.8L1786.9 98.6L1787.7 100.5L1788.4 102.3L1789.1 104.1L1789.8 105.5L1790.5 107.0L1791.3 108.4L1792.0 109.8L1792.7 111.2L1793.4 112.7L1794.1 114.1L1794.9 115.5L1795.6 117.0L1796.3 118.4L1797.0 119.4L1797.8 120.4L1798.5 121.4L1799.3 122.4L1800.0 123.5L1800.8 124.5L1801.5 125.5L1802.3 126.5L1803.0 127.5L1803.7 128.4L1804.5 129.3L1805.2 130.2L1806.0 131.0L1806.7 131.9L1807.5 132.8L1808.2 133.7L1809.0 134.6L1809.7 135.5L1810.5 136.3L1811.2 137.2L1812.0 138.1L1812.7 139.0L1813.4 139.8L1814.1 140.7L1814.9 141.5L1815.6 142.4L1816.3 143.2L1817.0 144.0L1817.8 144.9L1818.5 145.7L1819.2 146.6L1819.9 147.4L1820.7 148.3L1821.4 149.1L1822.1 149.9L1822.8 150.8L1823.6 151.6L1824.3 152.5L1825.0 153.3L1825.7 154.3L1826.5 155.4L1827.2 156.4L1827.9 157.4L1828.7 158.4L1829.4 159.5L1830.2 160.5L1830.9 161.5L1831.6 162.6L1832.4 163.6L1833.1 164.6L1833.8 165.6L1834.6 166.7L1835.3 167.7L1836.1 169.5L1836.8 171.3L1837.6 173.1L1838.3 174.8L1839.1 176.6L1839.9 178.4L1840.6 180.2L1841.4 182.0L1842.2 184.8L1843.0 187.5L1843.7 190.2L1844.5 193.0L1845.5 196.5L1846.6 200.0L1847.3 197.7L1848.1 195.3L1848.8 193.0L1849.5 191.1L1850.2 189.3L1850.9 187.4L1851.6 185.6L1852.3 183.7L1853.0 181.9L1853.7 180.0L1854.5 178.7L1855.2 177.4L1856.0 176.1L1856.7 174.8L1857.5 173.5L1858.2 172.1L1859.0 170.8L1859.7 169.5L1860.5 168.2L1861.2 166.9L1862.0 165.6L1862.7 164.9L1863.5 164.1L1864.2 163.4L1864.9 162.7L1865.6 162.0L1866.4 161.2L1867.1 160.5L1867.8 159.8L1868.6 159.0L1869.3 158.3L1870.0 157.6L1870.7 156.9L1871.5 156.1L1872.2 155.4L1872.9 154.9L1873.6 154.4L1874.4 153.9L1875.1 153.3L1875.8 152.8L1876.5 152.3L1877.2 151.8L1878.0 151.3L1878.7 150.8L1879.4 150.2L1880.1 149.7L1880.8 149.2L1881.6 148.7L1882.3 148.2L1883.0 147.7L1883.7 147.2L1884.4 146.6L1885.2 146.1L1885.9 145.6L1886.6 145.1L1887.3 144.5L1888.0 143.9L1888.8 143.3L1889.5 142.7L1890.2 142.1L1890.9 141.5L1891.7 140.9L1892.4 140.3L1893.1 139.6L1893.8 139.0L1894.6 138.4L1895.3 137.8L1896.0 137.2L1896.7 136.6L1897.5 136.0L1898.2 135.4L1898.9 134.8L1899.6 133.9L1900.4 132.9L1901.1 131.9L1901.8 131.3L1902.5 130.0L1903.3 129.4L1904.0 128.4L1904.8 126.7L1905.5 125.5L1906.2 123.7L1907.0 122.5L1907.8 119.9L1908.5 117.5L1909.2 115.3L1910.0 113.2L1910.8 109.6L1911.5 106.5L1912.3 103.6L1913.2 100.0L1914.2 95.9L1915.1 99.6L1916.0 103.8L1916.7 106.2L1917.5 109.7L1918.2 112.4L1919.0 114.3L1919.8 116.3L1920.6 118.4L1921.4 120.7L1922.2 121.7L1922.9 123.4L1923.7 124.8L1924.5 126.1L1925.2 127.6L1926.0 128.7L1926.7 129.7L1927.4 130.8L1928.1 132.1L1928.8 132.9L1929.6 133.8L1930.3 135.0L1931.0 135.9L1931.7 136.8L1932.4 137.8L1933.1 138.5L1933.9 138.9L1934.6 139.8L1935.3 140.5L1936.0 141.5L1936.8 142.1L1937.5 142.6L1938.2 143.7L1938.9 143.9L1939.7 144.8L1940.4 145.7L1941.1 146.1L1941.8 147.0L1942.6 147.5L1943.3 148.6L1944.0 149.4L1944.7 149.8L1945.4 150.5L1946.1 150.6L1946.9 151.4L1947.6 151.8L1948.3 152.3L1949.0 152.8L1949.7 153.5L1950.4 154.1L1951.2 154.3L1951.9 155.0L1952.6 155.1L1953.3 156.0L1954.0 156.5L1954.7 157.3L1955.4 157.7L1956.2 157.8L1956.9 158.4L1957.6 159.1L1958.3 159.0L1959.0 160.0L1959.8 160.3L1960.5 160.8L1961.2 161.3L1962.0 162.7L1962.7 162.6L1963.4 163.3L1964.2 164.0L1964.9 165.3L1965.7 164.8L1966.4 165.9L1967.1 166.6L1967.9 167.7L1968.6 168.2L1969.3 169.2L1970.1 169.2L1970.8 170.3L1971.6 171.2L1972.3 173.0L1973.1 174.0L1973.8 173.6L1974.6 174.6L1975.3 175.6L1976.1 176.5L1976.8 177.9L1977.6 180.9L1978.4 183.2L1979.3 185.6L1980.1 189.3L1980.9 192.0L1982.0 196.5L1983.0 201.5L1983.8 196.8L1984.5 192.3L1985.2 188.5L1986.0 184.5L1986.7 179.0L1987.5 176.8L1988.2 172.5L1989.0 168.6L1989.7 164.3L1990.5 159.2L1991.2 155.1L1991.9 150.7L1992.6 148.3L1993.4 143.2L1994.1 139.5L1994.8 136.1L1995.5 138.0L1996.2 140.6L1996.9 141.8L1997.6 143.7L1998.3 146.2L1999.0 147.3L1999.7 149.3L2000.5 149.5L2001.2 153.2L2001.9 153.7L2002.6 153.5L2003.3 155.0L2004.1 156.6L2004.8 157.8L2005.5 158.3L2006.2 161.2L2006.9 162.3L2007.7 161.2L2008.4 161.8L2009.1 161.1L2009.8 161.8L2010.6 163.2L2011.3 163.5L2012.0 166.0L2012.7 164.3L2013.5 164.5L2014.2 168.2L2014.9 167.4L2015.6 166.7L2016.4 168.6L2017.1 167.5L2017.8 169.8L2018.5 171.8L2019.2 171.9L2020.0 171.8L2020.7 170.8L2021.4 171.7L2022.1 171.5L2022.9 174.0L2023.6 173.7L2024.3 175.0L2025.0 173.9L2025.8 174.1L2026.5 176.5L2027.2 177.6L2027.9 177.7L2028.7 178.0L2029.4 178.5L2030.1 178.7L2030.8 177.7L2031.6 179.5L2032.3 179.6L2033.1 179.3L2033.8 180.0L2034.6 181.6L2035.3 182.3L2036.1 184.5L2036.8 186.2L2037.6 185.2L2038.3 187.6L2039.0 189.5L2039.8 191.2L2040.5 190.9L2041.2 192.2L2041.9 194.0L2042.7 195.6L2043.4 197.4L2044.2 198.3L2045.0 198.8L2045.7 198.1L2046.5 196.3L2047.3 192.0L2048.1 187.6L2049.0 180.2L2049.8 177.3L2050.6 173.2L2051.3 169.0L2052.1 165.1L2052.8 160.4L2053.6 155.6L2054.3 153.9L2055.1 148.6L2055.9 152.3L2056.7 154.9L2057.5 155.0L2058.3 157.1L2059.1 161.0L2059.9 162.3L2060.6 161.1L2061.3 161.6L2062.0 162.4L2062.7 165.7L2063.4 166.1L2064.1 164.5L2064.9 167.6L2065.6 168.8L2066.3 168.4L2067.0 168.1L2067.7 169.5L2068.4 168.7L2069.1 169.0L2069.8 172.6L2070.5 171.8L2071.3 171.7L2072.0 173.4L2072.7 172.0L2073.4 173.8L2074.2 174.0L2074.9 172.2L2075.6 172.6L2076.3 173.1L2077.1 173.2L2077.8 174.7L2078.5 173.9L2079.2 174.7L2080.0 174.0L2080.7 177.0L2081.4 175.4L2082.1 175.9L2082.8 176.5L2083.6 177.7L2084.3 176.2L2085.0 178.1L2085.7 176.8L2086.4 177.1L2087.2 177.2L2087.9 175.6L2088.6 177.2L2089.3 176.5L2090.0 176.0L2090.8 178.9L2091.5 176.9L2092.2 178.1L2092.9 179.1L2093.6 178.6L2094.4 178.0L2095.1 178.8L2095.8 179.1L2096.5 179.7L2097.3 177.3L2098.0 178.7L2098.8 177.5L2099.5 177.5L2100.3 179.1L2101.0 178.0L2101.8 178.1L2102.5 178.6L2103.3 179.0L2104.0 177.3L2104.7 178.3L2105.5 178.3L2106.2 178.7L2106.9 179.7L2107.6 179.3L2108.4 180.0L2109.1 180.2L2109.8 182.1L2110.6 181.7L2111.3 182.7L2112.0 183.3L2112.7 181.4L2113.5 182.8L2114.2 184.5L2114.9 184.1L2115.6 181.6L2116.4 181.4L2117.1 182.4L2117.8 181.0L2118.5 181.5L2119.2 180.8L2120.0 182.8L2120.7 183.1L2121.4 183.3L2122.1 180.7L2122.8 182.5L2123.6 182.2L2124.3 180.4L2125.0 182.8L2125.7 183.0L2126.4 180.3L2127.2 182.7L2127.9 180.8L2128.6 181.0L2129.3 182.3L2130.1 181.4L2130.8 178.7L2131.6 179.3L2132.3 179.2L2133.1 178.2L2133.8 177.4L2134.6 177.4L2135.3 178.4L2136.1 175.6L2136.8 177.1L2137.6 176.0L2138.4 173.9L2139.3 174.2L2140.1 174.5L2140.9 173.4L2141.7 174.6L2142.4 180.4L2143.2 182.4L2143.9 185.7L2144.7 190.1L2145.5 198.1L2146.4 204.7L2147.2 214.6L2148.0 220.2L2148.8 216.0L2149.6 213.3L2150.5 211.3L2151.3 207.3L2152.1 201.7L2152.9 199.8L2153.6 200.9L2154.4 198.2L2155.2 197.1L2156.0 194.4L2156.8 193.6L2157.5 195.1L2158.3 193.6L2159.1 191.8L2159.8 194.1L2160.6 192.4L2161.4 191.3" fill="none" stroke="#1b6b7c" stroke-width="2.4" stroke-linejoin="round" stroke-linecap="round" />
<path d="M1707.1 169.7L1708.5 167.0L1715.3 161.5L1723.5 149.2L1728.6 130.7L1730.6 122.0L1732.1 117.4L1733.5 123.0L1734.8 130.7L1738.9 147.2L1745.0 159.5L1748.0 161.5L1750.2 164.6L1752.0 162.0L1754.3 162.5" fill="none" stroke="#3400b4" stroke-width="2.4" stroke-linejoin="round" stroke-linecap="round" />
<path d="M1954.2 198.0L1954.6 220.0L1955.2 200.0L1955.8 227.0L1956.4 197.0L1957.0 227.0L1957.8 202.0L1958.3 227.0L1959.0 205.0L1960.4 196.0L1963.0 182.0L1965.0 170.0L1966.4 160.0L1967.2 155.0L1968.0 160.0L1969.5 171.0L1971.5 184.0L1973.0 192.0L1974.0 198.0L1974.8 204.0L1975.4 196.0L1976.2 207.0L1977.0 197.0L1977.8 210.0L1978.9 202.0" fill="none" stroke="#3400b4" stroke-width="2.2" stroke-linejoin="round" stroke-linecap="round" />
<path d="M2090.4 227.0L2090.8 212.0L2091.6 225.0L2092.2 208.0L2093.0 222.0L2094.0 203.0L2096.2 188.2L2098.0 203.0L2099.0 216.0L2099.8 207.0L2100.6 222.0L2101.3 212.0L2102.0 227.0" fill="none" stroke="#3400b4" stroke-width="2.2" stroke-linejoin="round" stroke-linecap="round" />
<text x="1504" y="37.4" font-size="24.6" fill="#1f8f7c" textLength="58.5" lengthAdjust="spacingAndGlyphs"><tspan font-style="italic">Q</tspan> ≈ 5</text>
<text x="1503" y="67.2" font-size="24.6" fill="#1f8f7c" text-anchor="start" font-weight="normal" font-style="normal" textLength="62.6" lengthAdjust="spacingAndGlyphs" >10 dB</text>
<text x="1668" y="81.1" font-size="24.6" fill="#3400b4" textLength="73" lengthAdjust="spacingAndGlyphs"><tspan font-style="italic">Q</tspan> ≈ 19</text>
<text x="1672" y="110.2" font-size="24.6" fill="#3400b4" text-anchor="start" font-weight="normal" font-style="normal" textLength="63.8" lengthAdjust="spacingAndGlyphs" >–5 dB</text>
<text x="1748" y="45.6" font-size="24.6" fill="#1f8f7c" textLength="73" lengthAdjust="spacingAndGlyphs"><tspan font-style="italic">Q</tspan> ≈ 13</text>
<text x="1758.4" y="75.4" font-size="24.6" fill="#1f8f7c" text-anchor="start" font-weight="normal" font-style="normal" textLength="51.9" lengthAdjust="spacingAndGlyphs" >3 dB</text>
<text x="1393.3" y="179" font-size="24.6" fill="#000" text-anchor="start" font-weight="normal" font-style="normal" textLength="140.5" lengthAdjust="spacingAndGlyphs" >Atmospheric</text>
<text x="1416.3" y="208.3" font-size="24.6" fill="#000" text-anchor="start" font-weight="normal" font-style="normal" textLength="95.6" lengthAdjust="spacingAndGlyphs" >pressure</text>
<rect x="2065.4" y="46.3" width="42.6" height="7" fill="#1f8f7c"/>
<rect x="2065.4" y="74.5" width="42.6" height="7" fill="#3400b4"/>
<text x="2120" y="58.0" font-size="24.6" fill="#1b6b7c" text-anchor="start" font-weight="normal" font-style="italic" >Y</text>
<text x="2119" y="86.2" font-size="24.6" fill="#3400b4" text-anchor="start" font-weight="normal" font-style="italic" >X</text>
<path d="M1358.3 249 L1358.3 443.2 L2161.5 443.2" fill="none" stroke="#333" stroke-width="1.6"/>
<line x1="1358.3" y1="266.2" x2="1366.3" y2="266.2" stroke="#333" stroke-width="1.4"/>
<text x="1344.5" y="274.0" font-size="24.6" fill="#000" text-anchor="end" font-weight="normal" font-style="normal" >20</text>
<line x1="1358.3" y1="337.2" x2="1366.3" y2="337.2" stroke="#333" stroke-width="1.4"/>
<text x="1344.5" y="345.0" font-size="24.6" fill="#000" text-anchor="end" font-weight="normal" font-style="normal" >0</text>
<line x1="1358.3" y1="408.2" x2="1366.3" y2="408.2" stroke="#333" stroke-width="1.4"/>
<text x="1344.5" y="416.0" font-size="24.6" fill="#000" text-anchor="end" font-weight="normal" font-style="normal" >−20</text>
<line x1="1391.4" y1="443.2" x2="1391.4" y2="438.7" stroke="#333" stroke-width="1.4"/>
<line x1="1438.5" y1="443.2" x2="1438.5" y2="438.7" stroke="#333" stroke-width="1.4"/>
<line x1="1471.9" y1="443.2" x2="1471.9" y2="438.7" stroke="#333" stroke-width="1.4"/>
<line x1="1497.8" y1="443.2" x2="1497.8" y2="438.7" stroke="#333" stroke-width="1.4"/>
<line x1="1519.0" y1="443.2" x2="1519.0" y2="438.7" stroke="#333" stroke-width="1.4"/>
<line x1="1536.9" y1="443.2" x2="1536.9" y2="438.7" stroke="#333" stroke-width="1.4"/>
<line x1="1552.4" y1="443.2" x2="1552.4" y2="438.7" stroke="#333" stroke-width="1.4"/>
<line x1="1566.1" y1="443.2" x2="1566.1" y2="438.7" stroke="#333" stroke-width="1.4"/>
<line x1="1578.3" y1="443.2" x2="1578.3" y2="434.2" stroke="#333" stroke-width="1.4"/>
<line x1="1658.8" y1="443.2" x2="1658.8" y2="438.7" stroke="#333" stroke-width="1.4"/>
<line x1="1705.9" y1="443.2" x2="1705.9" y2="438.7" stroke="#333" stroke-width="1.4"/>
<line x1="1739.3" y1="443.2" x2="1739.3" y2="438.7" stroke="#333" stroke-width="1.4"/>
<line x1="1765.2" y1="443.2" x2="1765.2" y2="438.7" stroke="#333" stroke-width="1.4"/>
<line x1="1786.4" y1="443.2" x2="1786.4" y2="438.7" stroke="#333" stroke-width="1.4"/>
<line x1="1804.3" y1="443.2" x2="1804.3" y2="438.7" stroke="#333" stroke-width="1.4"/>
<line x1="1819.8" y1="443.2" x2="1819.8" y2="438.7" stroke="#333" stroke-width="1.4"/>
<line x1="1833.5" y1="443.2" x2="1833.5" y2="438.7" stroke="#333" stroke-width="1.4"/>
<line x1="1845.7" y1="443.2" x2="1845.7" y2="434.2" stroke="#333" stroke-width="1.4"/>
<line x1="1926.2" y1="443.2" x2="1926.2" y2="438.7" stroke="#333" stroke-width="1.4"/>
<line x1="1973.3" y1="443.2" x2="1973.3" y2="438.7" stroke="#333" stroke-width="1.4"/>
<line x1="2006.7" y1="443.2" x2="2006.7" y2="438.7" stroke="#333" stroke-width="1.4"/>
<line x1="2032.6" y1="443.2" x2="2032.6" y2="438.7" stroke="#333" stroke-width="1.4"/>
<line x1="2053.8" y1="443.2" x2="2053.8" y2="438.7" stroke="#333" stroke-width="1.4"/>
<line x1="2071.7" y1="443.2" x2="2071.7" y2="438.7" stroke="#333" stroke-width="1.4"/>
<line x1="2087.2" y1="443.2" x2="2087.2" y2="438.7" stroke="#333" stroke-width="1.4"/>
<line x1="2100.9" y1="443.2" x2="2100.9" y2="438.7" stroke="#333" stroke-width="1.4"/>
<line x1="2113.1" y1="443.2" x2="2113.1" y2="434.2" stroke="#333" stroke-width="1.4"/>
<text x="1251.9" y="346" font-size="24.6" text-anchor="middle" textLength="151.4" lengthAdjust="spacingAndGlyphs" transform="rotate(-90 1251.9 346)">Enhancement</text>
<text x="1282" y="346" font-size="24.6" text-anchor="middle" textLength="43" lengthAdjust="spacingAndGlyphs" transform="rotate(-90 1282 346)">(dB)</text>
<path d="M1358.3 338.6L1358.9 338.4L1359.4 338.3L1360.0 338.1L1360.6 338.0L1361.1 337.8L1361.7 337.6L1362.3 337.5L1362.8 337.3L1363.4 337.2L1364.0 337.0L1364.5 336.9L1365.1 336.7L1365.7 336.5L1366.3 336.4L1366.8 336.2L1367.4 336.1L1368.0 335.9L1368.5 335.7L1369.1 335.6L1369.7 335.4L1370.2 335.3L1370.8 335.1L1371.4 335.1L1371.9 335.0L1372.5 335.0L1373.0 335.0L1373.6 335.0L1374.2 334.9L1374.7 334.9L1375.3 334.9L1375.8 334.9L1376.4 334.8L1376.9 334.8L1377.5 334.8L1378.1 334.7L1378.6 334.7L1379.2 334.7L1379.7 334.7L1380.3 334.6L1380.9 334.6L1381.4 334.6L1382.0 334.6L1382.5 334.5L1383.1 334.5L1383.7 334.7L1384.2 334.8L1384.8 335.0L1385.4 335.2L1385.9 335.3L1386.5 335.5L1387.1 335.7L1387.6 335.8L1388.2 336.0L1388.8 336.2L1389.3 336.3L1389.9 336.5L1390.5 336.7L1391.0 336.8L1391.6 337.0L1392.2 337.2L1392.7 337.3L1393.3 337.5L1393.9 337.8L1394.4 338.1L1395.0 338.4L1395.6 338.7L1396.1 339.0L1396.7 339.3L1397.2 339.6L1397.8 339.9L1398.4 340.2L1398.9 340.6L1399.5 340.9L1400.1 341.2L1400.6 341.5L1401.2 341.8L1401.7 342.1L1402.3 342.4L1402.9 342.7L1403.4 343.0L1404.0 343.3L1404.6 343.1L1405.2 343.0L1405.8 342.8L1406.3 342.7L1406.9 342.5L1407.5 342.4L1408.1 342.2L1408.7 342.1L1409.3 341.9L1409.9 341.8L1410.5 341.6L1411.0 341.5L1411.6 341.3L1412.2 341.2L1412.8 341.0L1413.4 340.4L1414.0 339.8L1414.6 339.2L1415.1 338.5L1415.7 337.9L1416.3 337.3L1416.9 336.7L1417.5 336.1L1418.1 335.5L1418.7 334.9L1419.3 334.3L1419.8 333.6L1420.4 333.0L1421.0 332.4L1421.6 331.8L1422.1 332.2L1422.7 332.6L1423.2 333.0L1423.8 333.4L1424.3 333.8L1424.9 334.1L1425.5 334.5L1426.0 334.9L1426.5 335.3L1427.1 335.7L1427.7 336.1L1428.2 336.5L1428.8 336.9L1429.3 337.4L1429.9 337.8L1430.5 338.3L1431.1 338.7L1431.6 339.1L1432.2 339.6L1432.8 340.0L1433.4 340.5L1433.9 340.9L1434.5 341.3L1435.1 341.8L1435.7 342.2L1436.2 342.7L1436.8 343.1L1437.4 342.3L1437.9 341.5L1438.5 340.7L1439.1 339.9L1439.6 339.1L1440.2 338.2L1440.8 337.4L1441.3 336.6L1441.9 335.8L1442.5 335.0L1443.0 334.2L1443.6 333.4L1444.2 333.2L1444.7 333.0L1445.3 332.8L1445.8 332.6L1446.4 332.4L1446.9 332.2L1447.5 332.0L1448.1 331.8L1448.6 331.6L1449.2 331.4L1449.7 331.2L1450.3 331.0L1450.9 331.6L1451.4 332.3L1452.0 332.9L1452.5 333.6L1453.1 334.2L1453.7 334.9L1454.2 335.6L1454.8 336.2L1455.3 336.9L1455.9 337.5L1456.5 337.8L1457.0 338.2L1457.6 338.5L1458.1 338.8L1458.7 339.2L1459.2 339.5L1459.8 339.9L1460.3 340.2L1460.9 340.5L1461.4 340.9L1462.0 341.2L1462.6 341.0L1463.2 340.9L1463.7 340.7L1464.3 340.6L1464.9 340.4L1465.5 340.2L1466.1 340.1L1466.7 339.9L1467.2 339.7L1467.8 339.6L1468.4 339.4L1469.0 339.2L1469.6 339.1L1470.1 338.9L1470.7 338.8L1471.3 338.6L1471.9 338.5L1472.4 338.5L1473.0 338.4L1473.6 338.4L1474.1 338.3L1474.7 338.2L1475.3 338.2L1475.8 338.1L1476.4 338.1L1477.0 338.0L1477.5 337.9L1478.1 337.9L1478.7 337.8L1479.2 337.7L1479.8 337.7L1480.4 337.6L1480.9 337.6L1481.5 337.5L1482.1 337.3L1482.7 337.1L1483.2 336.9L1483.8 336.8L1484.4 336.6L1485.0 336.4L1485.5 336.2L1486.1 336.0L1486.7 335.8L1487.2 335.6L1487.8 335.4L1488.4 335.2L1489.0 335.1L1489.5 334.9L1490.1 334.7L1490.7 334.5L1491.3 334.7L1491.8 334.9L1492.4 335.1L1492.9 335.4L1493.5 335.6L1494.0 335.8L1494.6 336.0L1495.2 336.2L1495.7 336.4L1496.3 336.6L1496.8 336.8L1497.4 337.1L1498.0 337.3L1498.5 337.5L1499.1 337.7L1499.6 337.9L1500.2 338.1L1500.8 338.3L1501.3 338.5L1501.9 338.8L1502.4 339.0L1503.0 339.2L1503.5 339.4L1504.1 339.6L1504.7 339.2L1505.2 338.8L1505.8 338.4L1506.4 338.0L1506.9 337.5L1507.5 337.1L1508.1 336.7L1508.6 336.3L1509.2 335.9L1509.8 336.2L1510.4 336.5L1511.1 336.9L1511.7 337.2L1512.3 337.5L1512.9 337.4L1513.4 337.3L1514.0 337.2L1514.6 337.1L1515.1 336.9L1515.7 336.8L1516.3 336.7L1516.8 336.6L1517.4 336.5L1518.0 336.4L1518.5 336.3L1519.1 336.2L1519.7 336.1L1520.2 335.9L1520.8 335.8L1521.4 335.7L1521.9 335.6L1522.5 335.5L1523.1 335.7L1523.6 335.9L1524.2 336.0L1524.8 336.2L1525.3 336.4L1525.9 336.6L1526.4 336.8L1527.0 337.0L1527.6 337.1L1528.1 337.3L1528.7 337.5L1529.3 337.1L1529.9 336.8L1530.5 336.4L1531.0 336.0L1531.6 335.7L1532.2 335.3L1532.8 334.9L1533.4 334.6L1534.0 334.2L1534.6 333.9L1535.1 333.5L1535.7 333.1L1536.3 332.8L1536.9 332.4L1537.5 332.5L1538.0 332.6L1538.6 332.7L1539.2 332.8L1539.7 333.0L1540.3 333.1L1540.9 333.2L1541.4 333.3L1542.0 333.4L1542.6 333.0L1543.2 332.6L1543.9 332.2L1544.5 331.8L1545.1 331.4L1545.7 331.4L1546.3 331.4L1546.9 331.4L1547.4 331.4L1548.0 331.4L1548.6 331.4L1549.2 331.4L1549.8 331.4L1550.4 331.4L1551.0 331.4L1551.5 331.4L1552.1 331.4L1552.7 331.4L1553.3 331.4L1553.9 331.3L1554.4 331.1L1555.0 331.0L1555.5 330.8L1556.1 330.7L1556.7 330.6L1557.2 330.4L1557.8 330.3L1558.3 330.1L1558.9 330.0L1559.4 329.9L1560.0 329.9L1560.6 329.4L1561.1 329.6L1561.7 329.1L1562.2 329.3L1562.8 329.0L1563.4 328.8L1563.9 328.7L1564.5 328.8L1565.0 328.3L1565.6 328.1L1566.2 328.1L1566.7 327.7L1567.3 327.5L1567.8 327.3L1568.4 327.0L1569.0 326.9L1569.5 326.7L1570.1 326.5L1570.6 326.5L1571.2 326.1L1571.8 326.0L1572.3 325.6L1572.9 325.4L1573.4 325.1L1574.0 325.0L1574.5 324.6L1575.1 324.8L1575.7 324.5L1576.2 324.1L1576.8 324.0L1577.3 324.0L1577.9 323.4L1578.5 323.8L1579.1 323.7L1579.7 323.9L1580.2 324.1L1580.8 324.0L1581.4 324.1L1582.0 324.3L1582.7 322.9L1583.3 321.0L1584.0 319.7L1584.6 319.2L1585.1 318.7L1585.7 318.2L1586.2 317.7L1586.8 317.2L1587.3 316.8L1587.9 316.3L1588.4 316.2L1589.0 315.6L1589.5 315.1L1590.1 314.6L1590.6 314.6L1591.2 314.2L1591.8 313.1L1592.4 311.8L1592.9 310.8L1593.5 309.8L1594.1 308.8L1594.7 307.6L1595.2 306.7L1595.8 305.6L1596.4 304.9L1597.0 302.5L1597.6 299.8L1598.2 297.2L1598.8 295.1L1599.4 292.3L1600.0 290.0L1600.6 287.6L1601.1 285.4L1601.7 283.2L1602.3 286.0L1603.0 288.7L1603.6 291.7L1604.2 294.3L1604.8 296.4L1605.3 298.4L1605.9 300.6L1606.5 302.5L1607.0 304.5L1607.6 306.7L1608.2 307.8L1608.7 309.1L1609.3 310.2L1609.9 311.4L1610.4 312.5L1611.0 313.6L1611.5 314.8L1612.1 315.7L1612.7 316.8L1613.2 318.2L1613.8 318.9L1614.4 319.8L1615.0 320.4L1615.5 320.8L1616.1 321.8L1616.7 322.5L1617.2 323.0L1617.8 323.7L1618.4 324.4L1619.0 324.7L1619.5 325.5L1620.1 326.1L1620.7 326.9L1621.3 327.5L1621.8 328.2L1622.4 328.7L1623.0 329.5L1623.6 329.8L1624.1 330.2L1624.7 330.4L1625.3 330.8L1625.8 331.2L1626.4 331.8L1627.0 332.1L1627.5 332.9L1628.1 333.1L1628.7 333.6L1629.2 334.0L1629.8 334.5L1630.4 334.8L1630.9 335.0L1631.5 335.8L1632.0 336.2L1632.6 336.5L1633.2 337.0L1633.7 337.4L1634.3 337.6L1634.9 338.3L1635.4 338.5L1636.0 338.8L1636.6 339.4L1637.1 340.0L1637.7 340.2L1638.3 340.9L1638.8 341.4L1639.4 341.6L1640.0 342.1L1640.6 342.8L1641.2 343.4L1641.7 344.1L1642.3 344.6L1642.9 345.2L1643.5 345.5L1644.1 346.1L1644.7 346.7L1645.3 347.6L1645.8 347.9L1646.4 348.7L1647.0 349.0L1647.6 349.6L1648.2 350.1L1648.7 350.7L1649.3 351.1L1649.8 351.4L1650.4 351.6L1650.9 352.1L1651.5 352.5L1652.0 352.9L1652.6 353.1L1653.1 353.9L1653.7 353.9L1654.2 354.7L1654.8 355.1L1655.4 355.0L1655.9 355.6L1656.5 356.2L1657.0 356.7L1657.6 356.8L1658.1 357.1L1658.7 357.4L1659.2 358.2L1659.8 358.2L1660.3 358.8L1660.9 359.0L1661.5 359.5L1662.0 360.1L1662.6 360.1L1663.1 360.9L1663.7 361.1L1664.2 361.7L1664.8 362.0L1665.3 362.1L1665.9 362.8L1666.4 363.0L1667.0 363.2L1667.5 363.6L1668.1 364.2L1668.7 364.6L1669.2 364.9L1669.8 365.3L1670.4 365.8L1670.9 366.2L1671.5 366.9L1672.1 366.9L1672.6 367.7L1673.2 368.2L1673.8 368.3L1674.3 369.1L1674.9 369.4L1675.5 369.9L1676.0 370.0L1676.6 370.5L1677.1 370.9L1677.7 371.7L1678.3 371.9L1678.8 372.2L1679.4 372.6L1680.0 373.0L1680.5 373.3L1681.1 373.8L1681.7 374.5L1682.2 374.7L1682.8 375.4L1683.4 375.5L1683.9 376.0L1684.5 376.5L1685.1 377.6L1685.6 379.0L1686.2 380.5L1686.7 381.7L1687.3 383.0L1687.8 384.1L1688.4 385.5L1688.9 386.8L1689.5 387.9L1690.0 389.2L1690.6 390.2L1691.1 391.8L1691.7 392.9L1692.3 396.7L1692.9 400.4L1693.6 403.9L1694.2 407.5L1694.8 411.6L1695.6 415.8L1696.4 420.6L1697.1 417.5L1697.8 414.4L1698.5 411.5L1699.1 408.6L1699.7 405.1L1700.2 402.4L1700.8 398.8L1701.4 396.1L1702.0 392.8L1702.6 391.5L1703.1 390.5L1703.7 389.7L1704.2 389.7L1704.8 388.2L1705.3 386.8L1705.9 386.8L1706.4 386.0L1707.0 384.3L1707.5 382.9L1708.1 382.1L1708.6 381.0L1709.2 380.4L1709.8 379.5L1710.3 379.1L1710.9 378.6L1711.4 378.5L1712.0 378.4L1712.5 377.6L1713.1 376.6L1713.6 376.0L1714.2 375.6L1714.7 374.9L1715.3 374.3L1715.9 373.5L1716.4 373.5L1717.0 374.1L1717.6 372.6L1718.2 372.8L1718.7 372.6L1719.3 372.6L1719.9 371.3L1720.4 371.1L1721.0 370.7L1721.6 370.6L1722.2 370.3L1722.7 370.7L1723.3 370.2L1723.9 369.9L1724.5 368.3L1725.0 368.0L1725.6 368.6L1726.2 368.7L1726.7 367.9L1727.3 367.9L1727.8 366.9L1728.4 367.2L1729.0 367.8L1729.5 367.5L1730.1 367.3L1730.6 367.3L1731.2 366.1L1731.8 365.7L1732.3 365.6L1732.9 365.9L1733.4 365.9L1734.0 366.1L1734.5 365.6L1735.1 365.3L1735.7 365.3L1736.2 364.7L1736.8 364.6L1737.3 363.7L1737.9 364.6L1738.9 367.9L1739.9 364.8L1740.5 364.2L1741.0 363.5L1741.6 363.0L1742.2 362.9L1742.8 363.3L1743.3 363.1L1743.9 362.1L1744.5 361.8L1745.1 362.2L1745.6 362.0L1746.2 361.5L1746.8 361.1L1747.3 361.4L1747.9 360.3L1748.5 360.5L1749.1 360.5L1749.6 361.0L1750.2 360.3L1750.8 360.4L1751.4 359.7L1752.1 359.1L1752.7 358.9L1753.3 359.7L1753.9 359.2L1754.4 358.5L1755.0 357.9L1755.6 358.4L1756.1 358.5L1756.7 358.0L1757.3 357.6L1757.8 358.0L1758.4 358.1L1759.0 357.0L1759.5 356.6L1760.1 356.8L1760.7 356.7L1761.2 356.9L1761.8 356.1L1762.4 356.8L1762.9 356.5L1763.5 356.0L1764.1 355.2L1764.6 355.9L1765.2 354.5L1765.8 354.8L1766.4 353.6L1766.9 353.2L1767.5 353.6L1768.1 352.5L1768.7 353.0L1769.2 352.0L1769.8 351.2L1770.4 350.8L1770.9 350.7L1771.5 350.6L1772.1 350.6L1772.7 349.1L1773.2 349.1L1773.8 348.4L1774.4 348.8L1775.0 347.0L1775.6 346.2L1776.1 345.6L1776.7 345.4L1777.3 345.4L1777.9 344.7L1778.5 343.9L1779.1 343.6L1779.7 342.8L1780.2 341.3L1780.8 340.5L1781.4 340.9L1782.0 339.9L1782.6 336.9L1783.2 335.7L1783.8 333.3L1784.3 331.2L1784.9 329.1L1785.5 326.8L1786.1 324.5L1786.8 318.1L1787.4 311.3L1788.1 305.3L1789.1 290.9L1789.8 298.7L1790.6 304.3L1791.2 310.6L1791.9 317.5L1792.5 323.6L1793.2 329.2L1793.8 330.3L1794.4 332.5L1794.9 333.9L1795.5 336.3L1796.1 336.9L1796.7 338.7L1797.2 341.1L1797.8 341.4L1798.4 343.6L1799.0 344.8L1799.5 345.4L1800.1 345.0L1800.6 345.6L1801.2 346.3L1801.8 348.2L1802.3 347.9L1802.9 349.2L1803.4 350.1L1804.0 350.0L1804.6 350.5L1805.1 352.1L1805.7 352.3L1806.2 352.5L1806.8 353.8L1807.3 353.8L1807.9 354.4L1808.5 354.7L1809.0 356.4L1809.6 357.3L1810.1 357.5L1810.7 358.6L1811.3 357.8L1811.8 358.5L1812.4 359.3L1813.0 360.4L1813.6 360.9L1814.1 360.6L1814.7 360.8L1815.3 361.5L1815.8 362.1L1816.4 363.1L1817.0 362.5L1817.6 363.8L1818.1 364.2L1818.7 364.8L1819.3 365.2L1819.9 365.4L1820.4 365.4L1821.0 365.9L1821.6 366.4L1822.1 367.4L1822.7 366.9L1823.3 367.5L1823.9 368.8L1824.4 368.5L1825.0 368.7L1825.6 369.0L1826.1 370.2L1826.7 370.2L1827.3 371.5L1827.8 371.8L1828.4 372.3L1829.0 371.7L1829.5 371.8L1830.1 372.2L1830.7 373.2L1831.2 373.9L1831.8 373.9L1832.4 374.0L1832.9 374.6L1833.5 375.3L1834.0 375.8L1834.6 376.3L1835.2 376.8L1835.7 376.9L1836.3 376.6L1836.9 378.0L1837.4 377.6L1838.0 378.4L1838.6 378.5L1839.1 379.4L1839.7 379.0L1840.3 379.5L1840.8 379.9L1841.4 380.1L1842.0 381.7L1842.5 381.9L1843.1 382.1L1843.7 382.7L1844.3 384.2L1844.8 384.0L1845.4 384.2L1846.0 385.6L1846.6 386.0L1847.1 387.0L1847.7 386.3L1848.3 387.4L1848.8 388.5L1849.4 389.1L1850.0 389.8L1850.6 389.1L1851.1 390.0L1851.7 390.4L1852.3 391.5L1852.9 393.6L1853.5 394.1L1854.0 395.6L1854.6 395.8L1855.2 397.5L1855.8 398.0L1856.4 398.7L1857.0 400.5L1857.6 401.7L1858.1 401.6L1858.7 403.3L1859.3 404.3L1859.9 404.8L1860.5 407.7L1861.1 410.0L1861.7 412.7L1862.2 415.4L1862.8 418.6L1863.4 421.3L1864.0 423.3L1864.7 427.9L1865.3 433.2L1866.0 438.6L1866.7 442.8L1867.3 438.1L1867.9 433.0L1868.5 429.0L1869.1 423.8L1869.7 420.2L1870.3 417.4L1871.0 414.9L1871.6 412.3L1872.2 409.5L1872.8 407.4L1873.3 406.2L1873.9 405.7L1874.5 404.0L1875.0 402.5L1875.6 401.2L1876.1 400.8L1876.7 398.6L1877.3 397.7L1877.8 396.1L1878.4 394.9L1879.0 394.9L1879.6 394.5L1880.2 393.1L1880.7 392.2L1881.3 392.4L1881.9 391.1L1882.5 390.2L1883.1 390.9L1883.7 389.6L1884.3 389.6L1884.8 388.4L1885.4 388.5L1886.0 387.3L1886.6 386.3L1887.2 385.7L1887.7 386.0L1888.3 385.6L1888.9 385.6L1889.4 383.9L1890.0 384.2L1890.6 383.4L1891.1 383.2L1891.7 382.2L1892.3 381.9L1892.8 381.8L1893.4 381.9L1894.0 380.3L1894.5 380.4L1895.1 380.4L1895.7 380.2L1896.2 378.6L1896.8 378.1L1897.4 378.6L1897.9 378.1L1898.5 376.9L1899.1 375.7L1899.7 376.3L1900.2 375.0L1900.8 375.2L1901.4 374.2L1901.9 373.9L1902.5 372.4L1903.1 372.7L1903.7 371.3L1904.2 371.0L1904.8 371.1L1905.4 370.5L1906.0 369.0L1906.5 368.5L1907.1 368.2L1907.7 367.2L1908.2 365.9L1908.8 364.4L1909.3 363.5L1909.9 363.0L1910.4 362.1L1911.0 359.8L1911.5 359.4L1912.1 358.6L1912.6 356.5L1913.2 356.5L1913.8 351.7L1914.4 348.6L1915.1 344.8L1915.7 341.1L1916.3 336.9L1916.9 333.3L1917.5 322.2L1918.2 310.8L1918.8 299.8L1919.4 310.8L1920.0 322.0L1920.6 332.7L1921.2 336.8L1921.7 339.8L1922.3 342.7L1922.8 346.7L1923.4 349.9L1923.9 352.7L1924.5 355.6L1925.1 357.1L1925.6 357.7L1926.2 358.8L1926.7 360.3L1927.3 361.0L1927.8 362.6L1928.4 363.8L1928.9 364.2L1929.5 366.2L1930.0 366.5L1930.6 368.5L1931.1 369.7L1931.7 370.4L1932.3 370.2L1932.8 371.3L1933.4 371.6L1933.9 372.9L1934.5 372.2L1935.1 373.7L1935.6 374.3L1936.2 374.4L1936.7 375.0L1937.3 374.6L1937.8 376.2L1938.4 376.0L1939.0 377.1L1939.5 377.5L1940.1 376.6L1940.6 378.5L1941.2 379.3L1941.8 377.7L1942.3 378.9L1942.9 380.3L1943.4 379.3L1944.0 381.6L1944.6 380.4L1945.1 382.1L1945.7 380.9L1946.2 382.1L1946.8 383.5L1947.4 382.1L1947.9 382.6L1948.5 383.6L1949.0 383.5L1949.6 383.2L1950.2 383.9L1950.7 384.3L1951.3 386.5L1951.8 386.2L1952.4 387.1L1952.9 385.8L1953.5 387.6L1954.1 386.4L1954.6 387.8L1955.2 388.4L1955.7 388.1L1956.3 389.7L1956.9 389.3L1957.4 389.6L1958.0 390.7L1958.5 389.2L1959.1 391.6L1959.7 391.1L1960.2 390.8L1960.8 392.1L1961.3 391.2L1961.9 393.2L1962.4 392.6L1963.0 392.4L1963.6 393.7L1964.1 393.2L1964.7 392.9L1965.2 394.6L1965.8 393.3L1966.4 395.5L1966.9 394.4L1967.5 395.7L1968.0 396.8L1968.6 396.2L1969.2 397.1L1969.8 396.9L1970.4 396.8L1970.9 397.5L1971.5 398.4L1972.1 400.2L1972.7 400.4L1973.3 401.3L1973.9 402.9L1974.5 401.7L1975.0 402.6L1975.6 404.3L1976.2 403.4L1976.8 404.0L1977.4 406.5L1977.9 407.5L1978.5 409.7L1979.1 410.9L1979.6 413.4L1980.2 415.0L1980.8 415.7L1981.3 418.3L1981.9 419.5L1982.5 423.4L1983.1 430.1L1983.8 433.1L1984.4 437.6L1985.0 442.2L1985.6 438.8L1986.2 434.7L1986.9 429.7L1987.5 424.1L1988.1 419.0L1988.7 414.9L1989.3 412.9L1989.9 409.2L1990.4 405.2L1991.0 402.4L1991.6 398.4L1992.2 396.0L1992.8 391.7L1993.4 386.8L1994.0 384.5L1994.5 378.6L1995.1 376.0L1995.7 371.9L1996.3 367.7L1997.1 344.2L1997.9 322.9L1998.5 336.4L1999.2 353.1L1999.8 369.4L2000.4 367.8L2001.0 370.0L2001.6 374.4L2002.2 375.5L2002.7 378.2L2003.3 381.1L2003.9 378.8L2004.5 381.5L2005.1 381.9L2005.7 380.8L2006.2 386.7L2006.8 386.6L2007.4 386.6L2008.0 382.6L2008.5 388.5L2009.1 388.4L2009.7 387.1L2010.2 389.4L2010.8 388.0L2011.4 387.1L2012.0 386.8L2012.5 388.2L2013.1 387.4L2013.7 389.8L2014.3 392.8L2014.8 392.7L2015.4 394.0L2016.0 393.4L2016.5 390.8L2017.1 392.9L2017.7 392.5L2018.2 395.0L2018.8 393.6L2019.4 392.2L2019.9 394.9L2020.5 397.3L2021.1 392.8L2021.6 397.3L2022.2 392.0L2022.7 393.9L2023.3 394.0L2023.9 397.6L2024.4 399.1L2025.0 398.1L2025.6 395.7L2026.1 399.6L2026.7 396.3L2027.3 396.0L2027.8 400.6L2028.4 399.1L2029.0 399.8L2029.5 399.9L2030.1 402.2L2030.7 399.2L2031.2 401.9L2031.8 401.3L2032.3 402.6L2032.9 400.3L2033.4 402.4L2034.0 401.8L2034.5 400.4L2035.1 400.1L2035.6 403.0L2036.2 399.9L2036.7 405.5L2037.3 400.9L2037.9 400.5L2038.4 401.3L2039.0 406.9L2039.5 403.5L2040.1 402.5L2040.6 402.1L2041.2 402.5L2041.7 407.0L2042.3 406.9L2042.8 407.6L2043.4 408.2L2043.9 404.2L2044.5 407.9L2045.1 407.2L2045.6 410.8L2046.2 411.6L2046.7 412.8L2047.3 408.2L2047.8 414.1L2048.4 415.2L2048.9 416.1L2049.5 411.5L2050.0 412.9L2050.6 413.0L2051.2 418.1L2051.8 428.8L2052.5 434.1L2053.1 438.5L2053.7 445.3L2054.4 429.3L2055.1 412.4L2055.8 396.5L2056.6 370.9L2057.4 349.4L2058.0 360.9L2058.6 376.7L2059.2 392.4L2059.8 390.9L2060.4 393.4L2060.9 394.6L2061.5 398.4L2062.1 397.2L2062.7 397.9L2063.3 403.1L2063.8 401.2L2064.4 404.4L2065.0 404.0L2065.6 400.5L2066.1 403.2L2066.7 403.6L2067.3 406.1L2067.8 403.6L2068.4 406.2L2069.0 405.4L2069.5 403.7L2070.1 408.1L2070.7 403.4L2071.2 408.4L2071.8 404.5L2072.4 403.7L2072.9 405.3L2073.5 409.1L2074.1 410.8L2074.6 404.8L2075.2 408.2L2075.8 408.3L2076.4 410.3L2077.1 406.4L2077.7 408.4L2078.3 407.5L2078.9 365.3L2079.5 407.3L2080.1 411.8L2080.7 407.7L2081.2 407.3L2081.8 410.6L2082.4 409.4L2083.0 407.0L2083.5 410.5L2084.1 407.1L2084.7 411.8L2085.3 411.3L2085.8 412.0L2086.4 411.1L2087.0 409.5L2087.6 409.9L2088.1 410.0L2088.7 413.3L2089.3 408.3L2089.9 413.5L2090.4 408.1L2091.0 409.4L2091.6 409.9L2092.2 413.8L2092.7 411.1L2093.3 410.2L2093.8 413.3L2094.4 409.0L2094.9 410.3L2095.5 410.6L2096.0 411.9L2096.6 411.8L2097.1 410.9L2097.7 408.9L2098.2 408.6L2098.8 407.4L2099.3 411.6L2099.9 410.3L2100.5 408.8L2101.1 403.1L2101.7 402.8L2102.3 402.9L2102.9 399.6L2103.5 381.0L2104.0 367.4L2104.6 354.4L2105.3 384.1L2106.0 417.6L2107.0 441.9L2107.6 440.6L2108.2 437.6L2108.9 429.3L2109.5 425.4L2110.1 422.1L2110.7 422.0L2111.2 422.7L2111.8 419.8L2112.4 420.3L2112.9 418.9L2113.5 423.4L2114.0 421.2L2114.6 416.6L2115.2 421.6L2115.7 415.5L2116.3 416.8L2116.9 420.4L2117.4 419.0L2118.0 418.4L2118.5 416.3L2119.1 414.6L2119.7 417.3L2120.2 413.7L2120.8 414.1L2121.3 415.1L2121.9 412.7L2122.4 414.8L2123.0 417.1L2123.6 416.3L2124.1 414.9L2124.7 415.6L2125.2 414.3L2125.8 412.0L2126.4 414.8L2126.9 413.3L2127.5 415.3L2128.0 416.2L2128.6 413.0L2129.2 413.6L2129.8 414.4L2130.4 412.0L2130.9 410.5L2131.5 413.4L2132.1 414.1L2132.7 413.1L2133.3 412.3L2133.9 413.0L2134.5 411.6L2135.0 411.1L2135.6 409.6L2136.2 408.4L2136.8 410.1L2137.4 406.1L2138.0 407.5L2138.4 374.2L2138.9 408.4L2139.5 406.2L2140.1 402.2L2140.7 401.8L2141.3 400.4L2141.9 399.9L2142.6 382.9L2143.2 368.9L2143.9 354.9L2144.6 334.5L2145.3 358.4L2145.9 380.0L2146.6 398.4L2147.2 404.2L2147.8 412.4L2148.3 411.5L2148.9 419.8L2149.5 422.5L2150.1 431.6L2150.7 435.3L2151.3 435.3L2152.0 435.3L2152.6 441.0L2153.2 443.5L2153.8 443.8L2154.4 441.8L2155.0 441.9L2155.5 442.3L2156.1 439.6L2156.7 438.2L2157.3 440.9L2157.9 436.9L2158.5 440.8L2159.2 439.7L2159.8 442.9L2160.4 442.0" fill="none" stroke="#1f9080" stroke-width="2.3" stroke-linejoin="round" stroke-linecap="round" />
<path d="M1714.3 402.6L1715.6 403.0L1716.8 400.9L1718.1 399.4L1719.4 398.7L1720.6 397.7L1721.9 395.8L1723.1 395.2L1724.4 394.0L1725.6 393.2L1726.9 390.6L1728.2 388.4L1729.4 386.3L1730.7 385.1L1732.2 380.3L1733.8 374.5L1735.8 353.6L1737.9 325.7L1739.9 353.8L1742.0 376.0L1743.3 378.0L1744.5 381.0L1745.8 383.1L1747.1 384.9L1748.4 386.2L1749.7 387.9L1750.9 388.9L1752.2 391.6L1753.5 392.4L1754.8 394.7L1756.1 396.7L1757.4 398.0" fill="none" stroke="#5b36d6" stroke-width="2.3" stroke-linejoin="round" stroke-linecap="round" />
<path d="M1968.2 398.0L1968.7 430.0L1969.3 400.0L1969.9 437.0L1970.5 396.0L1971.2 443.0L1971.9 380.0L1972.7 351.9L1973.5 385.0L1974.2 443.0L1974.8 395.0L1975.5 443.0L1976.1 400.0L1976.5 420.0" fill="none" stroke="#5b36d6" stroke-width="2.2" stroke-linejoin="round" stroke-linecap="round" />
<path d="M2095.8 443.2L2097.5 425.0L2098.8 364.6L2100.1 425.0L2101.9 443.2" fill="none" stroke="#5b36d6" stroke-width="2.3" stroke-linejoin="round" stroke-linecap="round" />
<text x="1516.8" y="260.6" font-size="24.6" fill="#1f9080" textLength="73" lengthAdjust="spacingAndGlyphs"><tspan font-style="italic">Q</tspan> ≈ 23</text>
<text x="1521.5" y="290.4" font-size="24.6" fill="#1f9080" text-anchor="start" font-weight="normal" font-style="normal" textLength="64.2" lengthAdjust="spacingAndGlyphs" >15 dB</text>
<text x="1660" y="299.6" font-size="24.6" fill="#5b36d6" textLength="72.7" lengthAdjust="spacingAndGlyphs"><tspan font-style="italic">Q</tspan> ≈ 77</text>
<text x="1671.2" y="329.3" font-size="24.6" fill="#5b36d6" text-anchor="start" font-weight="normal" font-style="normal" textLength="49.8" lengthAdjust="spacingAndGlyphs" >4 dB</text>
<text x="1753.7" y="256.5" font-size="24.6" fill="#1f9080" textLength="73" lengthAdjust="spacingAndGlyphs"><tspan font-style="italic">Q</tspan> ≈ 95</text>
<text x="1758.4" y="286.3" font-size="24.6" fill="#1f9080" text-anchor="start" font-weight="normal" font-style="normal" textLength="64.6" lengthAdjust="spacingAndGlyphs" >13 dB</text>
<text x="1374.5" y="397" font-size="24.6" fill="#000" text-anchor="start" font-weight="normal" font-style="normal" textLength="166.9" lengthAdjust="spacingAndGlyphs" >Rough vacuum</text>
<text x="1401.5" y="426.8" font-size="24.6" fill="#000" text-anchor="start" font-weight="normal" font-style="normal" textLength="112.4" lengthAdjust="spacingAndGlyphs" >(1.15 Torr)</text>
<rect x="2065.4" y="264.3" width="42.6" height="7" fill="#1f9080"/>
<rect x="2065.4" y="292.6" width="42.6" height="7" fill="#5b36d6"/>
<text x="2120" y="276.0" font-size="24.6" fill="#1f9080" text-anchor="start" font-weight="normal" font-style="italic" >Y</text>
<text x="2119" y="304.3" font-size="24.6" fill="#5b36d6" text-anchor="start" font-weight="normal" font-style="italic" >X</text>
<path d="M1358.3 456.3 L1358.3 655.2 L2161.5 655.2" fill="none" stroke="#333" stroke-width="1.6"/>
<line x1="1358.3" y1="495.4" x2="1366.3" y2="495.4" stroke="#333" stroke-width="1.4"/>
<text x="1344.5" y="503.2" font-size="24.6" fill="#000" text-anchor="end" font-weight="normal" font-style="normal" >20</text>
<line x1="1358.3" y1="575.4" x2="1366.3" y2="575.4" stroke="#333" stroke-width="1.4"/>
<text x="1344.5" y="583.1999999999999" font-size="24.6" fill="#000" text-anchor="end" font-weight="normal" font-style="normal" >0</text>
<line x1="1391.4" y1="655.2" x2="1391.4" y2="650.7" stroke="#333" stroke-width="1.4"/>
<line x1="1438.5" y1="655.2" x2="1438.5" y2="650.7" stroke="#333" stroke-width="1.4"/>
<line x1="1471.9" y1="655.2" x2="1471.9" y2="650.7" stroke="#333" stroke-width="1.4"/>
<line x1="1497.8" y1="655.2" x2="1497.8" y2="650.7" stroke="#333" stroke-width="1.4"/>
<line x1="1519.0" y1="655.2" x2="1519.0" y2="650.7" stroke="#333" stroke-width="1.4"/>
<line x1="1536.9" y1="655.2" x2="1536.9" y2="650.7" stroke="#333" stroke-width="1.4"/>
<line x1="1552.4" y1="655.2" x2="1552.4" y2="650.7" stroke="#333" stroke-width="1.4"/>
<line x1="1566.1" y1="655.2" x2="1566.1" y2="650.7" stroke="#333" stroke-width="1.4"/>
<line x1="1578.3" y1="655.2" x2="1578.3" y2="646.2" stroke="#333" stroke-width="1.4"/>
<line x1="1658.8" y1="655.2" x2="1658.8" y2="650.7" stroke="#333" stroke-width="1.4"/>
<line x1="1705.9" y1="655.2" x2="1705.9" y2="650.7" stroke="#333" stroke-width="1.4"/>
<line x1="1739.3" y1="655.2" x2="1739.3" y2="650.7" stroke="#333" stroke-width="1.4"/>
<line x1="1765.2" y1="655.2" x2="1765.2" y2="650.7" stroke="#333" stroke-width="1.4"/>
<line x1="1786.4" y1="655.2" x2="1786.4" y2="650.7" stroke="#333" stroke-width="1.4"/>
<line x1="1804.3" y1="655.2" x2="1804.3" y2="650.7" stroke="#333" stroke-width="1.4"/>
<line x1="1819.8" y1="655.2" x2="1819.8" y2="650.7" stroke="#333" stroke-width="1.4"/>
<line x1="1833.5" y1="655.2" x2="1833.5" y2="650.7" stroke="#333" stroke-width="1.4"/>
<line x1="1845.7" y1="655.2" x2="1845.7" y2="646.2" stroke="#333" stroke-width="1.4"/>
<line x1="1926.2" y1="655.2" x2="1926.2" y2="650.7" stroke="#333" stroke-width="1.4"/>
<line x1="1973.3" y1="655.2" x2="1973.3" y2="650.7" stroke="#333" stroke-width="1.4"/>
<line x1="2006.7" y1="655.2" x2="2006.7" y2="650.7" stroke="#333" stroke-width="1.4"/>
<line x1="2032.6" y1="655.2" x2="2032.6" y2="650.7" stroke="#333" stroke-width="1.4"/>
<line x1="2053.8" y1="655.2" x2="2053.8" y2="650.7" stroke="#333" stroke-width="1.4"/>
<line x1="2071.7" y1="655.2" x2="2071.7" y2="650.7" stroke="#333" stroke-width="1.4"/>
<line x1="2087.2" y1="655.2" x2="2087.2" y2="650.7" stroke="#333" stroke-width="1.4"/>
<line x1="2100.9" y1="655.2" x2="2100.9" y2="650.7" stroke="#333" stroke-width="1.4"/>
<line x1="2113.1" y1="655.2" x2="2113.1" y2="646.2" stroke="#333" stroke-width="1.4"/>
<text x="1344.5" y="663" font-size="24.6" fill="#000" text-anchor="end" font-weight="normal" font-style="normal" >−20</text>
<text x="1251.9" y="560" font-size="24.6" text-anchor="middle" textLength="151.4" lengthAdjust="spacingAndGlyphs" transform="rotate(-90 1251.9 560)">Enhancement</text>
<text x="1282" y="560" font-size="24.6" text-anchor="middle" textLength="43" lengthAdjust="spacingAndGlyphs" transform="rotate(-90 1282 560)">(dB)</text>
<path d="M1358.3 581.2L1359.1 578.2L1359.8 576.7L1360.6 578.8L1361.3 575.3L1362.1 581.2L1362.8 577.1L1363.6 581.3L1364.3 576.4L1365.1 577.3L1365.9 576.2L1366.6 577.6L1367.4 575.6L1368.1 574.0L1368.9 580.1L1369.6 576.3L1370.4 576.0L1371.2 576.5L1371.9 577.9L1372.7 577.5L1373.4 579.2L1374.2 579.4L1374.9 576.9L1375.7 581.6L1376.5 580.9L1377.2 574.2L1378.0 580.7L1378.7 581.3L1379.5 580.3L1380.2 574.8L1381.0 580.6L1381.7 578.9L1382.5 573.7L1383.3 573.7L1384.0 581.5L1384.8 579.0L1385.5 575.6L1386.3 574.3L1387.0 574.7L1387.8 575.4L1388.5 579.9L1389.3 576.3L1390.1 574.6L1390.8 580.9L1391.6 580.0L1392.3 574.7L1393.1 580.8L1393.8 578.4L1394.6 579.8L1395.4 578.8L1396.1 580.7L1396.9 579.8L1397.6 580.2L1398.4 574.8L1399.1 578.9L1399.9 577.5L1400.7 579.3L1401.4 576.7L1402.2 580.4L1402.9 577.6L1403.7 575.2L1404.4 574.9L1405.2 574.1L1405.9 577.0L1406.7 573.4L1407.5 576.8L1408.2 574.0L1409.0 576.9L1409.7 577.0L1410.5 577.3L1411.2 580.0L1412.0 572.8L1412.8 579.8L1413.5 576.6L1414.3 577.4L1415.0 578.2L1415.8 579.7L1416.5 575.7L1417.3 576.1L1418.0 580.6L1418.8 573.1L1419.6 577.8L1420.3 577.5L1421.1 573.8L1421.8 577.3L1422.6 577.7L1423.3 579.2L1424.1 575.5L1424.8 579.4L1425.6 576.6L1426.4 576.4L1427.1 578.9L1427.9 573.6L1428.6 577.7L1429.4 577.2L1430.1 575.4L1430.9 578.5L1431.7 575.5L1432.4 576.2L1433.2 576.4L1433.9 577.9L1434.7 574.5L1435.4 575.8L1436.2 575.7L1437.0 576.5L1437.7 578.1L1438.5 574.9L1439.2 578.1L1440.0 575.5L1440.7 576.1L1441.5 574.7L1442.2 576.1L1443.0 578.8L1443.8 576.9L1444.5 577.7L1445.2 574.9L1446.0 574.8L1446.8 574.6L1447.5 576.3L1448.2 576.6L1449.0 577.5L1449.8 573.0L1450.5 577.0L1451.2 578.0L1452.0 575.9L1452.8 572.9L1453.5 574.4L1454.2 572.6L1455.0 573.6L1455.8 578.0L1456.5 576.1L1457.2 576.4L1458.0 577.1L1458.8 577.8L1459.5 576.0L1460.2 576.0L1461.0 576.0L1461.8 576.4L1462.5 575.8L1463.2 576.2L1464.0 573.4L1464.8 576.1L1465.5 574.8L1466.2 576.6L1467.0 572.6L1467.8 573.1L1468.5 572.2L1469.2 576.6L1470.0 577.4L1470.8 575.8L1471.5 574.0L1472.2 576.7L1473.0 576.5L1473.8 575.1L1474.5 573.2L1475.2 573.5L1476.0 574.2L1476.8 573.5L1477.5 574.1L1478.2 575.4L1479.0 577.1L1479.8 571.8L1480.5 574.8L1481.2 571.6L1482.0 572.1L1482.8 576.2L1483.5 574.8L1484.2 576.8L1485.0 573.9L1485.8 571.3L1486.5 573.5L1487.2 574.7L1488.0 576.8L1488.8 577.0L1489.5 573.9L1490.2 573.5L1491.0 571.6L1491.8 574.8L1492.5 572.2L1493.2 571.8L1494.0 571.0L1494.8 570.9L1495.5 574.9L1496.2 571.5L1497.0 576.5L1497.8 571.2L1498.5 575.9L1499.2 571.4L1500.0 571.3L1500.8 574.6L1501.5 572.3L1502.2 574.7L1503.0 572.0L1503.8 571.3L1504.5 574.8L1505.2 574.4L1506.0 575.1L1506.8 574.4L1507.5 571.3L1508.2 573.9L1509.0 574.3L1509.8 573.0L1510.5 575.3L1511.2 572.0L1512.0 575.4L1512.8 574.1L1513.5 570.7L1514.2 570.7L1515.0 573.7L1515.8 574.4L1516.5 570.8L1517.2 571.9L1518.0 573.8L1518.8 571.0L1519.5 574.3L1520.2 572.4L1521.0 570.3L1521.8 571.7L1522.5 572.6L1523.2 571.9L1524.0 572.9L1524.8 570.3L1525.5 573.4L1526.2 571.2L1527.0 572.5L1527.8 572.3L1528.5 571.3L1529.2 571.0L1530.0 572.9L1530.8 573.6L1531.5 572.7L1532.2 571.6L1533.0 570.2L1533.8 569.0L1534.5 573.3L1535.2 572.0L1536.0 572.5L1536.8 570.0L1537.5 571.3L1538.2 573.0L1539.0 572.2L1539.8 571.0L1540.5 569.5L1541.2 570.0L1542.0 572.2L1542.8 569.6L1543.5 571.0L1544.2 570.6L1545.0 571.9L1545.8 571.3L1546.5 568.7L1547.3 567.2L1548.1 568.3L1548.8 568.9L1549.6 569.5L1550.3 570.5L1551.1 570.7L1551.9 566.5L1552.6 570.1L1553.4 569.9L1554.2 570.0L1554.9 568.4L1555.7 566.8L1556.4 569.5L1557.2 569.1L1558.0 568.4L1558.7 569.3L1559.5 566.5L1560.3 565.0L1561.0 567.1L1561.8 568.2L1562.5 565.2L1563.3 567.6L1563.1 591.6L1563.3 568.0L1564.1 568.4L1564.8 564.9L1565.6 566.0L1565.6 566.1L1566.8 565.8L1568.1 565.1L1569.3 564.5L1570.5 564.1L1571.8 564.2L1573.0 563.8L1574.2 563.1L1575.4 562.3L1576.7 562.6L1577.9 562.2L1579.3 560.6L1580.6 559.9L1582.0 559.2L1583.4 558.2L1584.7 556.8L1586.1 555.7L1587.3 554.1L1588.6 552.1L1589.8 550.5L1591.1 548.8L1592.3 547.7L1593.7 544.0L1595.0 540.8L1596.4 537.2L1597.9 529.1L1599.4 520.5L1600.9 495.8L1601.7 456.8L1602.7 496.2L1604.6 526.6L1606.0 534.0L1607.3 541.0L1608.7 547.2L1610.1 550.5L1611.5 553.1L1613.0 556.2L1614.4 558.5L1615.8 561.4L1617.1 563.8L1618.3 565.0L1619.6 566.0L1620.8 567.4L1622.1 568.5L1623.3 570.4L1624.6 571.4L1625.8 573.3L1627.1 574.5L1628.4 575.5L1629.7 576.7L1631.0 577.0L1632.2 577.8L1633.5 579.0L1634.8 580.0L1636.1 581.0L1637.4 582.0L1638.7 583.5L1640.0 584.8L1641.2 585.4L1642.5 586.9L1643.8 587.9L1645.0 588.1L1646.3 589.7L1647.6 590.5L1648.8 590.9L1650.1 592.5L1651.3 592.5L1652.5 593.5L1653.8 594.3L1655.0 595.4L1656.2 595.8L1657.4 596.3L1658.7 597.0L1659.9 597.5L1661.1 599.2L1662.4 600.1L1663.6 600.3L1664.8 601.0L1666.1 602.2L1667.3 603.2L1668.5 604.6L1669.7 605.6L1671.0 606.4L1672.2 606.5L1673.4 608.3L1674.7 609.3L1675.9 610.2L1677.1 611.6L1678.3 611.7L1679.6 612.8L1680.8 614.5L1682.0 615.7L1683.3 616.4L1684.5 617.1L1685.8 618.9L1687.1 620.6L1688.4 621.5L1689.7 623.3L1690.9 624.7L1692.2 626.1L1693.5 628.0L1694.8 629.3L1696.0 631.7L1697.2 634.0L1698.4 636.9L1699.6 638.6L1700.8 641.7L1702.0 643.6L1703.4 647.2L1704.7 651.9L1706.1 655.2" fill="none" stroke="#1fa9b9" stroke-width="2.3" stroke-linejoin="round" stroke-linecap="round" />
<path d="M1711.2 654.9L1712.6 651.2L1713.9 646.7L1715.3 642.3L1716.7 639.1L1718.0 637.0L1719.4 634.3L1720.8 632.7L1722.1 630.2L1723.5 627.6L1724.8 626.4L1726.1 625.3L1727.4 624.7L1728.7 623.4L1729.9 622.5L1731.2 621.0L1732.5 620.0L1733.8 618.9L1735.0 618.8L1736.3 617.9L1737.5 616.8L1738.7 616.8L1739.9 615.5L1741.2 614.9L1742.4 613.9L1743.6 613.3L1744.9 613.2L1746.1 611.9L1747.3 611.3L1748.5 611.1L1749.7 610.4L1750.9 610.5L1752.1 609.2L1753.3 609.6L1754.6 607.9L1755.8 608.1L1757.1 607.1L1758.3 605.9L1759.6 605.5L1760.9 604.6L1762.1 603.9L1763.4 603.1L1764.7 602.5L1765.9 602.4L1767.2 601.7L1768.4 600.9L1769.7 599.4L1771.1 598.6L1772.4 598.2L1773.8 596.4L1774.8 586.7L1776.3 586.3L1777.9 587.0L1779.2 582.4L1780.5 579.7L1781.7 575.6L1783.0 571.8L1784.5 561.4L1786.1 551.9L1787.5 482.9L1788.9 551.3L1790.6 565.9L1792.2 580.8L1793.4 582.9L1794.6 585.9L1795.8 588.2L1797.0 591.0L1798.2 594.3L1799.4 597.0L1800.7 597.9L1801.9 599.1L1803.2 600.5L1804.4 602.4L1805.7 603.6L1806.9 604.8L1808.2 606.1L1809.4 607.8L1810.7 609.3L1812.0 610.9L1813.3 612.1L1814.6 613.2L1816.0 614.5L1817.3 616.6L1818.6 617.8L1819.9 619.5L1822.0 616.5L1823.3 618.7L1824.6 619.8L1825.9 621.8L1827.3 623.3L1828.6 624.5L1829.9 625.5L1831.2 627.9L1832.6 629.2L1833.9 631.3L1835.3 632.4L1836.7 634.1L1838.0 636.4L1839.4 637.7L1840.8 640.9L1842.3 644.6L1843.7 648.3L1845.2 651.2L1846.6 655.2" fill="none" stroke="#1fa9b9" stroke-width="2.3" stroke-linejoin="round" stroke-linecap="round" />
<path d="M1857.8 655.2L1859.2 651.4L1860.6 647.7L1862.0 643.4L1863.2 642.7L1864.5 641.4L1865.7 640.0L1866.9 638.0L1868.2 637.0L1869.4 635.2L1870.6 634.2L1871.8 631.9L1873.1 631.5L1874.3 630.1L1875.5 628.8L1876.8 628.0L1878.0 627.2L1879.2 626.4L1880.4 624.9L1881.7 625.2L1882.9 623.5L1884.1 622.7L1885.4 621.7L1886.6 621.1L1887.8 621.0L1889.1 619.2L1890.3 618.5L1891.5 618.4L1892.8 616.9L1894.0 615.9L1895.2 615.8L1896.4 614.9L1897.7 614.0L1898.9 613.4L1900.2 611.2L1901.5 610.6L1902.7 608.8L1904.0 606.5L1905.3 605.1L1906.5 604.0L1907.8 602.4L1909.1 600.6L1910.3 597.6L1911.6 595.0L1912.8 591.8L1914.1 589.5L1915.3 586.9L1916.8 576.9L1918.4 568.2L1920.4 509.9L1922.5 567.7L1924.0 580.8L1925.5 593.2L1926.9 596.0L1928.2 599.4L1929.6 603.4L1931.0 606.4L1932.3 609.7L1933.7 613.7L1935.0 614.7L1936.3 615.2L1937.6 616.2L1938.9 617.5L1940.2 618.7L1941.6 620.5L1942.9 621.4L1944.2 622.6L1945.5 623.6L1946.8 624.8L1948.1 625.0L1949.4 626.4L1950.6 627.8L1951.9 628.6L1953.1 628.7L1954.4 629.8L1955.7 630.9L1956.9 631.4L1958.2 632.5L1959.5 632.8L1960.7 634.1L1962.0 635.1L1963.2 635.4L1964.5 636.4L1965.7 638.3L1967.0 639.0L1968.2 640.1L1969.4 640.6L1970.7 641.8L1971.9 642.8L1973.1 643.7L1974.3 643.6L1975.6 645.2L1976.8 645.7L1978.0 647.7L1979.2 648.8L1980.4 650.7L1981.6 652.6L1982.8 653.8L1984.0 655.2" fill="none" stroke="#1fa9b9" stroke-width="2.3" stroke-linejoin="round" stroke-linecap="round" />
<path d="M1992.2 655.2L1993.5 646.2L1994.8 637.2L1996.0 628.3L1997.3 619.3L1999.4 532.2L2001.4 619.3L2002.6 622.2L2003.9 624.6L2005.1 628.0L2006.4 630.7L2007.6 634.5L2008.8 634.1L2010.1 635.0L2011.3 636.4L2012.5 636.3L2013.8 638.0L2015.0 639.4L2016.2 639.5L2017.4 639.8L2018.7 641.0L2019.9 642.0L2021.2 642.0L2022.5 642.7L2023.8 643.5L2025.1 644.5L2026.4 645.5L2027.7 646.0L2029.0 646.7L2030.3 647.1L2031.6 648.7L2032.9 650.0L2034.2 650.3L2035.6 651.1L2036.9 652.1L2038.3 652.1L2039.7 653.9L2041.0 654.3L2042.4 655.2" fill="none" stroke="#1fa9b9" stroke-width="2.3" stroke-linejoin="round" stroke-linecap="round" />
<path d="M2054.7 655.2L2058.4 609.1L2059.9 543.4L2061.3 609.1L2064.0 637.8L2066.0 655.2L2066.8 640.0L2067.6 655.2L2068.6 644.0L2069.4 655.2L2070.5 648.0L2071.3 655.2" fill="none" stroke="#1fa9b9" stroke-width="2.0" stroke-linejoin="round" stroke-linecap="round" />
<path d="M2092.5 653.5L2093.3 655.0" fill="none" stroke="#1fa9b9" stroke-width="2" stroke-linejoin="round" stroke-linecap="round" />
<path d="M2102.9 655.2L2105.6 629.6L2107.0 562.3L2108.5 629.6L2110.1 655.2" fill="none" stroke="#1fa9b9" stroke-width="2.0" stroke-linejoin="round" stroke-linecap="round" />
<path d="M2138.8 655.2L2140.5 626.5L2141.9 650.0L2145.0 629.6L2147.2 550.6L2149.5 629.6L2154.2 655.2" fill="none" stroke="#1fa9b9" stroke-width="2.0" stroke-linejoin="round" stroke-linecap="round" />
<path d="M1727.6 645.4L1727.8 621.9L1728.1 637.8L1728.3 618.8L1728.6 635.6L1728.8 609.7L1729.1 639.7L1729.3 620.5L1729.6 630.3L1729.8 623.4L1730.1 651.7L1730.3 599.1L1730.6 644.0L1730.8 594.5L1731.1 637.2L1731.3 604.7L1731.6 637.4L1731.8 624.5L1732.1 634.0L1732.3 615.9L1732.6 652.0L1732.8 587.7L1733.1 631.6L1733.3 602.6L1733.6 641.1L1733.8 600.5L1734.1 632.8L1734.3 614.4L1734.6 654.2L1734.8 594.0L1735.1 633.9L1735.3 614.5L1735.6 638.9L1735.8 598.5L1736.1 645.5L1736.3 612.0L1736.6 650.7L1736.8 619.0L1737.1 648.6L1737.3 605.7L1737.6 649.1L1737.8 614.7L1738.1 649.8L1738.3 604.0L1738.6 653.1L1738.8 613.3L1739.1 651.9L1739.3 590.1L1739.6 649.3L1739.8 585.2L1740.1 642.5L1740.3 608.4L1740.6 644.4L1740.8 623.5L1741.1 649.7L1741.3 601.7L1741.6 645.3L1741.8 619.9L1742.1 641.4L1742.3 615.2L1742.6 648.2L1742.8 618.3L1743.1 639.8L1743.3 611.7L1743.6 639.7L1743.8 622.2" fill="none" stroke="#7865ee" stroke-width="1.8" stroke-linejoin="round" stroke-linecap="round" />
<path d="M1735.0 600.0L1735.8 560.0L1736.2 513.7L1736.7 560.0L1737.5 600.0" fill="none" stroke="#7865ee" stroke-width="2" stroke-linejoin="round" stroke-linecap="round" />
<path d="M1967.6 655.2 L1971.3 640 L1972.7 578.3 L1974.1 640 L1977.8 655.2Z" fill="#7865ee" stroke="#7865ee" stroke-width="1.5" stroke-linejoin="round"/>
<path d="M2100.9 655.2L2100.9 605.4" fill="none" stroke="#7865ee" stroke-width="2.2" stroke-linejoin="round" stroke-linecap="round" />
<text x="1473.7" y="472.7" font-size="24.6" fill="#1fa9b9" textLength="122.7" lengthAdjust="spacingAndGlyphs"><tspan font-style="italic">Q</tspan> ≈ 10,020</text>
<text x="1503" y="501.4" font-size="24.6" fill="#1fa9b9" text-anchor="start" font-weight="normal" font-style="normal" textLength="64.2" lengthAdjust="spacingAndGlyphs" >30 dB</text>
<text x="1635.3" y="472.7" font-size="24.6" fill="#7865ee" textLength="121" lengthAdjust="spacingAndGlyphs"><tspan font-style="italic">Q</tspan> ≈ 11,000</text>
<text x="1664" y="504.5" font-size="24.6" fill="#7865ee" text-anchor="start" font-weight="normal" font-style="normal" textLength="64" lengthAdjust="spacingAndGlyphs" >16 dB</text>
<text x="1787.7" y="474.7" font-size="24.6" fill="#1fa9b9" textLength="107.5" lengthAdjust="spacingAndGlyphs"><tspan font-style="italic">Q</tspan> ≈ 6,800</text>
<text x="1808.2" y="504.5" font-size="24.6" fill="#1fa9b9" text-anchor="start" font-weight="normal" font-style="normal" textLength="65.6" lengthAdjust="spacingAndGlyphs" >23 dB</text>
<text x="1379.4" y="612.1" font-size="24.6" fill="#000" text-anchor="start" font-weight="normal" font-style="normal" textLength="145.2" lengthAdjust="spacingAndGlyphs" >High vacuum</text>
<text x="1384.1" y="642.9" font-size="24.6" fill="#000" text-anchor="start" font-weight="normal" font-style="normal" textLength="136" lengthAdjust="spacingAndGlyphs" >(&lt;0.1 mTorr)</text>
<rect x="2065.4" y="482.1" width="42.6" height="7" fill="#1fa9b9"/>
<rect x="2065.4" y="510.20000000000005" width="42.6" height="7" fill="#7865ee"/>
<text x="2120" y="493.8" font-size="24.6" fill="#1fa9b9" text-anchor="start" font-weight="normal" font-style="italic" >Y</text>
<text x="2119" y="521.9000000000001" font-size="24.6" fill="#7865ee" text-anchor="start" font-weight="normal" font-style="italic" >X</text>
<text x="1561.1" y="689" font-size="24.6">10<tspan font-size="14.5" dy="-10">3</tspan></text>
<text x="1829.0" y="689" font-size="24.6">10<tspan font-size="14.5" dy="-10">4</tspan></text>
<text x="2096.0" y="689" font-size="24.6">10<tspan font-size="14.5" dy="-10">5</tspan></text>
<text x="1677" y="725.5" font-size="24.6" fill="#000" text-anchor="start" font-weight="normal" font-style="normal" textLength="167.4" lengthAdjust="spacingAndGlyphs" >Frequency (Hz)</text>
<text x="1232" y="770.3" font-size="34" fill="#000" text-anchor="start" font-weight="bold" font-style="normal" textLength="8" lengthAdjust="spacingAndGlyphs" >i</text>
<text x="1364.6" y="793.9" font-size="24.6" fill="#000" text-anchor="start" font-weight="normal" font-style="normal" textLength="280.4" lengthAdjust="spacingAndGlyphs" >Cryo (6.9K), high vacuum</text>
<g clip-path="url(#ci)">
<path d="M1334.7 949.2L1335.2 943.8L1335.7 953.2L1336.2 939.6L1336.7 992.3L1337.2 957.0L1337.7 925.7L1338.2 999.0L1338.7 958.1L1339.2 1003.6L1339.7 961.5L1340.2 956.5L1340.7 993.5L1341.2 941.3L1341.7 965.1L1342.2 975.9L1342.7 951.5L1343.2 935.4L1343.7 943.1L1344.2 966.5L1344.7 956.8L1345.2 961.2L1345.7 949.3L1345.7 921.8L1346.2 934.6L1346.7 963.3L1347.2 947.8L1347.7 997.8L1348.2 954.4L1348.7 967.4L1349.2 955.5L1349.7 953.4L1350.2 942.3L1350.7 953.1L1351.2 950.1L1351.7 963.3L1352.2 962.1L1352.7 948.8L1353.2 971.4L1353.7 965.0L1354.2 974.5L1354.7 930.0L1355.2 957.1L1355.7 940.0L1356.2 972.4L1356.7 949.4L1357.2 971.3L1357.7 947.9L1358.2 952.6L1358.7 953.2L1359.2 951.7L1359.7 938.6L1360.2 930.5L1360.7 993.4L1361.2 957.4L1361.7 949.0L1362.2 974.5L1362.7 971.6L1363.2 964.1L1363.7 996.4L1364.2 937.8L1364.7 941.3L1365.2 952.6L1365.7 961.1L1366.2 958.3L1366.7 968.5L1367.2 988.1L1367.7 941.6L1368.2 972.7L1368.7 945.4L1369.2 972.2L1369.7 997.1L1370.2 966.3L1370.7 982.7L1371.2 1013.1L1371.7 924.7L1372.2 940.0L1372.7 944.3L1373.2 951.2L1373.7 957.0L1374.2 942.3L1374.7 942.5L1375.2 945.5L1375.7 944.8L1376.2 954.9L1376.7 956.4L1377.2 954.2L1377.7 958.1L1378.2 963.7L1378.7 936.2L1379.2 944.3L1379.7 953.8L1380.2 953.6L1380.7 962.0L1381.2 940.9L1381.7 958.8L1382.2 948.8L1382.7 936.1L1383.2 962.4L1383.7 1000.6L1384.2 970.2L1384.7 955.6L1385.2 971.7L1385.7 950.3L1386.2 965.7L1386.7 953.9L1387.2 957.5L1387.7 964.6L1388.2 962.8L1388.7 941.8L1388.9 911.0L1389.2 949.9L1389.7 968.2L1390.2 940.0L1390.7 998.8L1391.2 960.9L1391.7 947.3L1392.2 941.0L1392.7 951.2L1393.2 900.5L1393.7 976.6L1394.2 936.8L1394.5 901.1L1394.7 966.2L1395.2 932.6L1395.7 983.4L1396.2 954.2L1396.7 982.3L1397.2 925.1L1397.7 949.0L1398.2 986.5L1398.7 984.5L1399.2 981.1L1399.7 968.2L1400.2 984.5L1400.7 964.2L1401.2 958.6L1401.7 954.3L1402.2 949.7L1402.7 964.3L1403.2 1002.9L1403.7 964.8L1404.2 963.8L1404.7 957.7L1405.2 955.3L1405.7 950.8L1406.2 939.8L1406.7 978.6L1407.2 961.3L1407.7 949.0L1408.2 968.4L1408.7 960.9L1409.2 964.2L1409.7 934.4L1410.2 950.7L1410.7 990.9L1411.2 945.2L1411.7 952.5L1412.2 975.0L1412.7 950.8L1413.2 944.6L1413.7 908.8L1414.2 952.9L1414.7 965.7L1415.2 948.8L1415.7 922.3L1416.2 979.9L1416.7 954.2L1417.2 952.7L1417.7 931.6L1418.2 924.0L1418.7 934.0L1419.2 909.4L1419.7 944.5L1420.2 993.0L1420.7 937.6L1421.2 931.7L1421.7 941.1L1422.2 940.9L1422.7 914.8L1422.9 914.9L1423.2 939.9L1423.7 963.2L1424.2 968.8L1424.7 954.7L1425.2 935.4L1425.7 946.2L1426.2 947.8L1426.7 949.3L1427.2 940.9L1427.7 923.2L1428.2 937.0L1428.7 942.4L1429.2 957.0L1429.7 941.5L1430.2 940.1L1430.7 994.4L1431.2 956.4L1431.7 964.0L1432.2 950.7L1432.7 951.1L1433.2 939.9L1433.7 952.3L1434.2 948.6L1434.7 944.9L1435.2 934.1L1435.7 933.4L1436.2 942.1L1436.7 931.5L1437.2 978.9L1437.7 940.2L1438.2 909.0L1438.7 932.3L1439.2 938.2L1439.7 964.2L1440.2 985.2L1440.7 942.5L1441.2 935.4L1441.7 922.0L1442.2 935.6L1442.7 963.1L1442.7 894.2L1443.2 937.6L1443.7 943.6L1444.2 944.4L1444.7 944.4L1445.2 921.7L1445.7 922.7L1446.2 914.5L1446.7 940.3L1447.2 981.5L1447.7 928.3L1448.2 949.0L1448.7 936.7L1449.2 949.6L1449.6 918.7L1449.7 928.3L1450.2 906.8L1450.7 919.1L1451.2 958.9L1451.7 951.7L1452.2 943.8L1452.7 926.8L1453.2 934.6L1453.7 978.4L1454.2 921.2L1454.7 980.2L1455.2 996.2L1455.7 931.9L1456.2 977.1L1456.7 941.7L1457.2 946.6L1457.7 952.8L1458.2 931.2L1458.7 933.6L1459.2 977.4L1459.7 940.3L1460.2 930.8L1460.7 946.8L1461.2 926.2L1461.7 974.2L1462.2 936.2L1462.7 935.8L1463.2 927.0L1463.7 906.9L1464.2 930.0L1464.7 935.9L1465.2 938.4L1465.7 933.1L1466.2 944.1L1466.7 947.4L1467.2 942.1L1467.7 941.2L1468.2 951.2L1468.7 928.6L1469.2 945.1L1469.7 929.2L1470.2 896.0L1470.7 923.4L1471.2 929.9L1471.7 929.9L1472.2 920.6L1472.7 928.8L1473.2 945.4L1473.7 915.2L1474.2 951.9L1474.7 953.0L1475.2 928.8L1475.7 959.1L1476.2 948.5L1476.7 916.4L1477.2 956.5L1477.7 915.8L1478.2 917.0L1478.7 926.7L1479.2 934.0L1479.7 916.8L1480.2 917.2L1480.7 915.4L1481.2 923.7L1481.7 955.4L1482.2 940.5L1482.7 930.2L1483.2 910.1L1483.7 920.8L1484.2 948.6L1484.7 919.6L1485.2 952.6L1485.7 937.6L1485.9 908.7L1486.2 925.4L1486.7 957.6L1487.2 903.4L1487.7 917.8L1488.2 910.4L1488.7 906.8L1489.2 913.1L1489.7 919.6L1490.2 905.7L1490.7 893.0L1491.2 902.0L1491.7 957.2L1492.2 930.4L1492.7 937.2L1493.2 927.5L1493.7 906.7L1494.2 957.2L1494.7 910.6L1495.2 949.1L1495.7 911.1L1496.2 910.4L1496.7 918.9L1497.2 901.8L1497.7 913.3L1498.2 921.5L1498.7 942.6L1499.2 932.6L1499.7 904.7L1500.2 895.9L1500.7 905.2L1501.2 881.3L1501.7 897.5L1502.2 888.4L1502.7 899.8L1503.2 886.7L1503.7 892.1L1504.2 888.4L1504.7 883.8L1505.2 877.8L1505.7 861.0L1506.2 872.3L1506.7 853.0L1507.2 837.9L1507.7 831.3L1508.2 816.7L1508.7 812.9L1509.2 828.1L1509.7 837.2L1510.2 845.5L1510.7 865.2L1511.2 854.5L1511.7 889.3L1512.2 872.4L1512.7 923.5L1513.2 904.0L1513.7 890.0L1514.2 882.6L1514.7 919.3L1515.2 923.9L1515.7 907.1L1516.2 915.0L1516.7 967.3L1517.2 905.0L1517.7 916.5L1518.2 911.2L1518.7 960.5L1519.2 901.8L1519.7 926.0L1520.2 929.8L1520.7 950.4L1521.2 960.4L1521.7 949.5L1522.2 986.2L1522.7 941.1L1523.2 944.8L1523.7 922.6L1524.2 945.8L1524.7 942.2L1525.2 935.6L1525.7 962.4L1526.2 998.6L1526.7 961.5L1527.2 934.9L1527.7 947.5L1528.2 937.4L1528.7 940.1L1529.2 943.7L1529.3 884.2L1529.7 950.2L1530.2 977.9L1530.7 956.7" fill="none" stroke="#21bccf" stroke-width="1.8" stroke-linejoin="round"/>
<path d="M1530.0 998.5L1530.0 975.2L1530.9 974.7L1531.8 960.5L1532.7 954.6L1533.6 948.5L1534.5 956.0L1535.4 942.2L1536.3 955.4L1537.2 945.7L1538.1 953.2L1539.0 961.9L1539.9 947.7L1540.8 940.7L1541.0 911.0L1541.7 944.5L1542.6 955.7L1543.5 957.3L1544.4 960.2L1545.3 940.7L1546.2 948.0L1547.0 914.9L1547.1 939.6L1548.0 951.2L1548.9 944.7L1549.8 943.3L1550.7 939.2L1551.6 950.8L1552.5 957.2L1553.4 957.6L1554.3 925.5L1555.2 947.8L1556.1 948.4L1557.0 955.3L1557.9 947.9L1558.8 937.8L1559.7 945.1L1560.6 955.8L1561.5 952.3L1562.4 952.4L1563.0 924.1L1563.3 927.5L1564.2 958.2L1565.1 947.7L1566.0 953.4L1566.9 943.6L1567.8 946.7L1568.7 923.5L1569.6 953.2L1570.5 957.3L1571.4 943.6L1572.3 939.5L1573.2 947.4L1574.1 936.1L1575.0 942.9L1575.9 940.4L1576.8 948.1L1577.7 953.4L1578.6 943.9L1579.5 953.3L1580.0 926.4L1580.4 953.9L1581.3 947.4L1582.2 943.3L1583.1 954.8L1584.0 946.9L1584.9 936.1L1585.8 932.1L1586.7 942.2L1587.6 935.6L1588.5 953.1L1589.4 937.0L1590.3 936.6L1591.2 949.1L1592.1 934.1L1593.0 947.9L1593.9 937.1L1594.8 936.3L1595.7 943.5L1597.0 934.0L1598.6 895.7L1599.6 834.4L1599.9 826.8L1600.4 865.1L1601.2 918.7L1603.0 937.9L1603.8 935.3L1604.7 944.9L1605.6 951.8L1606.5 925.7L1607.4 931.9L1608.3 944.5L1609.2 931.9L1610.1 954.2L1611.0 943.0L1611.9 952.7L1612.8 936.4L1613.7 949.8L1614.6 943.2L1615.5 941.9L1616.4 941.1L1617.3 933.6L1618.2 941.3L1619.1 944.0L1620.0 931.4L1620.9 934.1L1621.8 939.2L1622.7 941.0L1623.6 950.5L1624.5 938.3L1625.4 939.4L1626.3 942.8L1627.2 932.3L1628.1 951.2L1629.0 951.5L1629.9 948.5L1630.8 947.1L1631.7 949.3L1632.6 933.9L1633.5 949.0L1634.4 940.8L1635.0 922.5L1635.3 939.4L1636.2 928.4L1637.1 935.1L1638.0 933.1L1638.9 944.9L1639.8 928.8L1640.7 935.6L1641.6 940.8L1642.5 941.5L1643.4 933.6L1644.3 929.5L1645.2 944.3L1646.1 938.8L1647.0 942.0L1647.9 937.1L1648.8 932.2L1649.7 923.8L1650.6 925.6L1651.5 936.2L1652.4 931.5L1653.3 938.6L1654.2 934.0L1655.1 925.8L1656.0 934.9L1656.9 925.0L1657.8 937.3L1658.7 942.4L1659.6 935.4L1660.5 928.1L1661.4 925.8L1662.3 934.6L1663.2 936.7L1664.1 927.2L1665.0 922.6L1665.9 933.9L1666.8 933.7L1667.7 940.9L1668.6 935.5L1669.5 937.1L1670.4 937.2L1671.3 942.0L1672.2 929.0L1673.1 935.5L1674.0 941.7L1674.2 998.5Z" fill="#21bccf" stroke="#21bccf" stroke-width="1" stroke-linejoin="round"/>
<rect x="1601.3" y="968.5" width="1.3" height="40" fill="#fff" opacity="0.9"/>
<rect x="1564.6" y="946" width="9.4" height="52" fill="#5a3ae6"/>
<path d="M1566 948 L1568.3 940 L1569 857.2 L1569.7 940 L1572.5 948Z" fill="#5a3ae6" stroke="#5a3ae6" stroke-width="0.8"/>
</g>
<path d="M1334.7 803.7 L1334.7 995.5 L1674.2 995.5" fill="none" stroke="#333" stroke-width="1.3"/>
<line x1="1334.7" y1="803.8" x2="1338.7" y2="803.8" stroke="#333" stroke-width="1.2"/>
<line x1="1334.7" y1="880.4" x2="1338.7" y2="880.4" stroke="#333" stroke-width="1.2"/>
<line x1="1334.7" y1="957.0" x2="1338.7" y2="957.0" stroke="#333" stroke-width="1.2"/>
<line x1="1358.5" y1="995.5" x2="1358.5" y2="993.0" stroke="#333" stroke-width="1.2"/>
<line x1="1391.2" y1="995.5" x2="1391.2" y2="993.0" stroke="#333" stroke-width="1.2"/>
<line x1="1414.5" y1="995.5" x2="1414.5" y2="993.0" stroke="#333" stroke-width="1.2"/>
<line x1="1432.5" y1="995.5" x2="1432.5" y2="993.0" stroke="#333" stroke-width="1.2"/>
<line x1="1447.2" y1="995.5" x2="1447.2" y2="993.0" stroke="#333" stroke-width="1.2"/>
<line x1="1459.6" y1="995.5" x2="1459.6" y2="993.0" stroke="#333" stroke-width="1.2"/>
<line x1="1470.4" y1="995.5" x2="1470.4" y2="993.0" stroke="#333" stroke-width="1.2"/>
<line x1="1479.9" y1="995.5" x2="1479.9" y2="993.0" stroke="#333" stroke-width="1.2"/>
<line x1="1488.4" y1="995.5" x2="1488.4" y2="990.5" stroke="#333" stroke-width="1.2"/>
<line x1="1488.4" y1="995.5" x2="1488.4" y2="990.5" stroke="#333" stroke-width="1.2"/>
<line x1="1544.3" y1="995.5" x2="1544.3" y2="993.0" stroke="#333" stroke-width="1.2"/>
<line x1="1577.0" y1="995.5" x2="1577.0" y2="993.0" stroke="#333" stroke-width="1.2"/>
<line x1="1600.3" y1="995.5" x2="1600.3" y2="993.0" stroke="#333" stroke-width="1.2"/>
<line x1="1618.3" y1="995.5" x2="1618.3" y2="993.0" stroke="#333" stroke-width="1.2"/>
<line x1="1633.0" y1="995.5" x2="1633.0" y2="993.0" stroke="#333" stroke-width="1.2"/>
<line x1="1645.4" y1="995.5" x2="1645.4" y2="993.0" stroke="#333" stroke-width="1.2"/>
<line x1="1656.2" y1="995.5" x2="1656.2" y2="993.0" stroke="#333" stroke-width="1.2"/>
<line x1="1665.7" y1="995.5" x2="1665.7" y2="993.0" stroke="#333" stroke-width="1.2"/>
<line x1="1674.2" y1="995.5" x2="1674.2" y2="990.5" stroke="#333" stroke-width="1.2"/>
<text x="1321.5" y="811.5" font-size="24.6" fill="#000" text-anchor="end" font-weight="normal" font-style="normal" >20</text>
<text x="1321.5" y="965" font-size="24.6" fill="#000" text-anchor="end" font-weight="normal" font-style="normal" >0</text>
<text x="1272.6" y="949.2" font-size="24.6" textLength="98.3" lengthAdjust="spacingAndGlyphs" transform="rotate(-90 1272.6 949.2)">Enh. (dB)</text>
<text x="1318.9" y="1028" font-size="24.6">10<tspan font-size="14.5" dy="-10">2</tspan></text>
<text x="1471.7" y="1030" font-size="24.6">10<tspan font-size="14.5" dy="-10">3</tspan></text>
<text x="1657.5" y="1028" font-size="24.6">10<tspan font-size="14.5" dy="-10">4</tspan></text>
<text x="1422.2" y="1067.3" font-size="24.6" fill="#000" text-anchor="start" font-weight="normal" font-style="normal" textLength="166" lengthAdjust="spacingAndGlyphs" >Frequency (Hz)</text>
<rect x="1355.2" y="826.9" width="44.1" height="7" fill="#21bccf"/><rect x="1355.2" y="852.1" width="44.1" height="7" fill="#5a3ae6"/>
<text x="1411.9" y="837.6" font-size="24.6" fill="#21bccf" text-anchor="start" font-weight="normal" font-style="italic" >Y</text>
<text x="1410.3" y="863.2" font-size="24.6" fill="#5a3ae6" text-anchor="start" font-weight="normal" font-style="italic" >X</text>
<text x="1721.4" y="770.3" font-size="34" fill="#000" text-anchor="start" font-weight="bold" font-style="normal" textLength="10" lengthAdjust="spacingAndGlyphs" >j</text>
<text x="1833.9" y="793.3" font-size="24.6" fill="#000" text-anchor="start" font-weight="normal" font-style="normal" textLength="288.1" lengthAdjust="spacingAndGlyphs" >High vacuum (&lt;0.1 mTorr)</text>
<path d="M1799.2 832.1L1801.7 832.2L1804.3 832.2L1806.8 832.3L1809.3 832.2L1811.8 832.3L1816.5 829.8L1819.1 830.8L1821.6 831.9L1824.1 832.4L1826.6 833.3L1829.1 833.5L1831.7 834.4L1834.2 835.0L1836.7 835.9L1839.2 836.7L1841.7 837.0L1844.4 838.0L1847.0 838.8L1849.6 840.0L1852.2 840.7L1854.9 841.1L1857.5 842.3L1860.1 842.6L1862.7 843.7L1865.4 844.2L1868.0 844.9L1870.6 846.3L1873.2 846.6L1875.9 847.4L1878.5 848.7L1881.1 849.4L1883.7 849.8L1886.4 851.1L1889.0 851.6L1891.6 852.2L1894.2 852.5L1896.9 853.6L1899.5 854.0L1902.1 854.7L1904.7 855.3L1907.3 855.4L1910.0 856.1L1912.6 856.5L1915.2 857.1L1917.8 857.6L1920.5 858.3L1923.1 859.1L1925.7 859.3L1928.3 860.4L1931.0 860.8L1933.6 861.3L1936.2 862.3L1938.8 862.7L1941.5 863.2L1944.1 863.9L1946.7 864.6L1949.3 864.8L1952.0 866.0L1954.6 866.0L1957.2 867.2L1959.8 867.9L1962.5 868.0L1965.1 869.2L1967.7 869.6L1970.3 870.4L1973.0 870.6L1975.6 871.3L1978.2 872.0L1980.8 873.2L1983.5 873.4L1986.0 874.5L1988.5 875.4L1991.0 876.2L1993.5 876.5L1996.1 877.3L1998.8 878.0L2001.5 878.7L2004.2 878.8L2006.9 879.9L2009.6 880.5L2012.3 881.1L2015.0 881.1L2017.5 882.4L2020.0 882.4L2022.5 883.2L2025.0 884.1L2027.6 884.9L2030.1 885.1L2032.6 886.2L2035.1 886.5L2037.6 887.0L2040.2 887.6L2042.9 887.9L2045.7 888.2L2048.4 888.7L2051.2 889.5L2053.9 890.1L2056.7 889.9L2059.4 890.2L2062.2 891.2L2064.7 891.3L2067.2 891.7L2069.8 891.9L2072.3 892.6L2074.8 893.2L2077.3 893.3L2079.8 893.7L2082.4 893.9L2084.9 894.9L2087.4 894.7L2090.2 895.2L2092.9 895.7L2095.7 895.5L2098.4 896.1L2101.2 896.5L2103.9 896.5L2106.7 896.9L2109.4 896.6L2112.0 897.2L2114.5 897.3L2117.0 898.1L2119.5 898.0L2122.0 898.4L2124.6 899.1L2127.1 899.3L2129.6 899.7L2132.1 899.7L2134.6 900.0L2137.2 900.3L2139.8 900.2L2142.3 900.2L2144.9 900.4L2147.4 900.3L2150.0 900.6L2152.5 901.1L2155.1 901.2L2157.6 901.1L2157.6 915.0L2154.9 914.9L2152.1 915.1L2149.3 915.4L2146.5 915.2L2143.7 915.6L2140.9 915.7L2138.3 915.9L2135.7 916.4L2133.1 916.2L2130.4 916.4L2127.8 916.6L2125.2 917.0L2122.6 916.7L2119.9 917.1L2117.3 917.5L2114.7 917.6L2112.1 917.4L2109.4 918.0L2106.8 917.7L2104.2 917.9L2101.6 918.2L2099.0 918.3L2096.3 918.8L2093.7 918.9L2091.1 918.7L2088.5 919.2L2085.8 919.4L2083.2 919.3L2080.6 919.4L2078.0 920.1L2075.3 920.0L2072.7 920.4L2070.1 920.9L2067.5 921.1L2064.8 921.1L2062.2 921.4L2059.6 921.3L2057.0 921.7L2054.3 922.1L2051.7 922.4L2049.1 922.4L2046.5 922.9L2043.8 923.3L2041.2 923.3L2038.6 923.5L2036.0 923.9L2033.3 923.9L2030.7 924.5L2028.1 924.5L2025.5 925.0L2022.8 925.5L2020.2 925.4L2017.6 925.8L2015.0 926.0L2012.3 926.4L2009.6 926.5L2006.9 927.4L2004.2 927.3L2001.5 927.8L1998.8 928.1L1996.1 928.3L1993.5 928.7L1991.0 928.9L1988.5 929.3L1986.0 929.7L1983.5 930.2L1980.8 930.4L1978.2 930.8L1975.6 931.3L1973.0 931.8L1970.3 932.0L1967.7 932.7L1965.1 933.1L1962.5 933.3L1959.8 933.9L1957.2 934.2L1954.6 934.4L1952.0 934.7L1949.3 935.6L1946.7 936.0L1944.1 936.5L1941.5 936.9L1938.8 937.2L1936.2 937.8L1933.6 938.2L1931.0 938.7L1928.3 938.8L1925.7 939.6L1923.1 940.0L1920.5 940.5L1917.8 940.9L1915.2 941.7L1912.6 942.1L1910.0 942.3L1907.3 943.0L1904.7 943.5L1902.1 944.3L1899.5 944.8L1896.9 945.2L1894.2 945.8L1891.6 946.3L1889.0 946.6L1886.4 947.4L1883.7 947.9L1881.1 948.4L1878.5 948.7L1875.9 949.5L1873.2 950.0L1870.6 950.6L1868.0 951.0L1865.4 951.6L1862.7 951.9L1860.1 952.6L1857.5 952.9L1854.9 953.8L1852.2 954.3L1849.6 955.1L1847.0 955.2L1844.4 956.0L1841.7 956.6L1839.0 957.0L1836.2 957.5L1833.5 958.3L1830.7 958.7L1828.0 959.5L1825.2 960.1L1822.4 960.7L1819.7 961.3L1817.1 961.3L1814.4 961.1L1811.8 961.4L1809.3 961.2L1806.8 960.9L1804.3 960.7L1801.7 960.8L1799.2 960.8Z" fill="#21bccf"/>
<path d="M1799.2 832.1L1801.7 832.2L1804.3 832.2L1806.8 832.3L1809.3 832.2L1811.8 832.3L1816.5 829.8L1819.1 830.8L1821.6 831.9L1824.1 832.4L1826.6 833.3L1829.1 833.5L1831.7 834.4L1834.2 835.0L1836.7 835.9L1839.2 836.7L1841.7 837.0L1844.4 838.0L1847.0 838.8L1849.6 840.0L1852.2 840.7L1854.9 841.1L1857.5 842.3L1860.1 842.6L1862.7 843.7L1865.4 844.2L1868.0 844.9L1870.6 846.3L1873.2 846.6L1875.9 847.4L1878.5 848.7L1881.1 849.4L1883.7 849.8L1886.4 851.1L1889.0 851.6L1891.6 852.2L1894.2 852.5L1896.9 853.6L1899.5 854.0L1902.1 854.7L1904.7 855.3L1907.3 855.4L1910.0 856.1L1912.6 856.5L1915.2 857.1L1917.8 857.6L1920.5 858.3L1923.1 859.1L1925.7 859.3L1928.3 860.4L1931.0 860.8L1933.6 861.3L1936.2 862.3L1938.8 862.7L1941.5 863.2L1944.1 863.9L1946.7 864.6L1949.3 864.8L1952.0 866.0L1954.6 866.0L1957.2 867.2L1959.8 867.9L1962.5 868.0L1965.1 869.2L1967.7 869.6L1970.3 870.4L1973.0 870.6L1975.6 871.3L1978.2 872.0L1980.8 873.2L1983.5 873.4L1986.0 874.5L1988.5 875.4L1991.0 876.2L1993.5 876.5L1996.1 877.3L1998.8 878.0L2001.5 878.7L2004.2 878.8L2006.9 879.9L2009.6 880.5L2012.3 881.1L2015.0 881.1L2017.5 882.4L2020.0 882.4L2022.5 883.2L2025.0 884.1L2027.6 884.9L2030.1 885.1L2032.6 886.2L2035.1 886.5L2037.6 887.0L2040.2 887.6L2042.9 887.9L2045.7 888.2L2048.4 888.7L2051.2 889.5L2053.9 890.1L2056.7 889.9L2059.4 890.2L2062.2 891.2L2064.7 891.3L2067.2 891.7L2069.8 891.9L2072.3 892.6L2074.8 893.2L2077.3 893.3L2079.8 893.7L2082.4 893.9L2084.9 894.9L2087.4 894.7L2090.2 895.2L2092.9 895.7L2095.7 895.5L2098.4 896.1L2101.2 896.5L2103.9 896.5L2106.7 896.9L2109.4 896.6L2112.0 897.2L2114.5 897.3L2117.0 898.1L2119.5 898.0L2122.0 898.4L2124.6 899.1L2127.1 899.3L2129.6 899.7L2132.1 899.7L2134.6 900.0L2137.2 900.3L2139.8 900.2L2142.3 900.2L2144.9 900.4L2147.4 900.3L2150.0 900.6L2152.5 901.1L2155.1 901.2L2157.6 901.1" fill="none" stroke="#4a38d8" stroke-width="3"/>
<path d="M1799.2 960.8L1801.7 960.8L1804.3 960.7L1806.8 960.9L1809.3 961.2L1811.8 961.4L1814.4 961.1L1817.1 961.3L1819.7 961.3L1822.4 960.7L1825.2 960.1L1828.0 959.5L1830.7 958.7L1833.5 958.3L1836.2 957.5L1839.0 957.0L1841.7 956.6L1844.4 956.0L1847.0 955.2L1849.6 955.1L1852.2 954.3L1854.9 953.8L1857.5 952.9L1860.1 952.6L1862.7 951.9L1865.4 951.6L1868.0 951.0L1870.6 950.6L1873.2 950.0L1875.9 949.5L1878.5 948.7L1881.1 948.4L1883.7 947.9L1886.4 947.4L1889.0 946.6L1891.6 946.3L1894.2 945.8L1896.9 945.2L1899.5 944.8L1902.1 944.3L1904.7 943.5L1907.3 943.0L1910.0 942.3L1912.6 942.1L1915.2 941.7L1917.8 940.9L1920.5 940.5L1923.1 940.0L1925.7 939.6L1928.3 938.8L1931.0 938.7L1933.6 938.2L1936.2 937.8L1938.8 937.2L1941.5 936.9L1944.1 936.5L1946.7 936.0L1949.3 935.6L1952.0 934.7L1954.6 934.4L1957.2 934.2L1959.8 933.9L1962.5 933.3L1965.1 933.1L1967.7 932.7L1970.3 932.0L1973.0 931.8L1975.6 931.3L1978.2 930.8L1980.8 930.4L1983.5 930.2L1986.0 929.7L1988.5 929.3L1991.0 928.9L1993.5 928.7L1996.1 928.3L1998.8 928.1L2001.5 927.8L2004.2 927.3L2006.9 927.4L2009.6 926.5L2012.3 926.4L2015.0 926.0L2017.6 925.8L2020.2 925.4L2022.8 925.5L2025.5 925.0L2028.1 924.5L2030.7 924.5L2033.3 923.9L2036.0 923.9L2038.6 923.5L2041.2 923.3L2043.8 923.3L2046.5 922.9L2049.1 922.4L2051.7 922.4L2054.3 922.1L2057.0 921.7L2059.6 921.3L2062.2 921.4L2064.8 921.1L2067.5 921.1L2070.1 920.9L2072.7 920.4L2075.3 920.0L2078.0 920.1L2080.6 919.4L2083.2 919.3L2085.8 919.4L2088.5 919.2L2091.1 918.7L2093.7 918.9L2096.3 918.8L2099.0 918.3L2101.6 918.2L2104.2 917.9L2106.8 917.7L2109.4 918.0L2112.1 917.4L2114.7 917.6L2117.3 917.5L2119.9 917.1L2122.6 916.7L2125.2 917.0L2127.8 916.6L2130.4 916.4L2133.1 916.2L2135.7 916.4L2138.3 915.9L2140.9 915.7L2143.7 915.6L2146.5 915.2L2149.3 915.4L2152.1 915.1L2154.9 914.9L2157.6 915.0" fill="none" stroke="#7a68ee" stroke-width="3"/>
<path d="M1799.2 817.5 L1799.2 990.1 L2157.6 990.1" fill="none" stroke="#333" stroke-width="1.4"/>
<line x1="1799.2" y1="832" x2="1803.2" y2="832" stroke="#333" stroke-width="1.2"/>
<line x1="1799.2" y1="904.1" x2="1803.2" y2="904.1" stroke="#333" stroke-width="1.2"/>
<line x1="1799.2" y1="976.6" x2="1803.2" y2="976.6" stroke="#333" stroke-width="1.2"/>
<line x1="1811.8" y1="990.1" x2="1811.8" y2="986.1" stroke="#333" stroke-width="1.2"/>
<line x1="1950.4" y1="990.1" x2="1950.4" y2="986.1" stroke="#333" stroke-width="1.2"/>
<line x1="2088" y1="990.1" x2="2088" y2="986.1" stroke="#333" stroke-width="1.2"/>
<line x1="1811.8" y1="817.5" x2="1811.8" y2="990.1" stroke="#f59a5c" stroke-width="2.4" stroke-dasharray="7 5"/>
<line x1="1996.1" y1="817.5" x2="1996.1" y2="990.1" stroke="#f59a5c" stroke-width="2.4" stroke-dasharray="7 5"/>
<line x1="1799.2" y1="876.7" x2="2157.6" y2="876.7" stroke="#e8302e" stroke-width="1.5" stroke-dasharray="9.5 5"/>
<text x="1785.5" y="839.9" font-size="24.6" fill="#000" text-anchor="end" font-weight="normal" font-style="normal" >1</text>
<text x="1785.7" y="911.4" font-size="24.6" fill="#000" text-anchor="end" font-weight="normal" font-style="normal" >0</text>
<text x="1785.5" y="983.8" font-size="24.6" fill="#000" text-anchor="end" font-weight="normal" font-style="normal" >–1</text>
<text x="1811.8" y="1017.8" font-size="24.6" fill="#000" text-anchor="middle" font-weight="normal" font-style="normal" >0</text>
<text x="1950.4" y="1017.8" font-size="24.6" fill="#000" text-anchor="middle" font-weight="normal" font-style="normal" >2</text>
<text x="2088" y="1017.8" font-size="24.6" fill="#000" text-anchor="middle" font-weight="normal" font-style="normal" >4</text>
<text x="1741.9" y="962.4" font-size="24.6" textLength="117.2" lengthAdjust="spacingAndGlyphs" transform="rotate(-90 1741.9 962.4)">Amp. (a.u.)</text>
<text x="1935.6" y="1053.1" font-size="24.6" fill="#000" text-anchor="start" font-weight="normal" font-style="normal" textLength="85.7" lengthAdjust="spacingAndGlyphs" >Time (s)</text>
<text x="1868.5" y="838.3" font-size="24.6" textLength="105.5" lengthAdjust="spacingAndGlyphs"><tspan font-family="Liberation Serif,serif" font-style="italic" font-size="25">τ</tspan> ≈ 2.61 s</text>
<text x="2003" y="838.3" font-size="24.6" textLength="122.2" lengthAdjust="spacingAndGlyphs"><tspan font-style="italic">Q</tspan> ≈ 10,020</text>
<text x="2016.5" y="964.9" font-size="24.6" textLength="134.5" lengthAdjust="spacingAndGlyphs"><tspan font-style="italic">f</tspan> ≈ 1.22 kHz</text>
</svg>
</body></html>
